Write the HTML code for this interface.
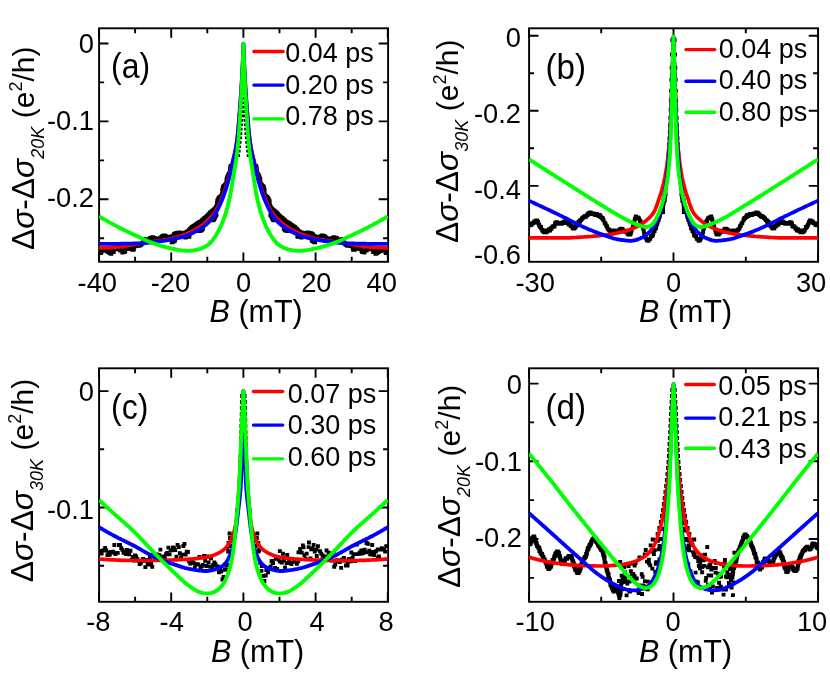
<!DOCTYPE html>
<html><head><meta charset="utf-8"><title>figure</title>
<style>
html,body{margin:0;padding:0;background:#fff;}
svg{display:block;will-change:transform;}
text{font-family:"Liberation Sans", sans-serif;fill:#000;}
</style></head>
<body>

<svg width="830" height="675" viewBox="0 0 830 675">
<rect width="830" height="675" fill="#fff"/>
<g>
<clipPath id="cpa"><rect x="99.1" y="28.3" width="289.0" height="233.5"/></clipPath>
<path d="M99.0 261.8v-9.4M99.0 28.3v9.4M171.2 261.8v-9.4M171.2 28.3v9.4M243.4 261.8v-9.4M243.4 28.3v9.4M315.6 261.8v-9.4M315.6 28.3v9.4M387.8 261.8v-9.4M387.8 28.3v9.4M135.1 261.8v-5.0M135.1 28.3v5.0M207.3 261.8v-5.0M207.3 28.3v5.0M279.5 261.8v-5.0M279.5 28.3v5.0M351.7 261.8v-5.0M351.7 28.3v5.0M99.1 43.5h9.4M388.1 43.5h-9.4M99.1 121.4h9.4M388.1 121.4h-9.4M99.1 199.3h9.4M388.1 199.3h-9.4M99.1 82.4h5.0M388.1 82.4h-5.0M99.1 160.4h5.0M388.1 160.4h-5.0M99.1 238.3h5.0M388.1 238.3h-5.0" stroke="#000" stroke-width="1.9" fill="none"/>
<rect x="99.1" y="28.3" width="289.0" height="233.5" fill="none" stroke="#000" stroke-width="1.9"/>
<g clip-path="url(#cpa)">
<path d="M98.3 249.8h3.9v3.9h-3.9zM98.9 251.2h3.9v3.9h-3.9zM99.5 250.4h3.9v3.9h-3.9zM100.0 248.5h3.9v3.9h-3.9zM100.7 248.7h3.9v3.9h-3.9zM101.2 248.1h3.9v3.9h-3.9zM101.9 248.3h3.9v3.9h-3.9zM102.5 248.5h3.9v3.9h-3.9zM103.0 246.7h3.9v3.9h-3.9zM103.6 246.7h3.9v3.9h-3.9zM104.3 249.1h3.9v3.9h-3.9zM104.9 248.5h3.9v3.9h-3.9zM105.6 249.8h3.9v3.9h-3.9zM106.1 248.4h3.9v3.9h-3.9zM106.8 250.0h3.9v3.9h-3.9zM107.5 251.1h3.9v3.9h-3.9zM108.0 250.0h3.9v3.9h-3.9zM108.8 251.9h3.9v3.9h-3.9zM109.4 251.8h3.9v3.9h-3.9zM109.8 249.2h3.9v3.9h-3.9zM110.4 248.8h3.9v3.9h-3.9zM111.0 249.7h3.9v3.9h-3.9zM111.7 250.1h3.9v3.9h-3.9zM112.1 248.1h3.9v3.9h-3.9zM112.7 247.2h3.9v3.9h-3.9zM113.3 247.3h3.9v3.9h-3.9zM113.8 245.9h3.9v3.9h-3.9zM114.4 246.2h3.9v3.9h-3.9zM115.1 246.8h3.9v3.9h-3.9zM115.7 247.1h3.9v3.9h-3.9zM116.3 246.7h3.9v3.9h-3.9zM117.0 247.1h3.9v3.9h-3.9zM117.6 247.5h3.9v3.9h-3.9zM118.3 248.6h3.9v3.9h-3.9zM119.0 248.6h3.9v3.9h-3.9zM119.5 248.2h3.9v3.9h-3.9zM120.4 250.5h3.9v3.9h-3.9zM121.0 249.8h3.9v3.9h-3.9zM121.6 249.9h3.9v3.9h-3.9zM122.0 248.5h3.9v3.9h-3.9zM122.8 250.1h3.9v3.9h-3.9zM123.3 249.2h3.9v3.9h-3.9zM123.6 246.7h3.9v3.9h-3.9zM124.2 246.7h3.9v3.9h-3.9zM124.9 247.1h3.9v3.9h-3.9zM125.4 246.6h3.9v3.9h-3.9zM126.1 246.8h3.9v3.9h-3.9zM126.5 245.3h3.9v3.9h-3.9zM127.2 246.3h3.9v3.9h-3.9zM127.8 246.0h3.9v3.9h-3.9zM128.3 245.3h3.9v3.9h-3.9zM129.1 246.4h3.9v3.9h-3.9zM129.9 247.6h3.9v3.9h-3.9zM130.6 247.9h3.9v3.9h-3.9zM131.1 247.4h3.9v3.9h-3.9zM131.8 247.9h3.9v3.9h-3.9zM132.1 245.7h3.9v3.9h-3.9zM132.5 244.8h3.9v3.9h-3.9zM132.9 243.3h3.9v3.9h-3.9zM133.6 243.8h3.9v3.9h-3.9zM134.3 244.2h3.9v3.9h-3.9zM134.7 243.4h3.9v3.9h-3.9zM135.3 243.2h3.9v3.9h-3.9zM135.9 243.3h3.9v3.9h-3.9zM136.6 243.9h3.9v3.9h-3.9zM137.2 243.8h3.9v3.9h-3.9zM137.8 243.5h3.9v3.9h-3.9zM138.2 242.7h3.9v3.9h-3.9zM138.9 242.8h3.9v3.9h-3.9zM139.4 242.5h3.9v3.9h-3.9zM139.9 241.6h3.9v3.9h-3.9zM140.5 241.7h3.9v3.9h-3.9zM141.0 240.8h3.9v3.9h-3.9zM141.3 238.6h3.9v3.9h-3.9zM141.7 237.2h3.9v3.9h-3.9zM142.3 237.2h3.9v3.9h-3.9zM142.8 236.9h3.9v3.9h-3.9zM143.8 239.5h3.9v3.9h-3.9zM144.4 239.2h3.9v3.9h-3.9zM144.9 238.6h3.9v3.9h-3.9zM145.5 238.5h3.9v3.9h-3.9zM146.1 238.3h3.9v3.9h-3.9zM146.6 237.6h3.9v3.9h-3.9zM147.2 237.6h3.9v3.9h-3.9zM147.7 236.8h3.9v3.9h-3.9zM148.2 236.0h3.9v3.9h-3.9zM148.7 235.9h3.9v3.9h-3.9zM149.3 235.7h3.9v3.9h-3.9zM149.9 235.7h3.9v3.9h-3.9zM150.5 235.5h3.9v3.9h-3.9zM151.1 235.3h3.9v3.9h-3.9zM151.8 236.2h3.9v3.9h-3.9zM152.4 235.9h3.9v3.9h-3.9zM153.0 236.2h3.9v3.9h-3.9zM153.7 236.5h3.9v3.9h-3.9zM154.3 236.9h3.9v3.9h-3.9zM155.0 237.1h3.9v3.9h-3.9zM155.6 237.4h3.9v3.9h-3.9zM156.2 237.3h3.9v3.9h-3.9zM156.8 237.3h3.9v3.9h-3.9zM157.4 237.3h3.9v3.9h-3.9zM157.9 236.3h3.9v3.9h-3.9zM158.5 236.0h3.9v3.9h-3.9zM159.0 235.8h3.9v3.9h-3.9zM159.5 235.1h3.9v3.9h-3.9zM160.0 234.6h3.9v3.9h-3.9zM160.6 234.3h3.9v3.9h-3.9zM161.2 234.0h3.9v3.9h-3.9zM161.7 233.7h3.9v3.9h-3.9zM162.3 233.6h3.9v3.9h-3.9zM162.9 233.6h3.9v3.9h-3.9zM163.5 233.9h3.9v3.9h-3.9zM164.2 234.5h3.9v3.9h-3.9zM164.9 234.7h3.9v3.9h-3.9zM165.5 235.0h3.9v3.9h-3.9zM166.1 235.0h3.9v3.9h-3.9zM166.7 235.0h3.9v3.9h-3.9zM167.3 235.1h3.9v3.9h-3.9zM167.9 235.1h3.9v3.9h-3.9zM168.5 235.0h3.9v3.9h-3.9zM169.7 240.4h3.9v3.9h-3.9zM169.2 235.3h3.9v3.9h-3.9zM170.3 240.3h3.9v3.9h-3.9zM169.6 234.5h3.9v3.9h-3.9zM170.8 239.9h3.9v3.9h-3.9zM170.1 234.2h3.9v3.9h-3.9zM171.4 239.5h3.9v3.9h-3.9zM170.7 234.3h3.9v3.9h-3.9zM171.9 239.1h3.9v3.9h-3.9zM171.2 233.8h3.9v3.9h-3.9zM172.5 238.8h3.9v3.9h-3.9zM171.7 233.3h3.9v3.9h-3.9zM173.1 238.7h3.9v3.9h-3.9zM172.0 232.3h3.9v3.9h-3.9zM172.6 232.2h3.9v3.9h-3.9zM173.1 232.0h3.9v3.9h-3.9zM173.5 231.2h3.9v3.9h-3.9zM174.1 231.2h3.9v3.9h-3.9zM174.7 231.2h3.9v3.9h-3.9zM175.3 231.0h3.9v3.9h-3.9zM175.8 230.7h3.9v3.9h-3.9zM176.4 231.0h3.9v3.9h-3.9zM177.0 230.9h3.9v3.9h-3.9zM177.6 230.6h3.9v3.9h-3.9zM178.3 230.9h3.9v3.9h-3.9zM179.0 231.1h3.9v3.9h-3.9zM179.6 231.0h3.9v3.9h-3.9zM180.3 231.4h3.9v3.9h-3.9zM180.9 231.2h3.9v3.9h-3.9zM181.5 231.1h3.9v3.9h-3.9zM183.2 235.7h3.9v3.9h-3.9zM182.2 231.3h3.9v3.9h-3.9zM183.7 235.3h3.9v3.9h-3.9zM182.8 231.2h3.9v3.9h-3.9zM184.2 235.0h3.9v3.9h-3.9zM183.1 230.5h3.9v3.9h-3.9zM184.8 234.8h3.9v3.9h-3.9zM183.8 230.5h3.9v3.9h-3.9zM185.5 234.8h3.9v3.9h-3.9zM184.4 230.5h3.9v3.9h-3.9zM186.2 234.9h3.9v3.9h-3.9zM184.8 229.9h3.9v3.9h-3.9zM186.9 234.9h3.9v3.9h-3.9zM185.3 229.4h3.9v3.9h-3.9zM187.5 234.7h3.9v3.9h-3.9zM186.0 229.7h3.9v3.9h-3.9zM186.5 229.3h3.9v3.9h-3.9zM186.9 228.8h3.9v3.9h-3.9zM187.1 227.9h3.9v3.9h-3.9zM187.8 227.9h3.9v3.9h-3.9zM188.0 227.1h3.9v3.9h-3.9zM188.5 226.7h3.9v3.9h-3.9zM188.9 226.4h3.9v3.9h-3.9zM189.5 226.2h3.9v3.9h-3.9zM189.7 225.3h3.9v3.9h-3.9zM190.2 225.0h3.9v3.9h-3.9zM190.7 224.8h3.9v3.9h-3.9zM191.3 224.7h3.9v3.9h-3.9zM191.6 224.0h3.9v3.9h-3.9zM192.2 223.9h3.9v3.9h-3.9zM192.6 223.4h3.9v3.9h-3.9zM193.2 223.3h3.9v3.9h-3.9zM196.6 229.1h3.9v3.9h-3.9zM193.5 222.8h3.9v3.9h-3.9zM197.2 229.0h3.9v3.9h-3.9zM194.2 222.9h3.9v3.9h-3.9zM197.9 228.9h3.9v3.9h-3.9zM194.6 222.4h3.9v3.9h-3.9zM198.6 228.8h3.9v3.9h-3.9zM194.8 221.7h3.9v3.9h-3.9zM199.2 228.5h3.9v3.9h-3.9zM195.3 221.5h3.9v3.9h-3.9zM199.8 228.2h3.9v3.9h-3.9zM196.1 221.6h3.9v3.9h-3.9zM200.2 227.7h3.9v3.9h-3.9zM196.3 220.9h3.9v3.9h-3.9zM200.6 227.1h3.9v3.9h-3.9zM197.0 221.0h3.9v3.9h-3.9zM201.0 226.5h3.9v3.9h-3.9zM197.2 220.3h3.9v3.9h-3.9zM197.8 220.1h3.9v3.9h-3.9zM198.4 220.0h3.9v3.9h-3.9zM198.9 219.8h3.9v3.9h-3.9zM199.5 219.6h3.9v3.9h-3.9zM199.5 218.7h3.9v3.9h-3.9zM200.4 218.9h3.9v3.9h-3.9zM200.4 218.0h3.9v3.9h-3.9zM200.8 217.6h3.9v3.9h-3.9zM201.5 217.5h3.9v3.9h-3.9zM202.1 217.3h3.9v3.9h-3.9zM202.2 216.5h3.9v3.9h-3.9zM202.5 216.1h3.9v3.9h-3.9zM203.1 215.8h3.9v3.9h-3.9zM203.6 215.6h3.9v3.9h-3.9zM204.1 215.2h3.9v3.9h-3.9zM204.5 214.9h3.9v3.9h-3.9zM205.0 214.5h3.9v3.9h-3.9zM205.1 213.9h3.9v3.9h-3.9zM205.7 213.6h3.9v3.9h-3.9zM206.2 213.3h3.9v3.9h-3.9zM211.4 218.3h3.9v3.9h-3.9zM206.6 213.0h3.9v3.9h-3.9zM211.8 217.7h3.9v3.9h-3.9zM206.7 212.3h3.9v3.9h-3.9zM212.2 217.2h3.9v3.9h-3.9zM207.3 212.1h3.9v3.9h-3.9zM212.5 216.5h3.9v3.9h-3.9zM207.6 211.6h3.9v3.9h-3.9zM212.7 215.9h3.9v3.9h-3.9zM208.1 211.3h3.9v3.9h-3.9zM213.0 215.3h3.9v3.9h-3.9zM208.1 210.6h3.9v3.9h-3.9zM213.3 214.7h3.9v3.9h-3.9zM208.5 210.2h3.9v3.9h-3.9zM213.6 214.1h3.9v3.9h-3.9zM209.5 210.3h3.9v3.9h-3.9zM214.0 213.6h3.9v3.9h-3.9zM209.9 209.8h3.9v3.9h-3.9zM214.5 213.2h3.9v3.9h-3.9zM210.2 209.4h3.9v3.9h-3.9zM210.3 208.8h3.9v3.9h-3.9zM210.9 208.5h3.9v3.9h-3.9zM211.7 208.3h3.9v3.9h-3.9zM212.2 208.0h3.9v3.9h-3.9zM212.4 207.4h3.9v3.9h-3.9zM212.7 206.9h3.9v3.9h-3.9zM213.1 206.5h3.9v3.9h-3.9zM213.9 206.2h3.9v3.9h-3.9zM213.9 205.6h3.9v3.9h-3.9zM214.4 205.1h3.9v3.9h-3.9zM214.8 204.7h3.9v3.9h-3.9zM214.6 203.9h3.9v3.9h-3.9zM215.3 203.6h3.9v3.9h-3.9zM215.1 202.8h3.9v3.9h-3.9zM215.6 202.4h3.9v3.9h-3.9zM215.6 201.8h3.9v3.9h-3.9zM215.1 200.9h3.9v3.9h-3.9zM215.6 200.5h3.9v3.9h-3.9zM215.3 199.7h3.9v3.9h-3.9zM215.5 199.1h3.9v3.9h-3.9zM215.4 198.4h3.9v3.9h-3.9zM216.0 198.0h3.9v3.9h-3.9zM216.2 197.5h3.9v3.9h-3.9zM216.6 197.0h3.9v3.9h-3.9zM216.5 196.3h3.9v3.9h-3.9zM217.1 195.9h3.9v3.9h-3.9zM217.3 195.4h3.9v3.9h-3.9zM217.8 194.9h3.9v3.9h-3.9zM218.8 194.7h3.9v3.9h-3.9zM219.0 194.1h3.9v3.9h-3.9zM219.7 193.8h3.9v3.9h-3.9zM220.1 193.3h3.9v3.9h-3.9zM220.4 192.8h3.9v3.9h-3.9zM220.1 192.0h3.9v3.9h-3.9zM220.3 191.4h3.9v3.9h-3.9zM220.3 190.8h3.9v3.9h-3.9zM220.7 190.3h3.9v3.9h-3.9zM220.5 189.6h3.9v3.9h-3.9zM220.3 188.9h3.9v3.9h-3.9zM220.6 188.4h3.9v3.9h-3.9zM220.4 187.7h3.9v3.9h-3.9zM220.7 187.2h3.9v3.9h-3.9zM221.0 186.6h3.9v3.9h-3.9zM221.0 186.0h3.9v3.9h-3.9zM220.9 185.3h3.9v3.9h-3.9zM221.5 184.9h3.9v3.9h-3.9zM221.6 184.3h3.9v3.9h-3.9zM222.4 183.9h3.9v3.9h-3.9zM222.9 183.5h3.9v3.9h-3.9zM223.0 182.9h3.9v3.9h-3.9zM223.4 182.4h3.9v3.9h-3.9zM224.3 182.0h3.9v3.9h-3.9zM224.1 181.4h3.9v3.9h-3.9zM224.7 180.9h3.9v3.9h-3.9zM224.8 180.3h3.9v3.9h-3.9zM224.5 179.6h3.9v3.9h-3.9zM225.0 179.1h3.9v3.9h-3.9zM224.9 178.5h3.9v3.9h-3.9zM224.5 177.7h3.9v3.9h-3.9zM224.9 177.2h3.9v3.9h-3.9zM225.1 176.7h3.9v3.9h-3.9zM225.2 176.1h3.9v3.9h-3.9zM225.3 175.5h3.9v3.9h-3.9zM225.4 174.9h3.9v3.9h-3.9zM225.9 174.4h3.9v3.9h-3.9zM225.9 173.8h3.9v3.9h-3.9zM226.4 173.3h3.9v3.9h-3.9zM226.5 172.7h3.9v3.9h-3.9zM226.9 172.1h3.9v3.9h-3.9zM227.3 171.7h3.9v3.9h-3.9zM227.6 171.1h3.9v3.9h-3.9zM227.7 170.5h3.9v3.9h-3.9zM227.9 169.9h3.9v3.9h-3.9zM227.9 169.3h3.9v3.9h-3.9zM228.1 168.8h3.9v3.9h-3.9zM228.2 168.1h3.9v3.9h-3.9zM228.0 167.5h3.9v3.9h-3.9zM228.2 166.9h3.9v3.9h-3.9zM228.2 166.3h3.9v3.9h-3.9zM228.4 165.7h3.9v3.9h-3.9zM228.5 165.1h3.9v3.9h-3.9zM228.8 164.6h3.9v3.9h-3.9zM228.7 164.0h3.9v3.9h-3.9zM384.6 249.8h3.9v3.9h-3.9zM384.0 251.2h3.9v3.9h-3.9zM383.4 250.4h3.9v3.9h-3.9zM382.9 248.5h3.9v3.9h-3.9zM382.2 248.7h3.9v3.9h-3.9zM381.7 248.1h3.9v3.9h-3.9zM381.0 248.3h3.9v3.9h-3.9zM380.4 248.5h3.9v3.9h-3.9zM379.9 246.7h3.9v3.9h-3.9zM379.3 246.7h3.9v3.9h-3.9zM378.6 249.1h3.9v3.9h-3.9zM378.0 248.5h3.9v3.9h-3.9zM377.3 249.8h3.9v3.9h-3.9zM376.8 248.4h3.9v3.9h-3.9zM376.1 250.0h3.9v3.9h-3.9zM375.4 251.1h3.9v3.9h-3.9zM374.9 250.0h3.9v3.9h-3.9zM374.1 251.9h3.9v3.9h-3.9zM373.5 251.8h3.9v3.9h-3.9zM373.1 249.2h3.9v3.9h-3.9zM372.5 248.8h3.9v3.9h-3.9zM371.9 249.7h3.9v3.9h-3.9zM371.2 250.1h3.9v3.9h-3.9zM370.8 248.1h3.9v3.9h-3.9zM370.2 247.2h3.9v3.9h-3.9zM369.6 247.3h3.9v3.9h-3.9zM369.1 245.9h3.9v3.9h-3.9zM368.5 246.2h3.9v3.9h-3.9zM367.8 246.8h3.9v3.9h-3.9zM367.2 247.1h3.9v3.9h-3.9zM366.6 246.7h3.9v3.9h-3.9zM365.9 247.1h3.9v3.9h-3.9zM365.3 247.5h3.9v3.9h-3.9zM364.6 248.6h3.9v3.9h-3.9zM363.9 248.6h3.9v3.9h-3.9zM363.4 248.2h3.9v3.9h-3.9zM362.5 250.5h3.9v3.9h-3.9zM361.9 249.8h3.9v3.9h-3.9zM361.3 249.9h3.9v3.9h-3.9zM360.9 248.5h3.9v3.9h-3.9zM360.1 250.1h3.9v3.9h-3.9zM359.6 249.2h3.9v3.9h-3.9zM359.3 246.7h3.9v3.9h-3.9zM358.7 246.7h3.9v3.9h-3.9zM358.0 247.1h3.9v3.9h-3.9zM357.5 246.6h3.9v3.9h-3.9zM356.8 246.8h3.9v3.9h-3.9zM356.4 245.3h3.9v3.9h-3.9zM355.7 246.3h3.9v3.9h-3.9zM355.1 246.0h3.9v3.9h-3.9zM354.6 245.3h3.9v3.9h-3.9zM353.8 246.4h3.9v3.9h-3.9zM353.0 247.6h3.9v3.9h-3.9zM352.3 247.9h3.9v3.9h-3.9zM351.8 247.4h3.9v3.9h-3.9zM351.1 247.9h3.9v3.9h-3.9zM350.8 245.7h3.9v3.9h-3.9zM350.4 244.8h3.9v3.9h-3.9zM350.0 243.3h3.9v3.9h-3.9zM349.3 243.8h3.9v3.9h-3.9zM348.6 244.2h3.9v3.9h-3.9zM348.2 243.4h3.9v3.9h-3.9zM347.6 243.2h3.9v3.9h-3.9zM347.0 243.3h3.9v3.9h-3.9zM346.3 243.9h3.9v3.9h-3.9zM345.7 243.8h3.9v3.9h-3.9zM345.1 243.5h3.9v3.9h-3.9zM344.7 242.7h3.9v3.9h-3.9zM344.0 242.8h3.9v3.9h-3.9zM343.5 242.5h3.9v3.9h-3.9zM343.0 241.6h3.9v3.9h-3.9zM342.4 241.7h3.9v3.9h-3.9zM341.9 240.8h3.9v3.9h-3.9zM341.6 238.6h3.9v3.9h-3.9zM341.2 237.2h3.9v3.9h-3.9zM340.6 237.2h3.9v3.9h-3.9zM340.1 236.9h3.9v3.9h-3.9zM339.1 239.5h3.9v3.9h-3.9zM338.5 239.2h3.9v3.9h-3.9zM338.0 238.6h3.9v3.9h-3.9zM337.4 238.5h3.9v3.9h-3.9zM336.8 238.3h3.9v3.9h-3.9zM336.3 237.6h3.9v3.9h-3.9zM335.7 237.6h3.9v3.9h-3.9zM335.2 236.8h3.9v3.9h-3.9zM334.7 236.0h3.9v3.9h-3.9zM334.2 235.9h3.9v3.9h-3.9zM333.6 235.7h3.9v3.9h-3.9zM333.0 235.7h3.9v3.9h-3.9zM332.4 235.5h3.9v3.9h-3.9zM331.8 235.3h3.9v3.9h-3.9zM331.1 236.2h3.9v3.9h-3.9zM330.5 235.9h3.9v3.9h-3.9zM329.9 236.2h3.9v3.9h-3.9zM329.2 236.5h3.9v3.9h-3.9zM328.6 236.9h3.9v3.9h-3.9zM327.9 237.1h3.9v3.9h-3.9zM327.3 237.4h3.9v3.9h-3.9zM326.7 237.3h3.9v3.9h-3.9zM326.1 237.3h3.9v3.9h-3.9zM325.5 237.3h3.9v3.9h-3.9zM325.0 236.3h3.9v3.9h-3.9zM324.4 236.0h3.9v3.9h-3.9zM323.9 235.8h3.9v3.9h-3.9zM323.4 235.1h3.9v3.9h-3.9zM322.9 234.6h3.9v3.9h-3.9zM322.3 234.3h3.9v3.9h-3.9zM321.7 234.0h3.9v3.9h-3.9zM321.2 233.7h3.9v3.9h-3.9zM320.6 233.6h3.9v3.9h-3.9zM320.0 233.6h3.9v3.9h-3.9zM319.4 233.9h3.9v3.9h-3.9zM318.7 234.5h3.9v3.9h-3.9zM318.0 234.7h3.9v3.9h-3.9zM317.4 235.0h3.9v3.9h-3.9zM316.8 235.0h3.9v3.9h-3.9zM316.2 235.0h3.9v3.9h-3.9zM315.6 235.1h3.9v3.9h-3.9zM315.0 235.1h3.9v3.9h-3.9zM314.4 235.0h3.9v3.9h-3.9zM313.2 240.4h3.9v3.9h-3.9zM313.7 235.3h3.9v3.9h-3.9zM312.6 240.3h3.9v3.9h-3.9zM313.3 234.5h3.9v3.9h-3.9zM312.1 239.9h3.9v3.9h-3.9zM312.8 234.2h3.9v3.9h-3.9zM311.5 239.5h3.9v3.9h-3.9zM312.2 234.3h3.9v3.9h-3.9zM311.0 239.1h3.9v3.9h-3.9zM311.7 233.8h3.9v3.9h-3.9zM310.4 238.8h3.9v3.9h-3.9zM311.2 233.3h3.9v3.9h-3.9zM309.8 238.7h3.9v3.9h-3.9zM310.9 232.3h3.9v3.9h-3.9zM310.3 232.2h3.9v3.9h-3.9zM309.8 232.0h3.9v3.9h-3.9zM309.4 231.2h3.9v3.9h-3.9zM308.8 231.2h3.9v3.9h-3.9zM308.2 231.2h3.9v3.9h-3.9zM307.6 231.0h3.9v3.9h-3.9zM307.1 230.7h3.9v3.9h-3.9zM306.5 231.0h3.9v3.9h-3.9zM305.9 230.9h3.9v3.9h-3.9zM305.3 230.6h3.9v3.9h-3.9zM304.6 230.9h3.9v3.9h-3.9zM303.9 231.1h3.9v3.9h-3.9zM303.3 231.0h3.9v3.9h-3.9zM302.6 231.4h3.9v3.9h-3.9zM302.0 231.2h3.9v3.9h-3.9zM301.4 231.1h3.9v3.9h-3.9zM299.7 235.7h3.9v3.9h-3.9zM300.7 231.3h3.9v3.9h-3.9zM299.2 235.3h3.9v3.9h-3.9zM300.1 231.2h3.9v3.9h-3.9zM298.7 235.0h3.9v3.9h-3.9zM299.8 230.5h3.9v3.9h-3.9zM298.1 234.8h3.9v3.9h-3.9zM299.1 230.5h3.9v3.9h-3.9zM297.4 234.8h3.9v3.9h-3.9zM298.5 230.5h3.9v3.9h-3.9zM296.7 234.9h3.9v3.9h-3.9zM298.1 229.9h3.9v3.9h-3.9zM296.0 234.9h3.9v3.9h-3.9zM297.6 229.4h3.9v3.9h-3.9zM295.4 234.7h3.9v3.9h-3.9zM296.9 229.7h3.9v3.9h-3.9zM296.4 229.3h3.9v3.9h-3.9zM296.0 228.8h3.9v3.9h-3.9zM295.8 227.9h3.9v3.9h-3.9zM295.1 227.9h3.9v3.9h-3.9zM294.9 227.1h3.9v3.9h-3.9zM294.4 226.7h3.9v3.9h-3.9zM294.0 226.4h3.9v3.9h-3.9zM293.4 226.2h3.9v3.9h-3.9zM293.2 225.3h3.9v3.9h-3.9zM292.7 225.0h3.9v3.9h-3.9zM292.2 224.8h3.9v3.9h-3.9zM291.6 224.7h3.9v3.9h-3.9zM291.3 224.0h3.9v3.9h-3.9zM290.7 223.9h3.9v3.9h-3.9zM290.3 223.4h3.9v3.9h-3.9zM289.7 223.3h3.9v3.9h-3.9zM286.3 229.1h3.9v3.9h-3.9zM289.4 222.8h3.9v3.9h-3.9zM285.7 229.0h3.9v3.9h-3.9zM288.7 222.9h3.9v3.9h-3.9zM285.0 228.9h3.9v3.9h-3.9zM288.3 222.4h3.9v3.9h-3.9zM284.3 228.8h3.9v3.9h-3.9zM288.1 221.7h3.9v3.9h-3.9zM283.7 228.5h3.9v3.9h-3.9zM287.6 221.5h3.9v3.9h-3.9zM283.1 228.2h3.9v3.9h-3.9zM286.8 221.6h3.9v3.9h-3.9zM282.7 227.7h3.9v3.9h-3.9zM286.6 220.9h3.9v3.9h-3.9zM282.3 227.1h3.9v3.9h-3.9zM285.9 221.0h3.9v3.9h-3.9zM281.9 226.5h3.9v3.9h-3.9zM285.7 220.3h3.9v3.9h-3.9zM285.1 220.1h3.9v3.9h-3.9zM284.5 220.0h3.9v3.9h-3.9zM284.0 219.8h3.9v3.9h-3.9zM283.4 219.6h3.9v3.9h-3.9zM283.4 218.7h3.9v3.9h-3.9zM282.5 218.9h3.9v3.9h-3.9zM282.5 218.0h3.9v3.9h-3.9zM282.1 217.6h3.9v3.9h-3.9zM281.4 217.5h3.9v3.9h-3.9zM280.8 217.3h3.9v3.9h-3.9zM280.7 216.5h3.9v3.9h-3.9zM280.4 216.1h3.9v3.9h-3.9zM279.8 215.8h3.9v3.9h-3.9zM279.3 215.6h3.9v3.9h-3.9zM278.8 215.2h3.9v3.9h-3.9zM278.4 214.9h3.9v3.9h-3.9zM277.9 214.5h3.9v3.9h-3.9zM277.8 213.9h3.9v3.9h-3.9zM277.2 213.6h3.9v3.9h-3.9zM276.7 213.3h3.9v3.9h-3.9zM271.5 218.3h3.9v3.9h-3.9zM276.3 213.0h3.9v3.9h-3.9zM271.1 217.7h3.9v3.9h-3.9zM276.2 212.3h3.9v3.9h-3.9zM270.7 217.2h3.9v3.9h-3.9zM275.6 212.1h3.9v3.9h-3.9zM270.4 216.5h3.9v3.9h-3.9zM275.3 211.6h3.9v3.9h-3.9zM270.2 215.9h3.9v3.9h-3.9zM274.8 211.3h3.9v3.9h-3.9zM269.9 215.3h3.9v3.9h-3.9zM274.8 210.6h3.9v3.9h-3.9zM269.6 214.7h3.9v3.9h-3.9zM274.4 210.2h3.9v3.9h-3.9zM269.3 214.1h3.9v3.9h-3.9zM273.4 210.3h3.9v3.9h-3.9zM268.9 213.6h3.9v3.9h-3.9zM273.0 209.8h3.9v3.9h-3.9zM268.4 213.2h3.9v3.9h-3.9zM272.7 209.4h3.9v3.9h-3.9zM272.6 208.8h3.9v3.9h-3.9zM272.0 208.5h3.9v3.9h-3.9zM271.2 208.3h3.9v3.9h-3.9zM270.7 208.0h3.9v3.9h-3.9zM270.5 207.4h3.9v3.9h-3.9zM270.2 206.9h3.9v3.9h-3.9zM269.8 206.5h3.9v3.9h-3.9zM269.0 206.2h3.9v3.9h-3.9zM269.0 205.6h3.9v3.9h-3.9zM268.5 205.1h3.9v3.9h-3.9zM268.1 204.7h3.9v3.9h-3.9zM268.3 203.9h3.9v3.9h-3.9zM267.6 203.6h3.9v3.9h-3.9zM267.8 202.8h3.9v3.9h-3.9zM267.3 202.4h3.9v3.9h-3.9zM267.3 201.8h3.9v3.9h-3.9zM267.8 200.9h3.9v3.9h-3.9zM267.3 200.5h3.9v3.9h-3.9zM267.6 199.7h3.9v3.9h-3.9zM267.4 199.1h3.9v3.9h-3.9zM267.5 198.4h3.9v3.9h-3.9zM266.9 198.0h3.9v3.9h-3.9zM266.7 197.5h3.9v3.9h-3.9zM266.3 197.0h3.9v3.9h-3.9zM266.4 196.3h3.9v3.9h-3.9zM265.8 195.9h3.9v3.9h-3.9zM265.6 195.4h3.9v3.9h-3.9zM265.1 194.9h3.9v3.9h-3.9zM264.1 194.7h3.9v3.9h-3.9zM263.9 194.1h3.9v3.9h-3.9zM263.2 193.8h3.9v3.9h-3.9zM262.8 193.3h3.9v3.9h-3.9zM262.5 192.8h3.9v3.9h-3.9zM262.8 192.0h3.9v3.9h-3.9zM262.6 191.4h3.9v3.9h-3.9zM262.6 190.8h3.9v3.9h-3.9zM262.2 190.3h3.9v3.9h-3.9zM262.4 189.6h3.9v3.9h-3.9zM262.6 188.9h3.9v3.9h-3.9zM262.3 188.4h3.9v3.9h-3.9zM262.5 187.7h3.9v3.9h-3.9zM262.2 187.2h3.9v3.9h-3.9zM261.9 186.6h3.9v3.9h-3.9zM261.9 186.0h3.9v3.9h-3.9zM262.0 185.3h3.9v3.9h-3.9zM261.4 184.9h3.9v3.9h-3.9zM261.3 184.3h3.9v3.9h-3.9zM260.5 183.9h3.9v3.9h-3.9zM260.0 183.5h3.9v3.9h-3.9zM259.9 182.9h3.9v3.9h-3.9zM259.5 182.4h3.9v3.9h-3.9zM258.6 182.0h3.9v3.9h-3.9zM258.8 181.4h3.9v3.9h-3.9zM258.2 180.9h3.9v3.9h-3.9zM258.1 180.3h3.9v3.9h-3.9zM258.4 179.6h3.9v3.9h-3.9zM257.9 179.1h3.9v3.9h-3.9zM258.0 178.5h3.9v3.9h-3.9zM258.4 177.7h3.9v3.9h-3.9zM258.0 177.2h3.9v3.9h-3.9zM257.8 176.7h3.9v3.9h-3.9zM257.7 176.1h3.9v3.9h-3.9zM257.6 175.5h3.9v3.9h-3.9zM257.5 174.9h3.9v3.9h-3.9zM257.0 174.4h3.9v3.9h-3.9zM257.0 173.8h3.9v3.9h-3.9zM256.5 173.3h3.9v3.9h-3.9zM256.4 172.7h3.9v3.9h-3.9zM256.0 172.1h3.9v3.9h-3.9zM255.6 171.7h3.9v3.9h-3.9zM255.3 171.1h3.9v3.9h-3.9zM255.2 170.5h3.9v3.9h-3.9zM255.0 169.9h3.9v3.9h-3.9zM255.0 169.3h3.9v3.9h-3.9zM254.8 168.8h3.9v3.9h-3.9zM254.7 168.1h3.9v3.9h-3.9zM254.9 167.5h3.9v3.9h-3.9zM254.7 166.9h3.9v3.9h-3.9zM254.7 166.3h3.9v3.9h-3.9zM254.5 165.7h3.9v3.9h-3.9zM254.4 165.1h3.9v3.9h-3.9zM254.1 164.6h3.9v3.9h-3.9zM254.2 164.0h3.9v3.9h-3.9z" fill="#000"/>
<path d="M242.1 48.6h2.7v2.7h-2.7zM242.1 53.0h2.7v2.7h-2.7zM242.1 57.4h2.7v2.7h-2.7zM242.1 61.8h2.7v2.7h-2.7zM242.1 66.2h2.7v2.7h-2.7zM242.1 70.7h2.7v2.7h-2.7zM242.1 75.0h2.7v2.7h-2.7zM242.1 79.4h2.7v2.7h-2.7zM242.1 83.8h2.7v2.7h-2.7zM242.1 88.2h2.7v2.7h-2.7zM242.0 92.6h2.7v2.7h-2.7zM241.8 97.0h2.7v2.7h-2.7zM241.5 101.4h2.7v2.7h-2.7zM241.2 105.8h2.7v2.7h-2.7zM241.0 110.2h2.7v2.7h-2.7zM240.7 114.6h2.7v2.7h-2.7zM240.4 119.0h2.7v2.7h-2.7zM240.2 123.4h2.7v2.7h-2.7zM239.9 127.8h2.7v2.7h-2.7zM239.6 132.2h2.7v2.7h-2.7zM239.2 136.6h2.7v2.7h-2.7zM238.8 141.0h2.7v2.7h-2.7zM238.4 145.4h2.7v2.7h-2.7zM237.9 149.8h2.7v2.7h-2.7zM237.3 154.2h2.7v2.7h-2.7zM242.1 48.6h2.7v2.7h-2.7zM242.1 53.0h2.7v2.7h-2.7zM242.1 57.4h2.7v2.7h-2.7zM242.1 61.8h2.7v2.7h-2.7zM242.1 66.2h2.7v2.7h-2.7zM242.1 70.7h2.7v2.7h-2.7zM242.1 75.0h2.7v2.7h-2.7zM242.1 79.4h2.7v2.7h-2.7zM242.1 83.8h2.7v2.7h-2.7zM242.1 88.2h2.7v2.7h-2.7zM242.1 92.6h2.7v2.7h-2.7zM242.3 97.0h2.7v2.7h-2.7zM242.6 101.4h2.7v2.7h-2.7zM242.9 105.8h2.7v2.7h-2.7zM243.1 110.2h2.7v2.7h-2.7zM243.4 114.6h2.7v2.7h-2.7zM243.7 119.0h2.7v2.7h-2.7zM243.9 123.4h2.7v2.7h-2.7zM244.2 127.8h2.7v2.7h-2.7zM244.5 132.2h2.7v2.7h-2.7zM244.9 136.6h2.7v2.7h-2.7zM245.3 141.0h2.7v2.7h-2.7zM245.7 145.4h2.7v2.7h-2.7zM246.2 149.8h2.7v2.7h-2.7zM246.8 154.2h2.7v2.7h-2.7z" fill="#000"/>
<path d="M99.0 248.0 L100.5 248.0 L102.0 247.9 L103.5 247.8 L105.0 247.8 L106.5 247.7 L108.0 247.6 L109.5 247.5 L111.0 247.4 L112.5 247.3 L114.0 247.2 L115.5 247.1 L117.0 246.9 L118.5 246.8 L120.0 246.6 L121.5 246.5 L123.0 246.3 L124.5 246.1 L126.0 245.9 L127.5 245.7 L129.0 245.5 L130.5 245.2 L132.0 245.0 L133.5 244.7 L135.0 244.5 L136.5 244.2 L138.0 243.9 L139.5 243.7 L141.0 243.4 L142.5 243.2 L144.0 243.0 L145.5 242.8 L147.0 242.5 L148.5 242.3 L150.0 242.1 L151.5 241.9 L153.0 241.7 L154.5 241.4 L156.0 241.2 L157.5 241.0 L159.0 240.7 L160.5 240.5 L162.0 240.3 L163.5 240.0 L165.0 239.8 L166.5 239.5 L168.0 239.3 L169.5 239.0 L171.0 238.7 L172.5 238.3 L174.0 237.9 L175.5 237.5 L177.0 237.1 L178.5 236.6 L180.0 236.2 L181.5 235.6 L183.0 235.1 L184.5 234.6 L186.0 234.0 L187.5 233.4 L189.0 232.7 L190.5 232.1 L192.0 231.3 L193.5 230.6 L195.0 229.7 L196.5 228.9 L198.0 228.0 L199.5 227.0 L201.0 226.0 L202.5 224.9 L204.0 223.7 L205.5 222.5 L207.0 221.1 L208.5 219.7 L210.0 218.3 L211.5 216.6 L213.0 214.8 L214.5 212.8 L216.0 210.4 L217.5 207.7 L219.0 204.6 L220.5 201.3 L222.0 197.8 L223.5 194.0 L225.0 189.8 L226.5 185.2 L228.0 180.3 L229.5 174.7 L231.0 168.5 L231.4 166.8 L231.7 165.8 L231.9 164.7 L232.2 163.6 L232.4 162.5 L232.7 161.5 L232.9 160.4 L233.2 159.4 L233.4 158.4 L233.7 157.3 L233.9 156.3 L234.2 155.3 L234.4 154.3 L234.7 153.2 L234.9 152.0 L235.2 150.8 L235.4 149.5 L235.7 148.1 L235.9 146.6 L236.2 145.1 L236.4 143.5 L236.7 141.8 L236.9 139.9 L237.2 138.0 L237.4 136.0 L237.7 133.8 L237.9 131.3 L238.2 128.6 L238.4 125.8 L238.7 122.9 L238.9 119.9 L239.2 116.8 L239.4 113.8 L239.7 110.7 L239.9 107.5 L240.2 104.2 L240.4 100.8 L240.7 97.2 L240.9 93.5 L241.2 89.6 L241.4 85.4 L241.7 81.1 L241.9 76.8 L242.2 72.4 L242.4 68.0 L242.7 63.2 L242.9 57.7 L243.2 51.0 L243.4 43.6 L243.7 51.0 L243.9 57.7 L244.2 63.2 L244.4 68.0 L244.7 72.4 L244.9 76.8 L245.2 81.1 L245.4 85.4 L245.7 89.6 L245.9 93.5 L246.2 97.2 L246.4 100.8 L246.7 104.2 L246.9 107.5 L247.2 110.7 L247.4 113.8 L247.7 116.8 L247.9 119.9 L248.2 122.9 L248.4 125.8 L248.7 128.6 L248.9 131.3 L249.2 133.8 L249.4 136.0 L249.7 138.0 L249.9 139.9 L250.2 141.8 L250.4 143.5 L250.7 145.1 L250.9 146.6 L251.2 148.1 L251.4 149.5 L251.7 150.8 L251.9 152.0 L252.2 153.2 L252.4 154.3 L252.7 155.3 L252.9 156.3 L253.2 157.3 L253.4 158.4 L253.7 159.4 L253.9 160.4 L254.2 161.5 L254.4 162.5 L254.7 163.6 L254.9 164.7 L255.2 165.8 L255.4 166.8 L255.8 168.5 L257.3 174.7 L258.8 180.3 L260.3 185.2 L261.8 189.8 L263.3 194.0 L264.8 197.8 L266.3 201.3 L267.8 204.6 L269.3 207.7 L270.8 210.4 L272.3 212.8 L273.8 214.8 L275.3 216.6 L276.8 218.3 L278.3 219.7 L279.8 221.1 L281.3 222.5 L282.8 223.7 L284.3 224.9 L285.8 226.0 L287.3 227.0 L288.8 228.0 L290.3 228.9 L291.8 229.7 L293.3 230.6 L294.8 231.3 L296.3 232.1 L297.8 232.7 L299.3 233.4 L300.8 234.0 L302.3 234.6 L303.8 235.1 L305.3 235.6 L306.8 236.2 L308.3 236.6 L309.8 237.1 L311.3 237.5 L312.8 237.9 L314.3 238.3 L315.8 238.7 L317.3 239.0 L318.8 239.3 L320.3 239.5 L321.8 239.8 L323.3 240.0 L324.8 240.3 L326.3 240.5 L327.8 240.7 L329.3 241.0 L330.8 241.2 L332.3 241.4 L333.8 241.7 L335.3 241.9 L336.8 242.1 L338.3 242.3 L339.8 242.5 L341.3 242.8 L342.8 243.0 L344.3 243.2 L345.8 243.4 L347.3 243.7 L348.8 243.9 L350.3 244.2 L351.8 244.5 L353.3 244.7 L354.8 245.0 L356.3 245.2 L357.8 245.5 L359.3 245.7 L360.8 245.9 L362.3 246.1 L363.8 246.3 L365.3 246.5 L366.8 246.6 L368.3 246.8 L369.8 246.9 L371.3 247.1 L372.8 247.2 L374.3 247.3 L375.8 247.4 L377.3 247.5 L378.8 247.6 L380.3 247.7 L381.8 247.8 L383.3 247.8 L384.8 247.9 L386.3 248.0 L387.8 248.0" fill="none" stroke="#ff0000" stroke-width="3.7" stroke-linejoin="round" stroke-linecap="butt"/>
<path d="M99.0 243.8 L100.5 243.8 L102.0 243.8 L103.5 243.8 L105.0 243.8 L106.5 243.8 L108.0 243.8 L109.5 243.8 L111.0 243.8 L112.5 243.8 L114.0 243.8 L115.5 243.8 L117.0 243.8 L118.5 243.8 L120.0 243.8 L121.5 243.7 L123.0 243.7 L124.5 243.7 L126.0 243.7 L127.5 243.6 L129.0 243.6 L130.5 243.6 L132.0 243.6 L133.5 243.5 L135.0 243.5 L136.5 243.4 L138.0 243.3 L139.5 243.3 L141.0 243.2 L142.5 243.1 L144.0 243.0 L145.5 242.9 L147.0 242.8 L148.5 242.6 L150.0 242.5 L151.5 242.3 L153.0 242.1 L154.5 241.9 L156.0 241.8 L157.5 241.6 L159.0 241.4 L160.5 241.2 L162.0 241.0 L163.5 240.8 L165.0 240.6 L166.5 240.4 L168.0 240.1 L169.5 239.9 L171.0 239.6 L172.5 239.3 L174.0 239.0 L175.5 238.7 L177.0 238.4 L178.5 238.0 L180.0 237.6 L181.5 237.2 L183.0 236.7 L184.5 236.3 L186.0 235.8 L187.5 235.2 L189.0 234.7 L190.5 234.0 L192.0 233.3 L193.5 232.6 L195.0 231.8 L196.5 231.0 L198.0 230.2 L199.5 229.3 L201.0 228.4 L202.5 227.4 L204.0 226.3 L205.5 225.1 L207.0 223.8 L208.5 222.4 L210.0 220.9 L211.5 219.1 L213.0 217.2 L214.5 215.0 L216.0 212.6 L217.5 209.8 L219.0 206.8 L220.5 203.5 L222.0 200.0 L223.5 196.2 L225.0 191.9 L226.5 187.3 L228.0 182.2 L229.5 176.5 L231.0 170.1 L231.4 168.3 L231.7 167.2 L231.9 166.1 L232.2 165.0 L232.4 163.9 L232.7 162.8 L232.9 161.7 L233.2 160.6 L233.4 159.6 L233.7 158.5 L233.9 157.5 L234.2 156.5 L234.4 155.5 L234.7 154.5 L234.9 153.4 L235.2 152.3 L235.4 151.0 L235.7 149.7 L235.9 148.3 L236.2 146.8 L236.4 145.2 L236.7 143.5 L236.9 141.7 L237.2 139.8 L237.4 137.7 L237.7 135.6 L237.9 133.1 L238.2 130.4 L238.4 127.5 L238.7 124.5 L238.9 121.3 L239.2 118.2 L239.4 115.0 L239.7 111.9 L239.9 108.7 L240.2 105.5 L240.4 102.1 L240.7 98.6 L240.9 95.0 L241.2 91.2 L241.4 87.2 L241.7 83.1 L241.9 78.7 L242.2 74.0 L242.4 69.0 L242.7 63.5 L242.9 57.5 L243.2 50.9 L243.4 43.6 L243.7 50.9 L243.9 57.5 L244.2 63.5 L244.4 69.0 L244.7 74.0 L244.9 78.7 L245.2 83.1 L245.4 87.2 L245.7 91.2 L245.9 95.0 L246.2 98.6 L246.4 102.1 L246.7 105.5 L246.9 108.7 L247.2 111.9 L247.4 115.0 L247.7 118.2 L247.9 121.3 L248.2 124.5 L248.4 127.5 L248.7 130.4 L248.9 133.1 L249.2 135.6 L249.4 137.7 L249.7 139.8 L249.9 141.7 L250.2 143.5 L250.4 145.2 L250.7 146.8 L250.9 148.3 L251.2 149.7 L251.4 151.0 L251.7 152.3 L251.9 153.4 L252.2 154.5 L252.4 155.5 L252.7 156.5 L252.9 157.5 L253.2 158.5 L253.4 159.6 L253.7 160.6 L253.9 161.7 L254.2 162.8 L254.4 163.9 L254.7 165.0 L254.9 166.1 L255.2 167.2 L255.4 168.3 L255.8 170.1 L257.3 176.5 L258.8 182.2 L260.3 187.3 L261.8 191.9 L263.3 196.2 L264.8 200.0 L266.3 203.5 L267.8 206.8 L269.3 209.8 L270.8 212.6 L272.3 215.0 L273.8 217.2 L275.3 219.1 L276.8 220.9 L278.3 222.4 L279.8 223.8 L281.3 225.1 L282.8 226.3 L284.3 227.4 L285.8 228.4 L287.3 229.3 L288.8 230.2 L290.3 231.0 L291.8 231.8 L293.3 232.6 L294.8 233.3 L296.3 234.0 L297.8 234.7 L299.3 235.2 L300.8 235.8 L302.3 236.3 L303.8 236.7 L305.3 237.2 L306.8 237.6 L308.3 238.0 L309.8 238.4 L311.3 238.7 L312.8 239.0 L314.3 239.3 L315.8 239.6 L317.3 239.9 L318.8 240.1 L320.3 240.4 L321.8 240.6 L323.3 240.8 L324.8 241.0 L326.3 241.2 L327.8 241.4 L329.3 241.6 L330.8 241.8 L332.3 241.9 L333.8 242.1 L335.3 242.3 L336.8 242.5 L338.3 242.6 L339.8 242.8 L341.3 242.9 L342.8 243.0 L344.3 243.1 L345.8 243.2 L347.3 243.3 L348.8 243.3 L350.3 243.4 L351.8 243.5 L353.3 243.5 L354.8 243.6 L356.3 243.6 L357.8 243.6 L359.3 243.6 L360.8 243.7 L362.3 243.7 L363.8 243.7 L365.3 243.7 L366.8 243.8 L368.3 243.8 L369.8 243.8 L371.3 243.8 L372.8 243.8 L374.3 243.8 L375.8 243.8 L377.3 243.8 L378.8 243.8 L380.3 243.8 L381.8 243.8 L383.3 243.8 L384.8 243.8 L386.3 243.8 L387.8 243.8" fill="none" stroke="#0000ff" stroke-width="3.8" stroke-linejoin="round" stroke-linecap="butt"/>
<path d="M99.0 216.3 L100.5 217.2 L102.0 218.1 L103.5 219.0 L105.0 219.8 L106.5 220.7 L108.0 221.6 L109.5 222.4 L111.0 223.2 L112.5 224.0 L114.0 224.8 L115.5 225.6 L117.0 226.4 L118.5 227.2 L120.0 228.0 L121.5 228.7 L123.0 229.5 L124.5 230.2 L126.0 230.9 L127.5 231.7 L129.0 232.4 L130.5 233.1 L132.0 233.8 L133.5 234.5 L135.0 235.2 L136.5 235.9 L138.0 236.6 L139.5 237.3 L141.0 238.0 L142.5 238.7 L144.0 239.4 L145.5 240.1 L147.0 240.7 L148.5 241.4 L150.0 242.0 L151.5 242.5 L153.0 243.1 L154.5 243.6 L156.0 244.1 L157.5 244.6 L159.0 245.1 L160.5 245.6 L162.0 246.1 L163.5 246.5 L165.0 246.9 L166.5 247.3 L168.0 247.7 L169.5 248.1 L171.0 248.4 L172.5 248.7 L174.0 249.0 L175.5 249.3 L177.0 249.6 L178.5 249.9 L180.0 250.1 L181.5 250.4 L183.0 250.6 L184.5 250.7 L186.0 250.9 L187.5 250.9 L189.0 250.9 L190.5 250.8 L192.0 250.6 L193.5 250.4 L195.0 250.1 L196.5 249.8 L198.0 249.5 L199.5 249.2 L201.0 248.7 L202.5 248.1 L204.0 247.3 L205.5 246.5 L207.0 245.6 L208.5 244.5 L210.0 243.2 L211.5 241.6 L213.0 239.7 L214.5 237.5 L216.0 235.2 L217.5 232.7 L219.0 230.0 L220.5 226.9 L222.0 223.4 L223.5 219.7 L225.0 215.5 L226.5 210.7 L228.0 205.2 L229.5 198.8 L231.0 190.9 L231.4 188.5 L231.7 187.0 L231.9 185.5 L232.2 183.9 L232.4 182.4 L232.7 180.9 L232.9 179.4 L233.2 177.9 L233.4 176.3 L233.7 174.7 L233.9 173.1 L234.2 171.6 L234.4 170.0 L234.7 168.5 L234.9 166.9 L235.2 165.4 L235.4 163.9 L235.7 162.3 L235.9 160.7 L236.2 159.0 L236.4 157.4 L236.7 155.7 L236.9 153.9 L237.2 152.0 L237.4 150.0 L237.7 147.8 L237.9 145.3 L238.2 142.7 L238.4 139.9 L238.7 136.9 L238.9 133.7 L239.2 130.2 L239.4 126.3 L239.7 122.3 L239.9 118.2 L240.2 114.2 L240.4 110.2 L240.7 106.2 L240.9 102.0 L241.2 97.7 L241.4 93.2 L241.7 88.5 L241.9 83.5 L242.2 78.3 L242.4 72.7 L242.7 66.7 L242.9 60.0 L243.2 52.3 L243.4 43.6 L243.7 52.3 L243.9 60.0 L244.2 66.7 L244.4 72.7 L244.7 78.3 L244.9 83.5 L245.2 88.5 L245.4 93.2 L245.7 97.7 L245.9 102.0 L246.2 106.2 L246.4 110.2 L246.7 114.2 L246.9 118.2 L247.2 122.3 L247.4 126.3 L247.7 130.2 L247.9 133.7 L248.2 136.9 L248.4 139.9 L248.7 142.7 L248.9 145.3 L249.2 147.8 L249.4 150.0 L249.7 152.0 L249.9 153.9 L250.2 155.7 L250.4 157.4 L250.7 159.0 L250.9 160.7 L251.2 162.3 L251.4 163.9 L251.7 165.4 L251.9 166.9 L252.2 168.5 L252.4 170.0 L252.7 171.6 L252.9 173.1 L253.2 174.7 L253.4 176.3 L253.7 177.9 L253.9 179.4 L254.2 180.9 L254.4 182.4 L254.7 183.9 L254.9 185.5 L255.2 187.0 L255.4 188.5 L255.8 190.9 L257.3 198.8 L258.8 205.2 L260.3 210.7 L261.8 215.5 L263.3 219.7 L264.8 223.4 L266.3 226.9 L267.8 230.0 L269.3 232.7 L270.8 235.2 L272.3 237.5 L273.8 239.7 L275.3 241.6 L276.8 243.2 L278.3 244.5 L279.8 245.6 L281.3 246.5 L282.8 247.3 L284.3 248.1 L285.8 248.7 L287.3 249.2 L288.8 249.5 L290.3 249.8 L291.8 250.1 L293.3 250.4 L294.8 250.6 L296.3 250.8 L297.8 250.9 L299.3 250.9 L300.8 250.9 L302.3 250.7 L303.8 250.6 L305.3 250.4 L306.8 250.1 L308.3 249.9 L309.8 249.6 L311.3 249.3 L312.8 249.0 L314.3 248.7 L315.8 248.4 L317.3 248.1 L318.8 247.7 L320.3 247.3 L321.8 246.9 L323.3 246.5 L324.8 246.1 L326.3 245.6 L327.8 245.1 L329.3 244.6 L330.8 244.1 L332.3 243.6 L333.8 243.1 L335.3 242.5 L336.8 242.0 L338.3 241.4 L339.8 240.7 L341.3 240.1 L342.8 239.4 L344.3 238.7 L345.8 238.0 L347.3 237.3 L348.8 236.6 L350.3 235.9 L351.8 235.2 L353.3 234.5 L354.8 233.8 L356.3 233.1 L357.8 232.4 L359.3 231.7 L360.8 230.9 L362.3 230.2 L363.8 229.5 L365.3 228.7 L366.8 228.0 L368.3 227.2 L369.8 226.4 L371.3 225.6 L372.8 224.8 L374.3 224.0 L375.8 223.2 L377.3 222.4 L378.8 221.6 L380.3 220.7 L381.8 219.8 L383.3 219.0 L384.8 218.1 L386.3 217.2 L387.8 216.3" fill="none" stroke="#00ff00" stroke-width="3.9" stroke-linejoin="round" stroke-linecap="butt"/>
</g>
<text transform="translate(97.3 291.5) scale(1 1.045)" font-size="27.3" text-anchor="middle">-40</text>
<text transform="translate(170.4 291.5) scale(1 1.045)" font-size="27.3" text-anchor="middle">-20</text>
<text transform="translate(243.6 291.5) scale(1 1.045)" font-size="27.3" text-anchor="middle">0</text>
<text transform="translate(316.3 291.5) scale(1 1.045)" font-size="27.3" text-anchor="middle">20</text>
<text transform="translate(381.7 291.5) scale(1 1.045)" font-size="27.3" text-anchor="middle">40</text>
<text transform="translate(94.0 53.0) scale(1 1.045)" font-size="27.3" text-anchor="end">0</text>
<text transform="translate(94.0 129.9) scale(1 1.045)" font-size="27.3" text-anchor="end">-0.1</text>
<text transform="translate(94.0 206.7) scale(1 1.045)" font-size="27.3" text-anchor="end">-0.2</text>
<path d="M253.9 51.5H283.1" stroke="#ff0000" stroke-width="3.4" stroke-linecap="round"/>
<text transform="translate(285.3 62.1) scale(1 1.04)" font-size="27">0.04 ps</text>
<path d="M253.9 85.1H283.1" stroke="#0000ff" stroke-width="3.4" stroke-linecap="round"/>
<text transform="translate(285.3 94.0) scale(1 1.04)" font-size="27">0.20 ps</text>
<path d="M253.9 118.9H283.1" stroke="#00ff00" stroke-width="3.4" stroke-linecap="round"/>
<text transform="translate(285.3 125.1) scale(1 1.04)" font-size="27">0.78 ps</text>
<text transform="translate(111.0 78.4) scale(1 1.07)" font-size="32">(a)</text>
<text x="256.2" y="322.0" font-size="30.5" text-anchor="middle"><tspan font-style="italic">B</tspan> (mT)</text>
<g transform="translate(34.2 250.0) rotate(-90)"><text x="0" y="0" font-size="31.7">Δ<tspan font-style="italic">σ</tspan>-Δ<tspan font-style="italic">σ</tspan></text><text x="91.2" y="10" font-size="18" font-style="italic">20K</text><text x="131.7" y="0" font-size="30">(e</text><text x="158.4" y="-12" font-size="18">2</text><text x="168.4" y="0" font-size="30">/h)</text></g>
</g>
<g>
<clipPath id="cpb"><rect x="529.1" y="28.3" width="289.0" height="233.5"/></clipPath>
<path d="M529.0 261.8v-9.4M529.0 28.3v9.4M673.5 261.8v-9.4M673.5 28.3v9.4M818.0 261.8v-9.4M818.0 28.3v9.4M601.2 261.8v-5.0M601.2 28.3v5.0M745.8 261.8v-5.0M745.8 28.3v5.0M529.1 35.7h9.4M818.1 35.7h-9.4M529.1 110.8h9.4M818.1 110.8h-9.4M529.1 185.9h9.4M818.1 185.9h-9.4M529.1 73.2h5.0M818.1 73.2h-5.0M529.1 148.3h5.0M818.1 148.3h-5.0M529.1 223.4h5.0M818.1 223.4h-5.0" stroke="#000" stroke-width="1.9" fill="none"/>
<rect x="529.1" y="28.3" width="289.0" height="233.5" fill="none" stroke="#000" stroke-width="1.9"/>
<g clip-path="url(#cpb)">
<path d="M527.9 223.3h3.9v3.9h-3.9zM528.6 223.1h3.9v3.9h-3.9zM529.3 221.8h3.9v3.9h-3.9zM529.6 222.8h3.9v3.9h-3.9zM530.3 221.3h3.9v3.9h-3.9zM531.3 221.3h3.9v3.9h-3.9zM531.9 220.7h3.9v3.9h-3.9zM532.3 219.6h3.9v3.9h-3.9zM532.9 220.5h3.9v3.9h-3.9zM533.5 219.8h3.9v3.9h-3.9zM534.2 218.4h3.9v3.9h-3.9zM534.8 219.2h3.9v3.9h-3.9zM535.1 218.5h3.9v3.9h-3.9zM536.1 220.0h3.9v3.9h-3.9zM536.6 221.7h3.9v3.9h-3.9zM537.2 223.0h3.9v3.9h-3.9zM537.6 223.9h3.9v3.9h-3.9zM538.2 225.2h3.9v3.9h-3.9zM539.1 224.9h3.9v3.9h-3.9zM539.2 226.4h3.9v3.9h-3.9zM540.3 228.1h3.9v3.9h-3.9zM540.7 228.8h3.9v3.9h-3.9zM541.3 229.4h3.9v3.9h-3.9zM541.8 229.8h3.9v3.9h-3.9zM542.5 230.3h3.9v3.9h-3.9zM543.2 230.3h3.9v3.9h-3.9zM543.9 230.3h3.9v3.9h-3.9zM544.4 228.6h3.9v3.9h-3.9zM545.1 229.9h3.9v3.9h-3.9zM545.7 229.1h3.9v3.9h-3.9zM546.2 228.2h3.9v3.9h-3.9zM546.8 228.6h3.9v3.9h-3.9zM547.1 227.3h3.9v3.9h-3.9zM548.1 228.7h3.9v3.9h-3.9zM548.2 227.9h3.9v3.9h-3.9zM549.0 226.3h3.9v3.9h-3.9zM549.5 226.9h3.9v3.9h-3.9zM550.5 225.0h3.9v3.9h-3.9zM550.9 224.4h3.9v3.9h-3.9zM551.6 224.3h3.9v3.9h-3.9zM552.3 224.7h3.9v3.9h-3.9zM552.7 223.9h3.9v3.9h-3.9zM553.1 221.4h3.9v3.9h-3.9zM553.9 220.6h3.9v3.9h-3.9zM554.3 220.9h3.9v3.9h-3.9zM555.1 220.3h3.9v3.9h-3.9zM555.4 221.7h3.9v3.9h-3.9zM556.1 221.9h3.9v3.9h-3.9zM557.1 221.0h3.9v3.9h-3.9zM557.4 221.4h3.9v3.9h-3.9zM558.1 221.6h3.9v3.9h-3.9zM558.7 221.8h3.9v3.9h-3.9zM559.5 221.6h3.9v3.9h-3.9zM559.8 221.8h3.9v3.9h-3.9zM560.3 220.8h3.9v3.9h-3.9zM561.3 221.0h3.9v3.9h-3.9zM561.7 219.7h3.9v3.9h-3.9zM562.2 220.5h3.9v3.9h-3.9zM562.6 220.4h3.9v3.9h-3.9zM563.5 219.3h3.9v3.9h-3.9zM564.1 220.1h3.9v3.9h-3.9zM564.8 220.1h3.9v3.9h-3.9zM565.4 221.1h3.9v3.9h-3.9zM565.6 220.4h3.9v3.9h-3.9zM566.6 222.5h3.9v3.9h-3.9zM566.9 222.1h3.9v3.9h-3.9zM567.7 222.4h3.9v3.9h-3.9zM568.2 222.9h3.9v3.9h-3.9zM568.8 224.0h3.9v3.9h-3.9zM569.3 224.3h3.9v3.9h-3.9zM570.2 224.3h3.9v3.9h-3.9zM570.7 226.3h3.9v3.9h-3.9zM571.1 225.9h3.9v3.9h-3.9zM572.0 226.2h3.9v3.9h-3.9zM572.3 226.6h3.9v3.9h-3.9zM573.2 225.5h3.9v3.9h-3.9zM573.5 225.1h3.9v3.9h-3.9zM574.5 224.2h3.9v3.9h-3.9zM575.1 222.6h3.9v3.9h-3.9zM575.4 222.5h3.9v3.9h-3.9zM576.3 221.3h3.9v3.9h-3.9zM576.5 220.0h3.9v3.9h-3.9zM577.3 219.4h3.9v3.9h-3.9zM578.0 219.8h3.9v3.9h-3.9zM578.3 218.2h3.9v3.9h-3.9zM579.2 218.2h3.9v3.9h-3.9zM579.8 217.1h3.9v3.9h-3.9zM580.0 216.4h3.9v3.9h-3.9zM581.0 215.8h3.9v3.9h-3.9zM581.4 215.5h3.9v3.9h-3.9zM582.0 215.0h3.9v3.9h-3.9zM582.9 214.1h3.9v3.9h-3.9zM583.0 215.1h3.9v3.9h-3.9zM584.1 214.7h3.9v3.9h-3.9zM584.4 214.2h3.9v3.9h-3.9zM585.3 212.5h3.9v3.9h-3.9zM585.8 213.2h3.9v3.9h-3.9zM586.3 212.2h3.9v3.9h-3.9zM586.7 211.5h3.9v3.9h-3.9zM587.3 210.8h3.9v3.9h-3.9zM588.1 211.0h3.9v3.9h-3.9zM588.8 210.5h3.9v3.9h-3.9zM589.5 211.7h3.9v3.9h-3.9zM590.1 212.1h3.9v3.9h-3.9zM590.7 211.7h3.9v3.9h-3.9zM590.8 212.1h3.9v3.9h-3.9zM591.5 211.4h3.9v3.9h-3.9zM592.3 211.9h3.9v3.9h-3.9zM592.8 212.8h3.9v3.9h-3.9zM593.5 211.9h3.9v3.9h-3.9zM593.9 213.0h3.9v3.9h-3.9zM594.6 213.0h3.9v3.9h-3.9zM595.2 212.1h3.9v3.9h-3.9zM595.9 213.5h3.9v3.9h-3.9zM596.3 213.7h3.9v3.9h-3.9zM597.3 214.0h3.9v3.9h-3.9zM597.8 212.9h3.9v3.9h-3.9zM598.3 214.8h3.9v3.9h-3.9zM598.6 214.2h3.9v3.9h-3.9zM599.3 215.4h3.9v3.9h-3.9zM600.0 216.1h3.9v3.9h-3.9zM600.8 216.2h3.9v3.9h-3.9zM601.0 217.4h3.9v3.9h-3.9zM601.6 218.3h3.9v3.9h-3.9zM602.7 220.7h3.9v3.9h-3.9zM602.8 221.1h3.9v3.9h-3.9zM603.5 221.7h3.9v3.9h-3.9zM604.2 223.5h3.9v3.9h-3.9zM604.9 224.2h3.9v3.9h-3.9zM605.3 225.4h3.9v3.9h-3.9zM605.8 226.9h3.9v3.9h-3.9zM606.8 227.5h3.9v3.9h-3.9zM607.0 227.8h3.9v3.9h-3.9zM607.8 228.8h3.9v3.9h-3.9zM608.6 228.5h3.9v3.9h-3.9zM609.2 229.0h3.9v3.9h-3.9zM609.6 228.6h3.9v3.9h-3.9zM610.2 229.3h3.9v3.9h-3.9zM610.8 229.3h3.9v3.9h-3.9zM611.4 228.6h3.9v3.9h-3.9zM612.1 229.4h3.9v3.9h-3.9zM612.4 228.9h3.9v3.9h-3.9zM613.2 229.7h3.9v3.9h-3.9zM614.1 228.8h3.9v3.9h-3.9zM614.7 229.4h3.9v3.9h-3.9zM614.9 228.7h3.9v3.9h-3.9zM615.4 229.1h3.9v3.9h-3.9zM616.3 229.0h3.9v3.9h-3.9zM617.0 228.5h3.9v3.9h-3.9zM617.6 228.1h3.9v3.9h-3.9zM617.8 228.0h3.9v3.9h-3.9zM618.4 227.1h3.9v3.9h-3.9zM619.4 226.8h3.9v3.9h-3.9zM619.6 227.0h3.9v3.9h-3.9zM620.7 227.3h3.9v3.9h-3.9zM620.8 228.7h3.9v3.9h-3.9zM621.4 229.1h3.9v3.9h-3.9zM622.4 229.5h3.9v3.9h-3.9zM623.1 229.4h3.9v3.9h-3.9zM623.6 228.8h3.9v3.9h-3.9zM624.2 230.1h3.9v3.9h-3.9zM624.8 229.7h3.9v3.9h-3.9zM625.4 231.7h3.9v3.9h-3.9zM625.6 231.1h3.9v3.9h-3.9zM626.5 232.5h3.9v3.9h-3.9zM626.9 231.7h3.9v3.9h-3.9zM627.5 232.7h3.9v3.9h-3.9zM628.4 232.3h3.9v3.9h-3.9zM628.8 231.3h3.9v3.9h-3.9zM629.4 229.6h3.9v3.9h-3.9zM629.8 227.6h3.9v3.9h-3.9zM630.9 225.2h3.9v3.9h-3.9zM631.4 222.8h3.9v3.9h-3.9zM632.0 221.5h3.9v3.9h-3.9zM632.6 218.6h3.9v3.9h-3.9zM633.0 216.7h3.9v3.9h-3.9zM633.9 214.6h3.9v3.9h-3.9zM634.0 215.6h3.9v3.9h-3.9zM635.1 215.4h3.9v3.9h-3.9zM635.4 216.1h3.9v3.9h-3.9zM635.9 215.6h3.9v3.9h-3.9zM636.5 216.6h3.9v3.9h-3.9zM637.1 216.6h3.9v3.9h-3.9zM638.0 218.6h3.9v3.9h-3.9zM638.3 219.0h3.9v3.9h-3.9zM639.0 220.2h3.9v3.9h-3.9zM639.7 220.7h3.9v3.9h-3.9zM640.1 222.2h3.9v3.9h-3.9zM640.8 224.9h3.9v3.9h-3.9zM641.3 226.9h3.9v3.9h-3.9zM641.9 229.5h3.9v3.9h-3.9zM642.4 231.9h3.9v3.9h-3.9zM643.2 233.3h3.9v3.9h-3.9zM643.8 235.8h3.9v3.9h-3.9zM644.6 237.0h3.9v3.9h-3.9zM645.0 238.4h3.9v3.9h-3.9zM645.9 238.1h3.9v3.9h-3.9zM646.4 238.8h3.9v3.9h-3.9zM646.8 237.0h3.9v3.9h-3.9zM647.3 237.3h3.9v3.9h-3.9zM648.2 236.9h3.9v3.9h-3.9zM648.9 234.8h3.9v3.9h-3.9zM649.1 234.0h3.9v3.9h-3.9zM649.7 234.0h3.9v3.9h-3.9zM650.7 233.5h3.9v3.9h-3.9zM650.9 232.5h3.9v3.9h-3.9zM651.5 230.7h3.9v3.9h-3.9zM652.4 228.9h3.9v3.9h-3.9zM652.6 229.1h3.9v3.9h-3.9zM653.3 226.9h3.9v3.9h-3.9zM654.1 226.1h3.9v3.9h-3.9zM654.4 223.8h3.9v3.9h-3.9zM655.2 222.2h3.9v3.9h-3.9zM655.7 220.4h3.9v3.9h-3.9zM656.7 218.1h3.9v3.9h-3.9zM657.1 215.8h3.9v3.9h-3.9zM657.5 215.0h3.9v3.9h-3.9zM658.0 213.7h3.9v3.9h-3.9zM659.1 210.5h3.9v3.9h-3.9zM659.7 209.2h3.9v3.9h-3.9zM660.2 207.9h3.9v3.9h-3.9zM660.5 205.6h3.9v3.9h-3.9zM661.3 203.7h3.9v3.9h-3.9zM661.7 201.4h3.9v3.9h-3.9zM662.7 198.8h3.9v3.9h-3.9zM663.1 195.1h3.9v3.9h-3.9zM663.6 192.5h3.9v3.9h-3.9zM661.1 210.1h3.9v3.9h-3.9zM661.1 207.1h3.9v3.9h-3.9zM661.1 204.1h3.9v3.9h-3.9zM661.1 201.1h3.9v3.9h-3.9zM661.6 198.1h3.9v3.9h-3.9zM662.3 195.1h3.9v3.9h-3.9zM662.9 192.1h3.9v3.9h-3.9zM663.4 189.1h3.9v3.9h-3.9zM663.8 186.1h3.9v3.9h-3.9zM664.2 183.1h3.9v3.9h-3.9zM664.5 180.1h3.9v3.9h-3.9zM664.8 177.1h3.9v3.9h-3.9zM665.0 174.1h3.9v3.9h-3.9zM665.3 171.1h3.9v3.9h-3.9zM665.5 168.1h3.9v3.9h-3.9zM665.8 165.1h3.9v3.9h-3.9zM666.0 162.1h3.9v3.9h-3.9zM666.2 159.1h3.9v3.9h-3.9zM666.4 156.1h3.9v3.9h-3.9zM666.6 153.1h3.9v3.9h-3.9zM666.8 150.1h3.9v3.9h-3.9zM667.0 147.1h3.9v3.9h-3.9zM667.3 142.0h3.9v3.9h-3.9zM667.6 136.3h3.9v3.9h-3.9zM667.9 130.2h3.9v3.9h-3.9zM668.1 123.4h3.9v3.9h-3.9zM668.4 115.9h3.9v3.9h-3.9zM668.7 107.7h3.9v3.9h-3.9zM668.9 98.7h3.9v3.9h-3.9zM669.2 88.7h3.9v3.9h-3.9zM669.4 77.8h3.9v3.9h-3.9zM669.7 65.8h3.9v3.9h-3.9zM670.0 52.5h3.9v3.9h-3.9zM670.4 38.0h3.9v3.9h-3.9zM815.2 223.3h3.9v3.9h-3.9zM814.5 223.1h3.9v3.9h-3.9zM813.8 221.8h3.9v3.9h-3.9zM813.5 222.8h3.9v3.9h-3.9zM812.8 221.3h3.9v3.9h-3.9zM811.8 221.3h3.9v3.9h-3.9zM811.2 220.7h3.9v3.9h-3.9zM810.8 219.6h3.9v3.9h-3.9zM810.2 220.5h3.9v3.9h-3.9zM809.6 219.8h3.9v3.9h-3.9zM808.9 218.4h3.9v3.9h-3.9zM808.3 219.2h3.9v3.9h-3.9zM808.0 218.5h3.9v3.9h-3.9zM807.0 220.0h3.9v3.9h-3.9zM806.5 221.7h3.9v3.9h-3.9zM805.9 223.0h3.9v3.9h-3.9zM805.5 223.9h3.9v3.9h-3.9zM804.9 225.2h3.9v3.9h-3.9zM804.0 224.9h3.9v3.9h-3.9zM803.9 226.4h3.9v3.9h-3.9zM802.8 228.1h3.9v3.9h-3.9zM802.4 228.8h3.9v3.9h-3.9zM801.8 229.4h3.9v3.9h-3.9zM801.3 229.8h3.9v3.9h-3.9zM800.6 230.3h3.9v3.9h-3.9zM799.9 230.3h3.9v3.9h-3.9zM799.2 230.3h3.9v3.9h-3.9zM798.7 228.6h3.9v3.9h-3.9zM798.0 229.9h3.9v3.9h-3.9zM797.4 229.1h3.9v3.9h-3.9zM796.9 228.2h3.9v3.9h-3.9zM796.3 228.6h3.9v3.9h-3.9zM796.0 227.3h3.9v3.9h-3.9zM795.0 228.7h3.9v3.9h-3.9zM794.9 227.9h3.9v3.9h-3.9zM794.1 226.3h3.9v3.9h-3.9zM793.6 226.9h3.9v3.9h-3.9zM792.6 225.0h3.9v3.9h-3.9zM792.2 224.4h3.9v3.9h-3.9zM791.5 224.3h3.9v3.9h-3.9zM790.8 224.7h3.9v3.9h-3.9zM790.4 223.9h3.9v3.9h-3.9zM790.0 221.4h3.9v3.9h-3.9zM789.2 220.6h3.9v3.9h-3.9zM788.8 220.9h3.9v3.9h-3.9zM788.0 220.3h3.9v3.9h-3.9zM787.7 221.7h3.9v3.9h-3.9zM787.0 221.9h3.9v3.9h-3.9zM786.0 221.0h3.9v3.9h-3.9zM785.7 221.4h3.9v3.9h-3.9zM785.0 221.6h3.9v3.9h-3.9zM784.4 221.8h3.9v3.9h-3.9zM783.6 221.6h3.9v3.9h-3.9zM783.3 221.8h3.9v3.9h-3.9zM782.8 220.8h3.9v3.9h-3.9zM781.8 221.0h3.9v3.9h-3.9zM781.4 219.7h3.9v3.9h-3.9zM780.9 220.5h3.9v3.9h-3.9zM780.5 220.4h3.9v3.9h-3.9zM779.6 219.3h3.9v3.9h-3.9zM779.0 220.1h3.9v3.9h-3.9zM778.3 220.1h3.9v3.9h-3.9zM777.7 221.1h3.9v3.9h-3.9zM777.5 220.4h3.9v3.9h-3.9zM776.5 222.5h3.9v3.9h-3.9zM776.2 222.1h3.9v3.9h-3.9zM775.4 222.4h3.9v3.9h-3.9zM774.9 222.9h3.9v3.9h-3.9zM774.3 224.0h3.9v3.9h-3.9zM773.8 224.3h3.9v3.9h-3.9zM772.9 224.3h3.9v3.9h-3.9zM772.4 226.3h3.9v3.9h-3.9zM772.0 225.9h3.9v3.9h-3.9zM771.1 226.2h3.9v3.9h-3.9zM770.8 226.6h3.9v3.9h-3.9zM769.9 225.5h3.9v3.9h-3.9zM769.6 225.1h3.9v3.9h-3.9zM768.6 224.2h3.9v3.9h-3.9zM768.0 222.6h3.9v3.9h-3.9zM767.7 222.5h3.9v3.9h-3.9zM766.8 221.3h3.9v3.9h-3.9zM766.6 220.0h3.9v3.9h-3.9zM765.8 219.4h3.9v3.9h-3.9zM765.1 219.8h3.9v3.9h-3.9zM764.8 218.2h3.9v3.9h-3.9zM763.9 218.2h3.9v3.9h-3.9zM763.3 217.1h3.9v3.9h-3.9zM763.1 216.4h3.9v3.9h-3.9zM762.1 215.8h3.9v3.9h-3.9zM761.7 215.5h3.9v3.9h-3.9zM761.1 215.0h3.9v3.9h-3.9zM760.2 214.1h3.9v3.9h-3.9zM760.1 215.1h3.9v3.9h-3.9zM759.0 214.7h3.9v3.9h-3.9zM758.7 214.2h3.9v3.9h-3.9zM757.8 212.5h3.9v3.9h-3.9zM757.3 213.2h3.9v3.9h-3.9zM756.8 212.2h3.9v3.9h-3.9zM756.4 211.5h3.9v3.9h-3.9zM755.8 210.8h3.9v3.9h-3.9zM755.0 211.0h3.9v3.9h-3.9zM754.3 210.5h3.9v3.9h-3.9zM753.6 211.7h3.9v3.9h-3.9zM753.0 212.1h3.9v3.9h-3.9zM752.4 211.7h3.9v3.9h-3.9zM752.3 212.1h3.9v3.9h-3.9zM751.6 211.4h3.9v3.9h-3.9zM750.8 211.9h3.9v3.9h-3.9zM750.3 212.8h3.9v3.9h-3.9zM749.6 211.9h3.9v3.9h-3.9zM749.2 213.0h3.9v3.9h-3.9zM748.5 213.0h3.9v3.9h-3.9zM747.9 212.1h3.9v3.9h-3.9zM747.2 213.5h3.9v3.9h-3.9zM746.8 213.7h3.9v3.9h-3.9zM745.8 214.0h3.9v3.9h-3.9zM745.3 212.9h3.9v3.9h-3.9zM744.8 214.8h3.9v3.9h-3.9zM744.5 214.2h3.9v3.9h-3.9zM743.8 215.4h3.9v3.9h-3.9zM743.1 216.1h3.9v3.9h-3.9zM742.3 216.2h3.9v3.9h-3.9zM742.1 217.4h3.9v3.9h-3.9zM741.5 218.3h3.9v3.9h-3.9zM740.4 220.7h3.9v3.9h-3.9zM740.3 221.1h3.9v3.9h-3.9zM739.6 221.7h3.9v3.9h-3.9zM738.9 223.5h3.9v3.9h-3.9zM738.2 224.2h3.9v3.9h-3.9zM737.8 225.4h3.9v3.9h-3.9zM737.3 226.9h3.9v3.9h-3.9zM736.3 227.5h3.9v3.9h-3.9zM736.1 227.8h3.9v3.9h-3.9zM735.3 228.8h3.9v3.9h-3.9zM734.5 228.5h3.9v3.9h-3.9zM733.9 229.0h3.9v3.9h-3.9zM733.5 228.6h3.9v3.9h-3.9zM732.9 229.3h3.9v3.9h-3.9zM732.3 229.3h3.9v3.9h-3.9zM731.7 228.6h3.9v3.9h-3.9zM731.0 229.4h3.9v3.9h-3.9zM730.7 228.9h3.9v3.9h-3.9zM729.9 229.7h3.9v3.9h-3.9zM729.0 228.8h3.9v3.9h-3.9zM728.4 229.4h3.9v3.9h-3.9zM728.2 228.7h3.9v3.9h-3.9zM727.7 229.1h3.9v3.9h-3.9zM726.8 229.0h3.9v3.9h-3.9zM726.1 228.5h3.9v3.9h-3.9zM725.5 228.1h3.9v3.9h-3.9zM725.3 228.0h3.9v3.9h-3.9zM724.7 227.1h3.9v3.9h-3.9zM723.7 226.8h3.9v3.9h-3.9zM723.5 227.0h3.9v3.9h-3.9zM722.4 227.3h3.9v3.9h-3.9zM722.3 228.7h3.9v3.9h-3.9zM721.7 229.1h3.9v3.9h-3.9zM720.7 229.5h3.9v3.9h-3.9zM720.0 229.4h3.9v3.9h-3.9zM719.5 228.8h3.9v3.9h-3.9zM718.9 230.1h3.9v3.9h-3.9zM718.3 229.7h3.9v3.9h-3.9zM717.7 231.7h3.9v3.9h-3.9zM717.5 231.1h3.9v3.9h-3.9zM716.6 232.5h3.9v3.9h-3.9zM716.2 231.7h3.9v3.9h-3.9zM715.6 232.7h3.9v3.9h-3.9zM714.7 232.3h3.9v3.9h-3.9zM714.3 231.3h3.9v3.9h-3.9zM713.7 229.6h3.9v3.9h-3.9zM713.3 227.6h3.9v3.9h-3.9zM712.2 225.2h3.9v3.9h-3.9zM711.7 222.8h3.9v3.9h-3.9zM711.1 221.5h3.9v3.9h-3.9zM710.5 218.6h3.9v3.9h-3.9zM710.1 216.7h3.9v3.9h-3.9zM709.2 214.6h3.9v3.9h-3.9zM709.1 215.6h3.9v3.9h-3.9zM708.0 215.4h3.9v3.9h-3.9zM707.7 216.1h3.9v3.9h-3.9zM707.2 215.6h3.9v3.9h-3.9zM706.6 216.6h3.9v3.9h-3.9zM706.0 216.6h3.9v3.9h-3.9zM705.1 218.6h3.9v3.9h-3.9zM704.8 219.0h3.9v3.9h-3.9zM704.1 220.2h3.9v3.9h-3.9zM703.4 220.7h3.9v3.9h-3.9zM703.0 222.2h3.9v3.9h-3.9zM702.3 224.9h3.9v3.9h-3.9zM701.8 226.9h3.9v3.9h-3.9zM701.2 229.5h3.9v3.9h-3.9zM700.7 231.9h3.9v3.9h-3.9zM699.9 233.3h3.9v3.9h-3.9zM699.3 235.8h3.9v3.9h-3.9zM698.5 237.0h3.9v3.9h-3.9zM698.1 238.4h3.9v3.9h-3.9zM697.2 238.1h3.9v3.9h-3.9zM696.7 238.8h3.9v3.9h-3.9zM696.3 237.0h3.9v3.9h-3.9zM695.8 237.3h3.9v3.9h-3.9zM694.9 236.9h3.9v3.9h-3.9zM694.2 234.8h3.9v3.9h-3.9zM694.0 234.0h3.9v3.9h-3.9zM693.4 234.0h3.9v3.9h-3.9zM692.4 233.5h3.9v3.9h-3.9zM692.2 232.5h3.9v3.9h-3.9zM691.6 230.7h3.9v3.9h-3.9zM690.7 228.9h3.9v3.9h-3.9zM690.5 229.1h3.9v3.9h-3.9zM689.8 226.9h3.9v3.9h-3.9zM689.0 226.1h3.9v3.9h-3.9zM688.7 223.8h3.9v3.9h-3.9zM687.9 222.2h3.9v3.9h-3.9zM687.4 220.4h3.9v3.9h-3.9zM686.4 218.1h3.9v3.9h-3.9zM686.0 215.8h3.9v3.9h-3.9zM685.6 215.0h3.9v3.9h-3.9zM685.1 213.7h3.9v3.9h-3.9zM684.0 210.5h3.9v3.9h-3.9zM683.4 209.2h3.9v3.9h-3.9zM682.9 207.9h3.9v3.9h-3.9zM682.6 205.6h3.9v3.9h-3.9zM681.8 203.7h3.9v3.9h-3.9zM681.4 201.4h3.9v3.9h-3.9zM680.4 198.8h3.9v3.9h-3.9zM680.0 195.1h3.9v3.9h-3.9zM679.5 192.5h3.9v3.9h-3.9zM681.9 210.1h3.9v3.9h-3.9zM681.9 207.1h3.9v3.9h-3.9zM681.9 204.1h3.9v3.9h-3.9zM681.9 201.1h3.9v3.9h-3.9zM681.5 198.1h3.9v3.9h-3.9zM680.8 195.1h3.9v3.9h-3.9zM680.2 192.1h3.9v3.9h-3.9zM679.7 189.1h3.9v3.9h-3.9zM679.3 186.1h3.9v3.9h-3.9zM678.9 183.1h3.9v3.9h-3.9zM678.6 180.1h3.9v3.9h-3.9zM678.3 177.1h3.9v3.9h-3.9zM678.1 174.1h3.9v3.9h-3.9zM677.8 171.1h3.9v3.9h-3.9zM677.6 168.1h3.9v3.9h-3.9zM677.3 165.1h3.9v3.9h-3.9zM677.1 162.1h3.9v3.9h-3.9zM676.9 159.1h3.9v3.9h-3.9zM676.7 156.1h3.9v3.9h-3.9zM676.5 153.1h3.9v3.9h-3.9zM676.3 150.1h3.9v3.9h-3.9zM676.1 147.1h3.9v3.9h-3.9zM675.8 142.0h3.9v3.9h-3.9zM675.5 136.3h3.9v3.9h-3.9zM675.2 130.2h3.9v3.9h-3.9zM675.0 123.4h3.9v3.9h-3.9zM674.7 115.9h3.9v3.9h-3.9zM674.4 107.7h3.9v3.9h-3.9zM674.2 98.7h3.9v3.9h-3.9zM673.9 88.7h3.9v3.9h-3.9zM673.7 77.8h3.9v3.9h-3.9zM673.4 65.8h3.9v3.9h-3.9zM673.1 52.5h3.9v3.9h-3.9zM672.7 38.0h3.9v3.9h-3.9z" fill="#000"/>
<path d="M529.0 237.9 L530.5 237.9 L532.0 237.9 L533.5 237.9 L535.0 237.9 L536.5 237.9 L538.0 237.9 L539.5 237.9 L541.0 237.9 L542.5 237.9 L544.0 237.9 L545.5 237.9 L547.0 237.9 L548.5 237.9 L550.0 237.9 L551.5 237.9 L553.0 237.9 L554.5 237.9 L556.0 237.9 L557.5 237.9 L559.0 237.9 L560.5 237.9 L562.0 237.9 L563.5 237.9 L565.0 237.9 L566.5 237.9 L568.0 237.8 L569.5 237.8 L571.0 237.7 L572.5 237.6 L574.0 237.5 L575.5 237.5 L577.0 237.4 L578.5 237.3 L580.0 237.2 L581.5 237.1 L583.0 237.0 L584.5 236.9 L586.0 236.8 L587.5 236.7 L589.0 236.6 L590.5 236.5 L592.0 236.4 L593.5 236.2 L595.0 236.1 L596.5 236.0 L598.0 235.8 L599.5 235.7 L601.0 235.5 L602.5 235.4 L604.0 235.2 L605.5 235.0 L607.0 234.8 L608.5 234.6 L610.0 234.3 L611.5 234.1 L613.0 233.8 L614.5 233.6 L616.0 233.3 L617.5 233.0 L619.0 232.6 L620.5 232.3 L622.0 232.0 L623.5 231.6 L625.0 231.2 L626.5 230.7 L628.0 230.2 L629.5 229.7 L631.0 229.2 L632.5 228.6 L634.0 228.0 L635.5 227.3 L637.0 226.6 L638.5 225.8 L640.0 225.0 L641.5 224.0 L643.0 223.0 L644.5 221.9 L646.0 220.7 L647.5 219.4 L649.0 218.1 L650.5 216.6 L652.0 214.9 L653.5 212.8 L655.0 210.1 L656.5 206.3 L658.0 201.9 L659.5 197.4 L661.0 192.8 L661.5 191.1 L661.8 190.3 L662.0 189.4 L662.2 188.5 L662.5 187.6 L662.8 186.7 L663.0 185.7 L663.2 184.7 L663.5 183.7 L663.8 182.6 L664.0 181.5 L664.2 180.4 L664.5 179.2 L664.8 177.9 L665.0 176.7 L665.2 175.3 L665.5 173.9 L665.8 172.5 L666.0 171.0 L666.2 169.5 L666.5 167.9 L666.8 166.2 L667.0 164.5 L667.2 162.7 L667.5 160.8 L667.8 158.9 L668.0 156.9 L668.2 154.8 L668.5 152.6 L668.8 150.2 L669.0 147.6 L669.2 144.6 L669.5 141.4 L669.8 137.7 L670.0 132.9 L670.2 127.4 L670.5 121.3 L670.8 114.7 L671.0 108.0 L671.2 101.3 L671.5 94.6 L671.8 87.4 L672.0 79.9 L672.2 72.4 L672.5 65.0 L672.8 57.8 L673.0 50.7 L673.2 43.6 L673.5 36.5 L673.8 43.6 L674.0 50.7 L674.2 57.8 L674.5 65.0 L674.8 72.4 L675.0 79.9 L675.2 87.4 L675.5 94.6 L675.8 101.3 L676.0 108.0 L676.2 114.7 L676.5 121.3 L676.8 127.4 L677.0 132.9 L677.2 137.7 L677.5 141.4 L677.8 144.6 L678.0 147.6 L678.2 150.2 L678.5 152.6 L678.8 154.8 L679.0 156.9 L679.2 158.9 L679.5 160.8 L679.8 162.7 L680.0 164.5 L680.2 166.2 L680.5 167.9 L680.8 169.5 L681.0 171.0 L681.2 172.5 L681.5 173.9 L681.8 175.3 L682.0 176.7 L682.2 177.9 L682.5 179.2 L682.8 180.4 L683.0 181.5 L683.2 182.6 L683.5 183.7 L683.8 184.7 L684.0 185.7 L684.2 186.7 L684.5 187.6 L684.8 188.5 L685.0 189.4 L685.2 190.3 L685.5 191.1 L686.0 192.8 L687.5 197.4 L689.0 201.9 L690.5 206.3 L692.0 210.1 L693.5 212.8 L695.0 214.9 L696.5 216.6 L698.0 218.1 L699.5 219.4 L701.0 220.7 L702.5 221.9 L704.0 223.0 L705.5 224.0 L707.0 225.0 L708.5 225.8 L710.0 226.6 L711.5 227.3 L713.0 228.0 L714.5 228.6 L716.0 229.2 L717.5 229.7 L719.0 230.2 L720.5 230.7 L722.0 231.2 L723.5 231.6 L725.0 232.0 L726.5 232.3 L728.0 232.6 L729.5 233.0 L731.0 233.3 L732.5 233.6 L734.0 233.8 L735.5 234.1 L737.0 234.3 L738.5 234.6 L740.0 234.8 L741.5 235.0 L743.0 235.2 L744.5 235.4 L746.0 235.5 L747.5 235.7 L749.0 235.8 L750.5 236.0 L752.0 236.1 L753.5 236.2 L755.0 236.4 L756.5 236.5 L758.0 236.6 L759.5 236.7 L761.0 236.8 L762.5 236.9 L764.0 237.0 L765.5 237.1 L767.0 237.2 L768.5 237.3 L770.0 237.4 L771.5 237.5 L773.0 237.5 L774.5 237.6 L776.0 237.7 L777.5 237.8 L779.0 237.8 L780.5 237.9 L782.0 237.9 L783.5 237.9 L785.0 237.9 L786.5 237.9 L788.0 237.9 L789.5 237.9 L791.0 237.9 L792.5 237.9 L794.0 237.9 L795.5 237.9 L797.0 237.9 L798.5 237.9 L800.0 237.9 L801.5 237.9 L803.0 237.9 L804.5 237.9 L806.0 237.9 L807.5 237.9 L809.0 237.9 L810.5 237.9 L812.0 237.9 L813.5 237.9 L815.0 237.9 L816.5 237.9 L818.0 237.9" fill="none" stroke="#ff0000" stroke-width="3.7" stroke-linejoin="round" stroke-linecap="butt"/>
<path d="M529.0 200.7 L530.5 201.4 L532.0 202.1 L533.5 202.8 L535.0 203.5 L536.5 204.2 L538.0 204.9 L539.5 205.6 L541.0 206.3 L542.5 207.0 L544.0 207.7 L545.5 208.4 L547.0 209.1 L548.5 209.8 L550.0 210.5 L551.5 211.2 L553.0 212.0 L554.5 212.7 L556.0 213.4 L557.5 214.1 L559.0 214.9 L560.5 215.6 L562.0 216.3 L563.5 217.1 L565.0 217.8 L566.5 218.5 L568.0 219.3 L569.5 220.1 L571.0 220.9 L572.5 221.6 L574.0 222.4 L575.5 223.2 L577.0 223.9 L578.5 224.7 L580.0 225.4 L581.5 226.1 L583.0 226.8 L584.5 227.5 L586.0 228.1 L587.5 228.8 L589.0 229.4 L590.5 230.0 L592.0 230.6 L593.5 231.3 L595.0 231.9 L596.5 232.4 L598.0 233.0 L599.5 233.6 L601.0 234.1 L602.5 234.6 L604.0 235.2 L605.5 235.7 L607.0 236.3 L608.5 236.8 L610.0 237.3 L611.5 237.8 L613.0 238.3 L614.5 238.7 L616.0 239.0 L617.5 239.3 L619.0 239.5 L620.5 239.8 L622.0 240.0 L623.5 240.2 L625.0 240.4 L626.5 240.6 L628.0 240.7 L629.5 240.8 L631.0 240.8 L632.5 240.7 L634.0 240.5 L635.5 240.1 L637.0 239.6 L638.5 239.1 L640.0 238.5 L641.5 237.8 L643.0 237.1 L644.5 236.2 L646.0 235.1 L647.5 233.8 L649.0 232.4 L650.5 230.7 L652.0 228.9 L653.5 226.9 L655.0 224.5 L656.5 221.7 L658.0 218.5 L659.5 214.7 L661.0 209.8 L661.5 208.0 L661.8 207.0 L662.0 205.9 L662.2 204.9 L662.5 203.8 L662.8 202.7 L663.0 201.6 L663.2 200.4 L663.5 199.3 L663.8 198.1 L664.0 196.8 L664.2 195.5 L664.5 194.2 L664.8 192.8 L665.0 191.3 L665.2 189.8 L665.5 188.2 L665.8 186.5 L666.0 184.7 L666.2 182.9 L666.5 181.0 L666.8 178.9 L667.0 176.7 L667.2 174.3 L667.5 171.8 L667.8 169.1 L668.0 166.3 L668.2 163.4 L668.5 160.5 L668.8 157.5 L669.0 154.5 L669.2 151.4 L669.5 148.0 L669.8 144.2 L670.0 140.0 L670.2 134.9 L670.5 128.8 L670.8 122.1 L671.0 114.8 L671.2 107.4 L671.5 100.0 L671.8 92.4 L672.0 84.5 L672.2 76.3 L672.5 68.2 L672.8 60.2 L673.0 52.3 L673.2 44.4 L673.5 36.5 L673.8 44.4 L674.0 52.3 L674.2 60.2 L674.5 68.2 L674.8 76.3 L675.0 84.5 L675.2 92.4 L675.5 100.0 L675.8 107.4 L676.0 114.8 L676.2 122.1 L676.5 128.8 L676.8 134.9 L677.0 140.0 L677.2 144.2 L677.5 148.0 L677.8 151.4 L678.0 154.5 L678.2 157.5 L678.5 160.5 L678.8 163.4 L679.0 166.3 L679.2 169.1 L679.5 171.8 L679.8 174.3 L680.0 176.7 L680.2 178.9 L680.5 181.0 L680.8 182.9 L681.0 184.7 L681.2 186.5 L681.5 188.2 L681.8 189.8 L682.0 191.3 L682.2 192.8 L682.5 194.2 L682.8 195.5 L683.0 196.8 L683.2 198.1 L683.5 199.3 L683.8 200.4 L684.0 201.6 L684.2 202.7 L684.5 203.8 L684.8 204.9 L685.0 205.9 L685.2 207.0 L685.5 208.0 L686.0 209.8 L687.5 214.7 L689.0 218.5 L690.5 221.7 L692.0 224.5 L693.5 226.9 L695.0 228.9 L696.5 230.7 L698.0 232.4 L699.5 233.8 L701.0 235.1 L702.5 236.2 L704.0 237.1 L705.5 237.8 L707.0 238.5 L708.5 239.1 L710.0 239.6 L711.5 240.1 L713.0 240.5 L714.5 240.7 L716.0 240.8 L717.5 240.8 L719.0 240.7 L720.5 240.6 L722.0 240.4 L723.5 240.2 L725.0 240.0 L726.5 239.8 L728.0 239.5 L729.5 239.3 L731.0 239.0 L732.5 238.7 L734.0 238.3 L735.5 237.8 L737.0 237.3 L738.5 236.8 L740.0 236.3 L741.5 235.7 L743.0 235.2 L744.5 234.6 L746.0 234.1 L747.5 233.6 L749.0 233.0 L750.5 232.4 L752.0 231.9 L753.5 231.3 L755.0 230.6 L756.5 230.0 L758.0 229.4 L759.5 228.8 L761.0 228.1 L762.5 227.5 L764.0 226.8 L765.5 226.1 L767.0 225.4 L768.5 224.7 L770.0 223.9 L771.5 223.2 L773.0 222.4 L774.5 221.6 L776.0 220.9 L777.5 220.1 L779.0 219.3 L780.5 218.5 L782.0 217.8 L783.5 217.1 L785.0 216.3 L786.5 215.6 L788.0 214.9 L789.5 214.1 L791.0 213.4 L792.5 212.7 L794.0 212.0 L795.5 211.2 L797.0 210.5 L798.5 209.8 L800.0 209.1 L801.5 208.4 L803.0 207.7 L804.5 207.0 L806.0 206.3 L807.5 205.6 L809.0 204.9 L810.5 204.2 L812.0 203.5 L813.5 202.8 L815.0 202.1 L816.5 201.4 L818.0 200.7" fill="none" stroke="#0000ff" stroke-width="3.8" stroke-linejoin="round" stroke-linecap="butt"/>
<path d="M529.0 159.3 L530.5 160.3 L532.0 161.2 L533.5 162.2 L535.0 163.2 L536.5 164.1 L538.0 165.1 L539.5 166.1 L541.0 167.0 L542.5 168.0 L544.0 168.9 L545.5 169.9 L547.0 170.9 L548.5 171.8 L550.0 172.8 L551.5 173.7 L553.0 174.7 L554.5 175.6 L556.0 176.6 L557.5 177.5 L559.0 178.5 L560.5 179.4 L562.0 180.4 L563.5 181.3 L565.0 182.3 L566.5 183.2 L568.0 184.2 L569.5 185.1 L571.0 186.1 L572.5 187.0 L574.0 188.0 L575.5 188.9 L577.0 189.9 L578.5 190.8 L580.0 191.8 L581.5 192.7 L583.0 193.6 L584.5 194.6 L586.0 195.5 L587.5 196.5 L589.0 197.4 L590.5 198.3 L592.0 199.3 L593.5 200.2 L595.0 201.1 L596.5 202.1 L598.0 203.0 L599.5 203.9 L601.0 204.8 L602.5 205.7 L604.0 206.7 L605.5 207.6 L607.0 208.5 L608.5 209.5 L610.0 210.4 L611.5 211.3 L613.0 212.2 L614.5 213.1 L616.0 214.0 L617.5 214.9 L619.0 215.8 L620.5 216.6 L622.0 217.4 L623.5 218.2 L625.0 219.0 L626.5 219.8 L628.0 220.6 L629.5 221.3 L631.0 222.0 L632.5 222.7 L634.0 223.3 L635.5 224.0 L637.0 224.6 L638.5 225.2 L640.0 225.7 L641.5 226.1 L643.0 226.5 L644.5 226.8 L646.0 227.0 L647.5 226.9 L649.0 226.5 L650.5 225.7 L652.0 224.6 L653.5 223.2 L655.0 220.8 L656.5 217.9 L658.0 214.8 L659.5 211.3 L661.0 207.2 L661.5 205.7 L661.8 205.0 L662.0 204.2 L662.2 203.4 L662.5 202.5 L662.8 201.7 L663.0 200.8 L663.2 199.9 L663.5 199.0 L663.8 198.1 L664.0 197.2 L664.2 196.2 L664.5 195.1 L664.8 194.0 L665.0 192.9 L665.2 191.7 L665.5 190.5 L665.8 189.2 L666.0 187.9 L666.2 186.5 L666.5 185.0 L666.8 183.5 L667.0 181.9 L667.2 180.3 L667.5 178.5 L667.8 176.7 L668.0 174.7 L668.2 172.5 L668.5 170.3 L668.8 167.8 L669.0 165.2 L669.2 162.3 L669.5 159.3 L669.8 155.9 L670.0 151.9 L670.2 147.4 L670.5 142.2 L670.8 136.2 L671.0 128.8 L671.2 120.2 L671.5 111.0 L671.8 101.8 L672.0 92.5 L672.2 82.6 L672.5 72.7 L672.8 63.1 L673.0 54.0 L673.2 45.1 L673.5 36.5 L673.8 45.1 L674.0 54.0 L674.2 63.1 L674.5 72.7 L674.8 82.6 L675.0 92.5 L675.2 101.8 L675.5 111.0 L675.8 120.2 L676.0 128.8 L676.2 136.2 L676.5 142.2 L676.8 147.4 L677.0 151.9 L677.2 155.9 L677.5 159.3 L677.8 162.3 L678.0 165.2 L678.2 167.8 L678.5 170.3 L678.8 172.5 L679.0 174.7 L679.2 176.7 L679.5 178.5 L679.8 180.3 L680.0 181.9 L680.2 183.5 L680.5 185.0 L680.8 186.5 L681.0 187.9 L681.2 189.2 L681.5 190.5 L681.8 191.7 L682.0 192.9 L682.2 194.0 L682.5 195.1 L682.8 196.2 L683.0 197.2 L683.2 198.1 L683.5 199.0 L683.8 199.9 L684.0 200.8 L684.2 201.7 L684.5 202.5 L684.8 203.4 L685.0 204.2 L685.2 205.0 L685.5 205.7 L686.0 207.2 L687.5 211.3 L689.0 214.8 L690.5 217.9 L692.0 220.8 L693.5 223.2 L695.0 224.6 L696.5 225.7 L698.0 226.5 L699.5 226.9 L701.0 227.0 L702.5 226.8 L704.0 226.5 L705.5 226.1 L707.0 225.7 L708.5 225.2 L710.0 224.6 L711.5 224.0 L713.0 223.3 L714.5 222.7 L716.0 222.0 L717.5 221.3 L719.0 220.6 L720.5 219.8 L722.0 219.0 L723.5 218.2 L725.0 217.4 L726.5 216.6 L728.0 215.8 L729.5 214.9 L731.0 214.0 L732.5 213.1 L734.0 212.2 L735.5 211.3 L737.0 210.4 L738.5 209.5 L740.0 208.5 L741.5 207.6 L743.0 206.7 L744.5 205.7 L746.0 204.8 L747.5 203.9 L749.0 203.0 L750.5 202.1 L752.0 201.1 L753.5 200.2 L755.0 199.3 L756.5 198.3 L758.0 197.4 L759.5 196.5 L761.0 195.5 L762.5 194.6 L764.0 193.6 L765.5 192.7 L767.0 191.8 L768.5 190.8 L770.0 189.9 L771.5 188.9 L773.0 188.0 L774.5 187.0 L776.0 186.1 L777.5 185.1 L779.0 184.2 L780.5 183.2 L782.0 182.3 L783.5 181.3 L785.0 180.4 L786.5 179.4 L788.0 178.5 L789.5 177.5 L791.0 176.6 L792.5 175.6 L794.0 174.7 L795.5 173.7 L797.0 172.8 L798.5 171.8 L800.0 170.9 L801.5 169.9 L803.0 168.9 L804.5 168.0 L806.0 167.0 L807.5 166.1 L809.0 165.1 L810.5 164.1 L812.0 163.2 L813.5 162.2 L815.0 161.2 L816.5 160.3 L818.0 159.3" fill="none" stroke="#00ff00" stroke-width="3.9" stroke-linejoin="round" stroke-linecap="butt"/>
</g>
<text transform="translate(535.2 291.8) scale(1 1.045)" font-size="27.3" text-anchor="middle">-30</text>
<text transform="translate(673.5 291.8) scale(1 1.045)" font-size="27.3" text-anchor="middle">0</text>
<text transform="translate(811.1 291.8) scale(1 1.045)" font-size="27.3" text-anchor="middle">30</text>
<text transform="translate(520.9 46.7) scale(1 1.045)" font-size="27.3" text-anchor="end">0</text>
<text transform="translate(520.9 123.1) scale(1 1.045)" font-size="27.3" text-anchor="end">-0.2</text>
<text transform="translate(520.9 199.0) scale(1 1.045)" font-size="27.3" text-anchor="end">-0.4</text>
<text transform="translate(520.9 264.0) scale(1 1.045)" font-size="27.3" text-anchor="end">-0.6</text>
<path d="M686.0 49.6H714.7" stroke="#ff0000" stroke-width="3.4" stroke-linecap="round"/>
<text transform="translate(718.8 58.1) scale(1 1.04)" font-size="27">0.04 ps</text>
<path d="M686.0 81.2H714.7" stroke="#0000ff" stroke-width="3.4" stroke-linecap="round"/>
<text transform="translate(718.8 89.2) scale(1 1.04)" font-size="27">0.40 ps</text>
<path d="M686.0 112.3H714.7" stroke="#00ff00" stroke-width="3.4" stroke-linecap="round"/>
<text transform="translate(718.8 120.5) scale(1 1.04)" font-size="27">0.80 ps</text>
<text transform="translate(545.4 78.9) scale(1 1.07)" font-size="33.2">(b)</text>
<text x="685.5" y="321.7" font-size="30.5" text-anchor="middle"><tspan font-style="italic">B</tspan> (mT)</text>
<g transform="translate(457.6 243.0) rotate(-90)"><text x="0" y="0" font-size="31.7">Δ<tspan font-style="italic">σ</tspan>-Δ<tspan font-style="italic">σ</tspan></text><text x="91.2" y="10" font-size="18" font-style="italic">30K</text><text x="131.7" y="0" font-size="30">(e</text><text x="158.4" y="-12" font-size="18">2</text><text x="168.4" y="0" font-size="30">/h)</text></g>
</g>
<g>
<clipPath id="cpc"><rect x="99.1" y="368.3" width="289.0" height="233.5"/></clipPath>
<path d="M99.0 601.8v-9.4M99.0 368.3v9.4M171.2 601.8v-9.4M171.2 368.3v9.4M243.4 601.8v-9.4M243.4 368.3v9.4M315.6 601.8v-9.4M315.6 368.3v9.4M387.8 601.8v-9.4M387.8 368.3v9.4M135.1 601.8v-5.0M135.1 368.3v5.0M207.3 601.8v-5.0M207.3 368.3v5.0M279.5 601.8v-5.0M279.5 368.3v5.0M351.7 601.8v-5.0M351.7 368.3v5.0M99.1 391.1h9.4M388.1 391.1h-9.4M99.1 507.5h9.4M388.1 507.5h-9.4M99.1 449.3h5.0M388.1 449.3h-5.0M99.1 565.7h5.0M388.1 565.7h-5.0" stroke="#000" stroke-width="1.9" fill="none"/>
<rect x="99.1" y="368.3" width="289.0" height="233.5" fill="none" stroke="#000" stroke-width="1.9"/>
<g clip-path="url(#cpc)">
<path d="M98.5 548.9h3.9v3.9h-3.9zM99.7 551.5h3.9v3.9h-3.9zM100.9 548.7h3.9v3.9h-3.9zM102.0 548.3h3.9v3.9h-3.9zM103.2 546.0h3.9v3.9h-3.9zM104.3 548.5h3.9v3.9h-3.9zM105.5 553.2h3.9v3.9h-3.9zM106.6 550.7h3.9v3.9h-3.9zM107.8 552.8h3.9v3.9h-3.9zM108.9 550.0h3.9v3.9h-3.9zM110.1 550.5h3.9v3.9h-3.9zM111.2 549.7h3.9v3.9h-3.9zM112.4 543.1h3.9v3.9h-3.9zM113.5 552.1h3.9v3.9h-3.9zM114.7 550.9h3.9v3.9h-3.9zM115.8 550.9h3.9v3.9h-3.9zM117.0 543.1h3.9v3.9h-3.9zM118.1 543.0h3.9v3.9h-3.9zM119.3 546.2h3.9v3.9h-3.9zM120.4 547.9h3.9v3.9h-3.9zM121.6 550.8h3.9v3.9h-3.9zM122.7 549.8h3.9v3.9h-3.9zM123.9 552.0h3.9v3.9h-3.9zM125.0 548.1h3.9v3.9h-3.9zM126.2 551.7h3.9v3.9h-3.9zM127.3 552.3h3.9v3.9h-3.9zM128.5 548.8h3.9v3.9h-3.9zM129.6 558.0h3.9v3.9h-3.9zM130.8 554.9h3.9v3.9h-3.9zM131.9 558.5h3.9v3.9h-3.9zM133.1 553.4h3.9v3.9h-3.9zM134.2 554.4h3.9v3.9h-3.9zM135.4 557.1h3.9v3.9h-3.9zM136.5 558.9h3.9v3.9h-3.9zM137.7 562.2h3.9v3.9h-3.9zM138.8 561.1h3.9v3.9h-3.9zM140.0 558.8h3.9v3.9h-3.9zM141.1 557.1h3.9v3.9h-3.9zM142.3 558.8h3.9v3.9h-3.9zM143.4 565.2h3.9v3.9h-3.9zM144.6 558.0h3.9v3.9h-3.9zM145.7 561.9h3.9v3.9h-3.9zM146.9 562.6h3.9v3.9h-3.9zM148.0 555.7h3.9v3.9h-3.9zM149.2 561.0h3.9v3.9h-3.9zM150.3 564.9h3.9v3.9h-3.9zM151.5 551.9h3.9v3.9h-3.9zM152.6 556.9h3.9v3.9h-3.9zM153.8 556.4h3.9v3.9h-3.9zM154.9 552.6h3.9v3.9h-3.9zM156.1 556.2h3.9v3.9h-3.9zM157.2 553.3h3.9v3.9h-3.9zM158.4 547.7h3.9v3.9h-3.9zM159.5 555.5h3.9v3.9h-3.9zM160.7 554.5h3.9v3.9h-3.9zM161.8 555.1h3.9v3.9h-3.9zM163.0 556.5h3.9v3.9h-3.9zM164.1 552.3h3.9v3.9h-3.9zM165.3 551.1h3.9v3.9h-3.9zM166.4 545.7h3.9v3.9h-3.9zM167.6 552.4h3.9v3.9h-3.9zM168.7 547.9h3.9v3.9h-3.9zM169.9 548.4h3.9v3.9h-3.9zM171.0 545.5h3.9v3.9h-3.9zM172.2 546.6h3.9v3.9h-3.9zM173.3 548.2h3.9v3.9h-3.9zM174.5 554.8h3.9v3.9h-3.9zM175.6 542.9h3.9v3.9h-3.9zM176.8 545.1h3.9v3.9h-3.9zM177.9 551.3h3.9v3.9h-3.9zM179.1 555.7h3.9v3.9h-3.9zM180.2 552.7h3.9v3.9h-3.9zM181.4 544.0h3.9v3.9h-3.9zM182.5 541.9h3.9v3.9h-3.9zM183.7 552.6h3.9v3.9h-3.9zM184.8 549.7h3.9v3.9h-3.9zM186.0 550.0h3.9v3.9h-3.9zM187.1 559.3h3.9v3.9h-3.9zM188.3 561.5h3.9v3.9h-3.9zM189.4 559.3h3.9v3.9h-3.9zM190.6 560.1h3.9v3.9h-3.9zM191.7 561.1h3.9v3.9h-3.9zM192.9 565.5h3.9v3.9h-3.9zM194.0 562.3h3.9v3.9h-3.9zM195.2 562.2h3.9v3.9h-3.9zM196.3 562.5h3.9v3.9h-3.9zM197.5 555.0h3.9v3.9h-3.9zM198.6 565.4h3.9v3.9h-3.9zM199.8 564.4h3.9v3.9h-3.9zM200.9 562.9h3.9v3.9h-3.9zM202.1 553.9h3.9v3.9h-3.9zM203.2 558.8h3.9v3.9h-3.9zM204.4 564.1h3.9v3.9h-3.9zM205.5 554.5h3.9v3.9h-3.9zM206.7 560.4h3.9v3.9h-3.9zM207.8 564.7h3.9v3.9h-3.9zM209.0 556.3h3.9v3.9h-3.9zM210.1 566.8h3.9v3.9h-3.9zM211.3 563.0h3.9v3.9h-3.9zM212.4 560.5h3.9v3.9h-3.9zM213.6 562.3h3.9v3.9h-3.9zM214.7 564.6h3.9v3.9h-3.9zM215.9 564.5h3.9v3.9h-3.9zM217.0 570.3h3.9v3.9h-3.9zM218.2 565.8h3.9v3.9h-3.9zM219.3 569.5h3.9v3.9h-3.9zM220.5 577.6h3.9v3.9h-3.9zM221.6 575.1h3.9v3.9h-3.9zM222.8 567.8h3.9v3.9h-3.9zM223.9 567.3h3.9v3.9h-3.9zM225.1 563.0h3.9v3.9h-3.9zM226.2 549.6h3.9v3.9h-3.9zM226.6 541.0h3.9v3.9h-3.9zM228.1 536.0h3.9v3.9h-3.9zM229.6 539.0h3.9v3.9h-3.9zM231.1 533.0h3.9v3.9h-3.9zM227.6 531.5h3.9v3.9h-3.9zM225.4 546.0h3.9v3.9h-3.9zM229.2 544.0h3.9v3.9h-3.9zM240.2 394.1h3.9v3.9h-3.9zM240.0 400.1h3.9v3.9h-3.9zM239.9 406.1h3.9v3.9h-3.9zM239.8 412.1h3.9v3.9h-3.9zM239.6 418.1h3.9v3.9h-3.9zM239.5 424.1h3.9v3.9h-3.9zM239.4 430.1h3.9v3.9h-3.9zM239.2 436.1h3.9v3.9h-3.9zM239.0 442.1h3.9v3.9h-3.9zM238.9 448.1h3.9v3.9h-3.9zM238.7 454.1h3.9v3.9h-3.9zM238.5 460.1h3.9v3.9h-3.9zM238.4 466.1h3.9v3.9h-3.9zM238.2 472.1h3.9v3.9h-3.9zM237.9 478.1h3.9v3.9h-3.9zM237.6 484.1h3.9v3.9h-3.9zM237.2 490.1h3.9v3.9h-3.9zM236.6 496.1h3.9v3.9h-3.9zM235.9 502.1h3.9v3.9h-3.9zM235.2 508.1h3.9v3.9h-3.9zM384.3 544.3h3.9v3.9h-3.9zM383.2 549.7h3.9v3.9h-3.9zM382.1 547.5h3.9v3.9h-3.9zM380.9 547.6h3.9v3.9h-3.9zM379.9 546.3h3.9v3.9h-3.9zM378.4 547.6h3.9v3.9h-3.9zM377.0 554.4h3.9v3.9h-3.9zM375.8 547.5h3.9v3.9h-3.9zM375.7 556.0h3.9v3.9h-3.9zM374.1 549.3h3.9v3.9h-3.9zM372.4 553.2h3.9v3.9h-3.9zM371.2 550.0h3.9v3.9h-3.9zM370.2 543.1h3.9v3.9h-3.9zM369.4 552.7h3.9v3.9h-3.9zM368.2 552.4h3.9v3.9h-3.9zM367.3 548.7h3.9v3.9h-3.9zM365.9 541.8h3.9v3.9h-3.9zM364.5 541.0h3.9v3.9h-3.9zM364.2 550.4h3.9v3.9h-3.9zM362.7 547.8h3.9v3.9h-3.9zM361.1 551.1h3.9v3.9h-3.9zM359.7 551.6h3.9v3.9h-3.9zM359.4 548.6h3.9v3.9h-3.9zM357.8 550.5h3.9v3.9h-3.9zM357.3 551.8h3.9v3.9h-3.9zM355.3 552.2h3.9v3.9h-3.9zM354.9 542.7h3.9v3.9h-3.9zM353.2 559.2h3.9v3.9h-3.9zM351.6 552.3h3.9v3.9h-3.9zM350.7 555.8h3.9v3.9h-3.9zM349.4 550.6h3.9v3.9h-3.9zM349.0 559.3h3.9v3.9h-3.9zM347.1 557.1h3.9v3.9h-3.9zM345.9 560.0h3.9v3.9h-3.9zM345.6 563.5h3.9v3.9h-3.9zM344.0 563.6h3.9v3.9h-3.9zM342.6 558.6h3.9v3.9h-3.9zM342.0 555.9h3.9v3.9h-3.9zM340.2 557.5h3.9v3.9h-3.9zM339.2 565.9h3.9v3.9h-3.9zM338.9 558.6h3.9v3.9h-3.9zM337.7 560.1h3.9v3.9h-3.9zM335.7 559.2h3.9v3.9h-3.9zM335.1 558.3h3.9v3.9h-3.9zM333.3 562.5h3.9v3.9h-3.9zM332.3 564.8h3.9v3.9h-3.9zM331.8 551.1h3.9v3.9h-3.9zM329.8 558.5h3.9v3.9h-3.9zM328.7 554.9h3.9v3.9h-3.9zM328.1 551.7h3.9v3.9h-3.9zM326.7 550.8h3.9v3.9h-3.9zM325.7 554.9h3.9v3.9h-3.9zM324.6 548.6h3.9v3.9h-3.9zM323.0 554.4h3.9v3.9h-3.9zM322.7 555.2h3.9v3.9h-3.9zM320.7 553.6h3.9v3.9h-3.9zM320.2 557.8h3.9v3.9h-3.9zM319.3 551.7h3.9v3.9h-3.9zM318.1 549.3h3.9v3.9h-3.9zM316.0 544.3h3.9v3.9h-3.9zM314.8 554.0h3.9v3.9h-3.9zM314.4 547.5h3.9v3.9h-3.9zM312.8 549.7h3.9v3.9h-3.9zM311.7 542.9h3.9v3.9h-3.9zM310.4 546.4h3.9v3.9h-3.9zM309.3 547.4h3.9v3.9h-3.9zM308.5 556.6h3.9v3.9h-3.9zM307.0 540.5h3.9v3.9h-3.9zM306.7 545.2h3.9v3.9h-3.9zM304.7 551.7h3.9v3.9h-3.9zM303.8 557.0h3.9v3.9h-3.9zM302.5 553.2h3.9v3.9h-3.9zM301.6 545.4h3.9v3.9h-3.9zM300.9 543.4h3.9v3.9h-3.9zM299.8 550.7h3.9v3.9h-3.9zM298.2 546.9h3.9v3.9h-3.9zM296.5 550.4h3.9v3.9h-3.9zM296.3 559.4h3.9v3.9h-3.9zM294.9 561.9h3.9v3.9h-3.9zM293.7 559.2h3.9v3.9h-3.9zM292.3 559.8h3.9v3.9h-3.9zM291.8 559.2h3.9v3.9h-3.9zM289.5 562.1h3.9v3.9h-3.9zM289.4 561.3h3.9v3.9h-3.9zM288.0 561.0h3.9v3.9h-3.9zM287.1 558.7h3.9v3.9h-3.9zM285.3 553.1h3.9v3.9h-3.9zM284.7 561.1h3.9v3.9h-3.9zM283.1 565.5h3.9v3.9h-3.9zM282.1 558.6h3.9v3.9h-3.9zM281.0 551.8h3.9v3.9h-3.9zM279.8 560.7h3.9v3.9h-3.9zM278.0 559.6h3.9v3.9h-3.9zM277.9 549.2h3.9v3.9h-3.9zM276.5 557.6h3.9v3.9h-3.9zM275.2 567.0h3.9v3.9h-3.9zM273.9 556.8h3.9v3.9h-3.9zM273.1 566.1h3.9v3.9h-3.9zM271.1 561.0h3.9v3.9h-3.9zM270.2 559.0h3.9v3.9h-3.9zM269.6 559.3h3.9v3.9h-3.9zM268.7 564.6h3.9v3.9h-3.9zM266.8 566.3h3.9v3.9h-3.9zM266.1 570.4h3.9v3.9h-3.9zM264.4 568.2h3.9v3.9h-3.9zM263.8 573.6h3.9v3.9h-3.9zM262.4 579.1h3.9v3.9h-3.9zM261.5 573.9h3.9v3.9h-3.9zM259.8 564.2h3.9v3.9h-3.9zM259.5 568.9h3.9v3.9h-3.9zM258.3 560.8h3.9v3.9h-3.9zM256.7 549.6h3.9v3.9h-3.9zM256.4 541.0h3.9v3.9h-3.9zM254.9 536.0h3.9v3.9h-3.9zM253.4 539.0h3.9v3.9h-3.9zM251.9 533.0h3.9v3.9h-3.9zM255.4 531.5h3.9v3.9h-3.9zM257.3 548.0h3.9v3.9h-3.9zM253.7 544.0h3.9v3.9h-3.9zM242.7 394.1h3.9v3.9h-3.9zM242.9 400.1h3.9v3.9h-3.9zM243.0 406.1h3.9v3.9h-3.9zM243.1 412.1h3.9v3.9h-3.9zM243.3 418.1h3.9v3.9h-3.9zM243.4 424.1h3.9v3.9h-3.9zM243.5 430.1h3.9v3.9h-3.9zM243.7 436.1h3.9v3.9h-3.9zM243.9 442.1h3.9v3.9h-3.9zM244.0 448.1h3.9v3.9h-3.9zM244.2 454.1h3.9v3.9h-3.9zM244.4 460.1h3.9v3.9h-3.9zM244.5 466.1h3.9v3.9h-3.9zM244.7 472.1h3.9v3.9h-3.9zM245.0 478.1h3.9v3.9h-3.9zM245.3 484.1h3.9v3.9h-3.9zM245.7 490.1h3.9v3.9h-3.9zM246.3 496.1h3.9v3.9h-3.9zM247.0 502.1h3.9v3.9h-3.9zM247.7 508.1h3.9v3.9h-3.9z" fill="#000"/>
<path d="M99.0 559.0 L100.5 559.1 L102.0 559.2 L103.5 559.3 L105.0 559.4 L106.5 559.5 L108.0 559.6 L109.5 559.7 L111.0 559.8 L112.5 559.9 L114.0 559.9 L115.5 560.0 L117.0 560.1 L118.5 560.2 L120.0 560.2 L121.5 560.3 L123.0 560.3 L124.5 560.4 L126.0 560.4 L127.5 560.4 L129.0 560.5 L130.5 560.5 L132.0 560.5 L133.5 560.5 L135.0 560.5 L136.5 560.5 L138.0 560.5 L139.5 560.5 L141.0 560.5 L142.5 560.5 L144.0 560.5 L145.5 560.5 L147.0 560.5 L148.5 560.5 L150.0 560.5 L151.5 560.5 L153.0 560.5 L154.5 560.5 L156.0 560.5 L157.5 560.5 L159.0 560.4 L160.5 560.4 L162.0 560.3 L163.5 560.3 L165.0 560.3 L166.5 560.2 L168.0 560.1 L169.5 560.1 L171.0 560.0 L172.5 560.0 L174.0 559.9 L175.5 559.9 L177.0 559.8 L178.5 559.7 L180.0 559.7 L181.5 559.6 L183.0 559.5 L184.5 559.4 L186.0 559.4 L187.5 559.3 L189.0 559.2 L190.5 559.1 L192.0 559.0 L193.5 558.8 L195.0 558.7 L196.5 558.6 L198.0 558.4 L199.5 558.2 L201.0 558.0 L202.5 557.8 L204.0 557.6 L205.5 557.3 L207.0 557.1 L208.5 556.7 L210.0 556.4 L211.5 555.9 L213.0 555.4 L214.5 554.9 L216.0 554.3 L217.5 553.6 L219.0 552.9 L220.5 552.0 L222.0 551.0 L223.5 549.9 L225.0 548.5 L226.5 547.0 L228.0 545.1 L229.5 542.7 L231.0 539.8 L231.4 538.9 L231.7 538.4 L231.9 537.8 L232.2 537.2 L232.4 536.6 L232.7 535.9 L232.9 535.2 L233.2 534.5 L233.4 533.7 L233.7 532.9 L233.9 532.0 L234.2 531.1 L234.4 530.1 L234.7 529.1 L234.9 528.0 L235.2 526.8 L235.4 525.6 L235.7 524.3 L235.9 522.8 L236.2 521.1 L236.4 519.2 L236.7 517.1 L236.9 514.7 L237.2 512.2 L237.4 509.5 L237.7 506.7 L237.9 503.7 L238.2 500.6 L238.4 497.3 L238.7 493.6 L238.9 489.6 L239.2 485.2 L239.4 480.6 L239.7 475.8 L239.9 470.9 L240.2 466.0 L240.4 461.0 L240.7 455.7 L240.9 450.3 L241.2 444.7 L241.4 439.0 L241.7 433.2 L241.9 427.3 L242.2 421.5 L242.4 415.6 L242.7 409.6 L242.9 403.4 L243.2 397.3 L243.4 391.0 L243.7 397.3 L243.9 403.4 L244.2 409.6 L244.4 415.6 L244.7 421.5 L244.9 427.3 L245.2 433.2 L245.4 439.0 L245.7 444.7 L245.9 450.3 L246.2 455.7 L246.4 461.0 L246.7 466.0 L246.9 470.9 L247.2 475.8 L247.4 480.6 L247.7 485.2 L247.9 489.6 L248.2 493.6 L248.4 497.3 L248.7 500.6 L248.9 503.7 L249.2 506.7 L249.4 509.5 L249.7 512.2 L249.9 514.7 L250.2 517.1 L250.4 519.2 L250.7 521.1 L250.9 522.8 L251.2 524.3 L251.4 525.6 L251.7 526.8 L251.9 528.0 L252.2 529.1 L252.4 530.1 L252.7 531.1 L252.9 532.0 L253.2 532.9 L253.4 533.7 L253.7 534.5 L253.9 535.2 L254.2 535.9 L254.4 536.6 L254.7 537.2 L254.9 537.8 L255.2 538.4 L255.4 538.9 L255.8 539.8 L257.3 542.7 L258.8 545.1 L260.3 547.0 L261.8 548.5 L263.3 549.9 L264.8 551.0 L266.3 552.0 L267.8 552.9 L269.3 553.6 L270.8 554.3 L272.3 554.9 L273.8 555.4 L275.3 555.9 L276.8 556.4 L278.3 556.7 L279.8 557.1 L281.3 557.3 L282.8 557.6 L284.3 557.8 L285.8 558.0 L287.3 558.2 L288.8 558.4 L290.3 558.6 L291.8 558.7 L293.3 558.8 L294.8 559.0 L296.3 559.1 L297.8 559.2 L299.3 559.3 L300.8 559.4 L302.3 559.4 L303.8 559.5 L305.3 559.6 L306.8 559.7 L308.3 559.7 L309.8 559.8 L311.3 559.9 L312.8 559.9 L314.3 560.0 L315.8 560.0 L317.3 560.1 L318.8 560.1 L320.3 560.2 L321.8 560.3 L323.3 560.3 L324.8 560.3 L326.3 560.4 L327.8 560.4 L329.3 560.5 L330.8 560.5 L332.3 560.5 L333.8 560.5 L335.3 560.5 L336.8 560.5 L338.3 560.5 L339.8 560.5 L341.3 560.5 L342.8 560.5 L344.3 560.5 L345.8 560.5 L347.3 560.5 L348.8 560.5 L350.3 560.5 L351.8 560.5 L353.3 560.5 L354.8 560.5 L356.3 560.5 L357.8 560.5 L359.3 560.4 L360.8 560.4 L362.3 560.4 L363.8 560.3 L365.3 560.3 L366.8 560.2 L368.3 560.2 L369.8 560.1 L371.3 560.0 L372.8 559.9 L374.3 559.9 L375.8 559.8 L377.3 559.7 L378.8 559.6 L380.3 559.5 L381.8 559.4 L383.3 559.3 L384.8 559.2 L386.3 559.1 L387.8 559.0" fill="none" stroke="#ff0000" stroke-width="3.7" stroke-linejoin="round" stroke-linecap="butt"/>
<path d="M99.0 527.2 L100.5 528.1 L102.0 529.0 L103.5 529.9 L105.0 530.7 L106.5 531.6 L108.0 532.4 L109.5 533.3 L111.0 534.1 L112.5 534.9 L114.0 535.7 L115.5 536.5 L117.0 537.3 L118.5 538.1 L120.0 538.8 L121.5 539.6 L123.0 540.3 L124.5 541.0 L126.0 541.7 L127.5 542.5 L129.0 543.2 L130.5 544.0 L132.0 544.7 L133.5 545.5 L135.0 546.3 L136.5 547.1 L138.0 548.0 L139.5 548.8 L141.0 549.7 L142.5 550.6 L144.0 551.4 L145.5 552.3 L147.0 553.1 L148.5 553.9 L150.0 554.7 L151.5 555.5 L153.0 556.2 L154.5 556.9 L156.0 557.5 L157.5 558.2 L159.0 558.8 L160.5 559.5 L162.0 560.1 L163.5 560.7 L165.0 561.3 L166.5 561.8 L168.0 562.4 L169.5 562.9 L171.0 563.4 L172.5 563.9 L174.0 564.4 L175.5 564.9 L177.0 565.4 L178.5 565.9 L180.0 566.4 L181.5 566.9 L183.0 567.3 L184.5 567.8 L186.0 568.2 L187.5 568.5 L189.0 568.9 L190.5 569.1 L192.0 569.4 L193.5 569.6 L195.0 569.9 L196.5 570.1 L198.0 570.3 L199.5 570.5 L201.0 570.7 L202.5 570.9 L204.0 571.0 L205.5 571.0 L207.0 571.0 L208.5 570.9 L210.0 570.6 L211.5 570.4 L213.0 570.0 L214.5 569.6 L216.0 569.1 L217.5 568.6 L219.0 568.1 L220.5 567.3 L222.0 566.4 L223.5 565.2 L225.0 563.7 L226.5 562.0 L228.0 559.5 L229.5 556.4 L231.0 552.6 L231.4 551.5 L231.7 550.7 L231.9 549.9 L232.2 549.0 L232.4 548.1 L232.7 547.2 L232.9 546.2 L233.2 545.2 L233.4 544.1 L233.7 543.0 L233.9 541.8 L234.2 540.6 L234.4 539.3 L234.7 538.0 L234.9 536.6 L235.2 535.1 L235.4 533.5 L235.7 531.8 L235.9 530.0 L236.2 528.1 L236.4 526.1 L236.7 524.1 L236.9 522.0 L237.2 519.9 L237.4 517.8 L237.7 515.6 L237.9 513.4 L238.2 511.3 L238.4 509.2 L238.7 507.2 L238.9 505.2 L239.2 503.2 L239.4 501.1 L239.7 498.9 L239.9 496.4 L240.2 493.7 L240.4 490.7 L240.7 487.3 L240.9 483.3 L241.2 477.8 L241.4 470.9 L241.7 463.0 L241.9 454.4 L242.2 445.4 L242.4 436.3 L242.7 426.0 L242.9 415.0 L243.2 403.4 L243.4 391.0 L243.7 403.4 L243.9 415.0 L244.2 426.0 L244.4 436.3 L244.7 445.4 L244.9 454.4 L245.2 463.0 L245.4 470.9 L245.7 477.8 L245.9 483.3 L246.2 487.3 L246.4 490.7 L246.7 493.7 L246.9 496.4 L247.2 498.9 L247.4 501.1 L247.7 503.2 L247.9 505.2 L248.2 507.2 L248.4 509.2 L248.7 511.3 L248.9 513.4 L249.2 515.6 L249.4 517.8 L249.7 519.9 L249.9 522.0 L250.2 524.1 L250.4 526.1 L250.7 528.1 L250.9 530.0 L251.2 531.8 L251.4 533.5 L251.7 535.1 L251.9 536.6 L252.2 538.0 L252.4 539.3 L252.7 540.6 L252.9 541.8 L253.2 543.0 L253.4 544.1 L253.7 545.2 L253.9 546.2 L254.2 547.2 L254.4 548.1 L254.7 549.0 L254.9 549.9 L255.2 550.7 L255.4 551.5 L255.8 552.6 L257.3 556.4 L258.8 559.5 L260.3 562.0 L261.8 563.7 L263.3 565.2 L264.8 566.4 L266.3 567.3 L267.8 568.1 L269.3 568.6 L270.8 569.1 L272.3 569.6 L273.8 570.0 L275.3 570.4 L276.8 570.6 L278.3 570.9 L279.8 571.0 L281.3 571.0 L282.8 571.0 L284.3 570.9 L285.8 570.7 L287.3 570.5 L288.8 570.3 L290.3 570.1 L291.8 569.9 L293.3 569.6 L294.8 569.4 L296.3 569.1 L297.8 568.9 L299.3 568.5 L300.8 568.2 L302.3 567.8 L303.8 567.3 L305.3 566.9 L306.8 566.4 L308.3 565.9 L309.8 565.4 L311.3 564.9 L312.8 564.4 L314.3 563.9 L315.8 563.4 L317.3 562.9 L318.8 562.4 L320.3 561.8 L321.8 561.3 L323.3 560.7 L324.8 560.1 L326.3 559.5 L327.8 558.8 L329.3 558.2 L330.8 557.5 L332.3 556.9 L333.8 556.2 L335.3 555.5 L336.8 554.7 L338.3 553.9 L339.8 553.1 L341.3 552.3 L342.8 551.4 L344.3 550.6 L345.8 549.7 L347.3 548.8 L348.8 548.0 L350.3 547.1 L351.8 546.3 L353.3 545.5 L354.8 544.7 L356.3 544.0 L357.8 543.2 L359.3 542.5 L360.8 541.7 L362.3 541.0 L363.8 540.3 L365.3 539.6 L366.8 538.8 L368.3 538.1 L369.8 537.3 L371.3 536.5 L372.8 535.7 L374.3 534.9 L375.8 534.1 L377.3 533.3 L378.8 532.4 L380.3 531.6 L381.8 530.7 L383.3 529.9 L384.8 529.0 L386.3 528.1 L387.8 527.2" fill="none" stroke="#0000ff" stroke-width="3.8" stroke-linejoin="round" stroke-linecap="butt"/>
<path d="M99.0 500.0 L100.5 501.4 L102.0 502.7 L103.5 504.1 L105.0 505.5 L106.5 506.8 L108.0 508.2 L109.5 509.6 L111.0 510.9 L112.5 512.3 L114.0 513.6 L115.5 515.0 L117.0 516.3 L118.5 517.6 L120.0 518.9 L121.5 520.3 L123.0 521.6 L124.5 522.9 L126.0 524.2 L127.5 525.5 L129.0 526.9 L130.5 528.3 L132.0 529.7 L133.5 531.1 L135.0 532.6 L136.5 534.1 L138.0 535.6 L139.5 537.2 L141.0 538.8 L142.5 540.4 L144.0 542.0 L145.5 543.6 L147.0 545.2 L148.5 546.8 L150.0 548.4 L151.5 550.0 L153.0 551.5 L154.5 553.0 L156.0 554.6 L157.5 556.1 L159.0 557.7 L160.5 559.2 L162.0 560.7 L163.5 562.2 L165.0 563.7 L166.5 565.2 L168.0 566.7 L169.5 568.1 L171.0 569.6 L172.5 571.0 L174.0 572.4 L175.5 573.8 L177.0 575.3 L178.5 576.7 L180.0 578.1 L181.5 579.5 L183.0 580.9 L184.5 582.2 L186.0 583.5 L187.5 584.7 L189.0 585.8 L190.5 586.9 L192.0 587.9 L193.5 588.9 L195.0 589.8 L196.5 590.7 L198.0 591.5 L199.5 592.1 L201.0 592.5 L202.5 592.9 L204.0 593.2 L205.5 593.4 L207.0 593.5 L208.5 593.4 L210.0 593.2 L211.5 592.8 L213.0 592.3 L214.5 591.8 L216.0 591.1 L217.5 590.0 L219.0 588.8 L220.5 587.3 L222.0 585.6 L223.5 583.6 L225.0 581.0 L226.5 577.7 L228.0 573.8 L229.5 569.3 L231.0 563.2 L231.4 561.2 L231.7 559.9 L231.9 558.5 L232.2 557.1 L232.4 555.7 L232.7 554.1 L232.9 552.6 L233.2 551.0 L233.4 549.3 L233.7 547.6 L233.9 545.7 L234.2 543.6 L234.4 541.3 L234.7 538.9 L234.9 536.3 L235.2 533.6 L235.4 530.8 L235.7 527.9 L235.9 525.1 L236.2 522.3 L236.4 519.5 L236.7 516.8 L236.9 514.1 L237.2 511.4 L237.4 508.6 L237.7 505.8 L237.9 502.9 L238.2 499.8 L238.4 496.6 L238.7 493.2 L238.9 489.5 L239.2 485.6 L239.4 481.1 L239.7 476.2 L239.9 471.0 L240.2 465.4 L240.4 459.6 L240.7 452.9 L240.9 445.7 L241.2 438.6 L241.4 432.0 L241.7 426.1 L241.9 420.5 L242.2 415.2 L242.4 410.0 L242.7 405.0 L242.9 400.1 L243.2 395.5 L243.4 391.0 L243.7 395.5 L243.9 400.1 L244.2 405.0 L244.4 410.0 L244.7 415.2 L244.9 420.5 L245.2 426.1 L245.4 432.0 L245.7 438.6 L245.9 445.7 L246.2 452.9 L246.4 459.6 L246.7 465.4 L246.9 471.0 L247.2 476.2 L247.4 481.1 L247.7 485.6 L247.9 489.5 L248.2 493.2 L248.4 496.6 L248.7 499.8 L248.9 502.9 L249.2 505.8 L249.4 508.6 L249.7 511.4 L249.9 514.1 L250.2 516.8 L250.4 519.5 L250.7 522.3 L250.9 525.1 L251.2 527.9 L251.4 530.8 L251.7 533.6 L251.9 536.3 L252.2 538.9 L252.4 541.3 L252.7 543.6 L252.9 545.7 L253.2 547.6 L253.4 549.3 L253.7 551.0 L253.9 552.6 L254.2 554.1 L254.4 555.7 L254.7 557.1 L254.9 558.5 L255.2 559.9 L255.4 561.2 L255.8 563.2 L257.3 569.3 L258.8 573.8 L260.3 577.7 L261.8 581.0 L263.3 583.6 L264.8 585.6 L266.3 587.3 L267.8 588.8 L269.3 590.0 L270.8 591.1 L272.3 591.8 L273.8 592.3 L275.3 592.8 L276.8 593.2 L278.3 593.4 L279.8 593.5 L281.3 593.4 L282.8 593.2 L284.3 592.9 L285.8 592.5 L287.3 592.1 L288.8 591.5 L290.3 590.7 L291.8 589.8 L293.3 588.9 L294.8 587.9 L296.3 586.9 L297.8 585.8 L299.3 584.7 L300.8 583.5 L302.3 582.2 L303.8 580.9 L305.3 579.5 L306.8 578.1 L308.3 576.7 L309.8 575.3 L311.3 573.8 L312.8 572.4 L314.3 571.0 L315.8 569.6 L317.3 568.1 L318.8 566.7 L320.3 565.2 L321.8 563.7 L323.3 562.2 L324.8 560.7 L326.3 559.2 L327.8 557.7 L329.3 556.1 L330.8 554.6 L332.3 553.0 L333.8 551.5 L335.3 550.0 L336.8 548.4 L338.3 546.8 L339.8 545.2 L341.3 543.6 L342.8 542.0 L344.3 540.4 L345.8 538.8 L347.3 537.2 L348.8 535.6 L350.3 534.1 L351.8 532.6 L353.3 531.1 L354.8 529.7 L356.3 528.3 L357.8 526.9 L359.3 525.5 L360.8 524.2 L362.3 522.9 L363.8 521.6 L365.3 520.3 L366.8 518.9 L368.3 517.6 L369.8 516.3 L371.3 515.0 L372.8 513.6 L374.3 512.3 L375.8 510.9 L377.3 509.6 L378.8 508.2 L380.3 506.8 L381.8 505.5 L383.3 504.1 L384.8 502.7 L386.3 501.4 L387.8 500.0" fill="none" stroke="#00ff00" stroke-width="3.9" stroke-linejoin="round" stroke-linecap="butt"/>
</g>
<text transform="translate(98.3 631.0) scale(1 1.045)" font-size="27.3" text-anchor="middle">-8</text>
<text transform="translate(171.7 631.0) scale(1 1.045)" font-size="27.3" text-anchor="middle">-4</text>
<text transform="translate(245.1 631.0) scale(1 1.045)" font-size="27.3" text-anchor="middle">0</text>
<text transform="translate(317.1 631.0) scale(1 1.045)" font-size="27.3" text-anchor="middle">4</text>
<text transform="translate(386.1 631.0) scale(1 1.045)" font-size="27.3" text-anchor="middle">8</text>
<text transform="translate(94.0 400.8) scale(1 1.045)" font-size="27.3" text-anchor="end">0</text>
<text transform="translate(94.0 519.1) scale(1 1.045)" font-size="27.3" text-anchor="end">-0.1</text>
<path d="M253.5 391.5H282.7" stroke="#ff0000" stroke-width="3.4" stroke-linecap="round"/>
<text transform="translate(287.8 402.9) scale(1 1.04)" font-size="27">0.07 ps</text>
<path d="M253.5 425.1H282.7" stroke="#0000ff" stroke-width="3.4" stroke-linecap="round"/>
<text transform="translate(287.8 434.3) scale(1 1.04)" font-size="27">0.30 ps</text>
<path d="M253.5 458.9H282.7" stroke="#00ff00" stroke-width="3.4" stroke-linecap="round"/>
<text transform="translate(287.8 465.8) scale(1 1.04)" font-size="27">0.60 ps</text>
<text transform="translate(111.0 418.5) scale(1 1.07)" font-size="32">(c)</text>
<text x="257.6" y="661.9" font-size="30.5" text-anchor="middle"><tspan font-style="italic">B</tspan> (mT)</text>
<g transform="translate(33.0 582.2) rotate(-90)"><text x="0" y="0" font-size="31.7">Δ<tspan font-style="italic">σ</tspan>-Δ<tspan font-style="italic">σ</tspan></text><text x="91.2" y="10" font-size="18" font-style="italic">30K</text><text x="131.7" y="0" font-size="30">(e</text><text x="158.4" y="-12" font-size="18">2</text><text x="168.4" y="0" font-size="30">/h)</text></g>
</g>
<g>
<clipPath id="cpd"><rect x="529.1" y="368.3" width="289.0" height="233.5"/></clipPath>
<path d="M529.0 601.8v-9.4M529.0 368.3v9.4M673.5 601.8v-9.4M673.5 368.3v9.4M818.0 601.8v-9.4M818.0 368.3v9.4M601.2 601.8v-5.0M601.2 368.3v5.0M745.8 601.8v-5.0M745.8 368.3v5.0M529.1 383.6h9.4M818.1 383.6h-9.4M529.1 461.3h9.4M818.1 461.3h-9.4M529.1 539.0h9.4M818.1 539.0h-9.4M529.1 422.4h5.0M818.1 422.4h-5.0M529.1 500.1h5.0M818.1 500.1h-5.0M529.1 577.9h5.0M818.1 577.9h-5.0" stroke="#000" stroke-width="1.9" fill="none"/>
<rect x="529.1" y="368.3" width="289.0" height="233.5" fill="none" stroke="#000" stroke-width="1.9"/>
<g clip-path="url(#cpd)">
<path d="M528.1 542.4h3.9v3.9h-3.9zM528.5 542.1h3.9v3.9h-3.9zM528.7 541.3h3.9v3.9h-3.9zM528.3 539.9h3.9v3.9h-3.9zM529.3 539.5h3.9v3.9h-3.9zM529.6 537.9h3.9v3.9h-3.9zM529.6 537.5h3.9v3.9h-3.9zM529.9 537.4h3.9v3.9h-3.9zM529.9 536.2h3.9v3.9h-3.9zM530.4 536.8h3.9v3.9h-3.9zM531.3 534.9h3.9v3.9h-3.9zM531.8 534.5h3.9v3.9h-3.9zM532.3 534.6h3.9v3.9h-3.9zM532.3 536.8h3.9v3.9h-3.9zM532.8 536.4h3.9v3.9h-3.9zM533.7 538.3h3.9v3.9h-3.9zM533.3 539.2h3.9v3.9h-3.9zM533.8 539.4h3.9v3.9h-3.9zM533.7 540.6h3.9v3.9h-3.9zM534.3 541.4h3.9v3.9h-3.9zM534.7 540.9h3.9v3.9h-3.9zM534.5 541.3h3.9v3.9h-3.9zM534.6 541.8h3.9v3.9h-3.9zM535.0 543.4h3.9v3.9h-3.9zM535.1 544.2h3.9v3.9h-3.9zM535.6 544.2h3.9v3.9h-3.9zM536.4 545.2h3.9v3.9h-3.9zM536.3 545.9h3.9v3.9h-3.9zM536.9 545.8h3.9v3.9h-3.9zM537.5 546.4h3.9v3.9h-3.9zM537.7 548.5h3.9v3.9h-3.9zM537.4 549.1h3.9v3.9h-3.9zM538.1 549.3h3.9v3.9h-3.9zM538.2 549.0h3.9v3.9h-3.9zM538.7 551.3h3.9v3.9h-3.9zM539.1 551.6h3.9v3.9h-3.9zM540.1 552.5h3.9v3.9h-3.9zM540.0 552.1h3.9v3.9h-3.9zM540.5 553.5h3.9v3.9h-3.9zM540.6 554.2h3.9v3.9h-3.9zM541.5 555.1h3.9v3.9h-3.9zM541.2 555.9h3.9v3.9h-3.9zM541.5 555.5h3.9v3.9h-3.9zM542.2 557.3h3.9v3.9h-3.9zM542.3 558.0h3.9v3.9h-3.9zM542.8 557.6h3.9v3.9h-3.9zM542.8 558.0h3.9v3.9h-3.9zM542.9 558.7h3.9v3.9h-3.9zM543.7 560.9h3.9v3.9h-3.9zM543.6 559.8h3.9v3.9h-3.9zM544.6 561.4h3.9v3.9h-3.9zM544.4 561.6h3.9v3.9h-3.9zM544.8 563.3h3.9v3.9h-3.9zM545.0 563.3h3.9v3.9h-3.9zM545.0 564.9h3.9v3.9h-3.9zM545.2 564.8h3.9v3.9h-3.9zM546.2 564.8h3.9v3.9h-3.9zM546.4 566.8h3.9v3.9h-3.9zM546.8 567.0h3.9v3.9h-3.9zM547.0 566.3h3.9v3.9h-3.9zM547.7 566.3h3.9v3.9h-3.9zM548.2 564.9h3.9v3.9h-3.9zM549.0 564.8h3.9v3.9h-3.9zM549.3 563.4h3.9v3.9h-3.9zM549.2 563.2h3.9v3.9h-3.9zM549.4 561.7h3.9v3.9h-3.9zM549.6 560.7h3.9v3.9h-3.9zM549.9 561.5h3.9v3.9h-3.9zM550.6 560.2h3.9v3.9h-3.9zM550.5 559.0h3.9v3.9h-3.9zM550.5 558.2h3.9v3.9h-3.9zM551.3 558.6h3.9v3.9h-3.9zM551.3 557.8h3.9v3.9h-3.9zM552.0 556.9h3.9v3.9h-3.9zM552.2 556.3h3.9v3.9h-3.9zM552.2 555.5h3.9v3.9h-3.9zM552.4 554.4h3.9v3.9h-3.9zM553.1 554.1h3.9v3.9h-3.9zM553.0 553.9h3.9v3.9h-3.9zM553.5 552.5h3.9v3.9h-3.9zM553.3 551.8h3.9v3.9h-3.9zM553.8 551.4h3.9v3.9h-3.9zM554.3 551.0h3.9v3.9h-3.9zM554.8 550.4h3.9v3.9h-3.9zM555.0 549.6h3.9v3.9h-3.9zM555.9 549.6h3.9v3.9h-3.9zM556.3 550.4h3.9v3.9h-3.9zM557.0 550.9h3.9v3.9h-3.9zM557.2 552.2h3.9v3.9h-3.9zM557.1 552.3h3.9v3.9h-3.9zM557.0 553.7h3.9v3.9h-3.9zM557.8 553.9h3.9v3.9h-3.9zM557.8 555.1h3.9v3.9h-3.9zM558.0 554.9h3.9v3.9h-3.9zM558.3 556.3h3.9v3.9h-3.9zM558.5 556.7h3.9v3.9h-3.9zM558.7 558.1h3.9v3.9h-3.9zM558.9 558.7h3.9v3.9h-3.9zM558.6 558.4h3.9v3.9h-3.9zM559.2 560.0h3.9v3.9h-3.9zM559.2 560.8h3.9v3.9h-3.9zM559.8 560.3h3.9v3.9h-3.9zM560.0 561.2h3.9v3.9h-3.9zM559.9 561.7h3.9v3.9h-3.9zM560.6 562.1h3.9v3.9h-3.9zM561.2 561.5h3.9v3.9h-3.9zM561.8 561.4h3.9v3.9h-3.9zM562.3 561.0h3.9v3.9h-3.9zM562.3 560.9h3.9v3.9h-3.9zM562.4 559.3h3.9v3.9h-3.9zM562.9 558.6h3.9v3.9h-3.9zM563.1 558.7h3.9v3.9h-3.9zM563.6 556.7h3.9v3.9h-3.9zM564.2 556.3h3.9v3.9h-3.9zM564.6 556.2h3.9v3.9h-3.9zM565.2 556.8h3.9v3.9h-3.9zM565.9 555.3h3.9v3.9h-3.9zM566.5 555.2h3.9v3.9h-3.9zM566.7 553.9h3.9v3.9h-3.9zM567.5 554.3h3.9v3.9h-3.9zM568.5 554.8h3.9v3.9h-3.9zM568.9 553.9h3.9v3.9h-3.9zM569.7 554.1h3.9v3.9h-3.9zM569.4 555.9h3.9v3.9h-3.9zM570.0 555.9h3.9v3.9h-3.9zM570.3 558.0h3.9v3.9h-3.9zM570.3 557.9h3.9v3.9h-3.9zM570.4 558.3h3.9v3.9h-3.9zM571.2 559.2h3.9v3.9h-3.9zM571.4 560.9h3.9v3.9h-3.9zM571.4 560.4h3.9v3.9h-3.9zM571.9 561.5h3.9v3.9h-3.9zM571.7 561.9h3.9v3.9h-3.9zM572.4 562.9h3.9v3.9h-3.9zM572.1 563.6h3.9v3.9h-3.9zM572.2 564.5h3.9v3.9h-3.9zM572.8 564.7h3.9v3.9h-3.9zM573.3 566.3h3.9v3.9h-3.9zM572.9 566.5h3.9v3.9h-3.9zM573.4 568.0h3.9v3.9h-3.9zM574.0 567.4h3.9v3.9h-3.9zM573.9 567.9h3.9v3.9h-3.9zM574.7 568.9h3.9v3.9h-3.9zM574.7 569.9h3.9v3.9h-3.9zM575.0 570.7h3.9v3.9h-3.9zM575.5 570.4h3.9v3.9h-3.9zM575.9 571.1h3.9v3.9h-3.9zM576.4 571.0h3.9v3.9h-3.9zM576.7 570.5h3.9v3.9h-3.9zM577.2 569.5h3.9v3.9h-3.9zM577.7 569.1h3.9v3.9h-3.9zM577.4 567.8h3.9v3.9h-3.9zM577.9 568.3h3.9v3.9h-3.9zM578.5 566.9h3.9v3.9h-3.9zM578.0 566.6h3.9v3.9h-3.9zM578.6 565.5h3.9v3.9h-3.9zM579.0 564.9h3.9v3.9h-3.9zM579.0 564.6h3.9v3.9h-3.9zM579.2 563.0h3.9v3.9h-3.9zM579.8 562.0h3.9v3.9h-3.9zM579.6 562.4h3.9v3.9h-3.9zM579.7 561.8h3.9v3.9h-3.9zM580.4 560.4h3.9v3.9h-3.9zM580.4 560.3h3.9v3.9h-3.9zM581.3 558.5h3.9v3.9h-3.9zM581.2 558.6h3.9v3.9h-3.9zM581.6 557.5h3.9v3.9h-3.9zM581.7 557.3h3.9v3.9h-3.9zM582.5 555.7h3.9v3.9h-3.9zM582.4 556.4h3.9v3.9h-3.9zM583.2 555.5h3.9v3.9h-3.9zM582.9 554.9h3.9v3.9h-3.9zM584.0 554.7h3.9v3.9h-3.9zM584.1 552.3h3.9v3.9h-3.9zM584.5 551.9h3.9v3.9h-3.9zM584.6 552.5h3.9v3.9h-3.9zM585.0 550.3h3.9v3.9h-3.9zM584.9 551.0h3.9v3.9h-3.9zM585.0 549.8h3.9v3.9h-3.9zM585.5 548.3h3.9v3.9h-3.9zM586.0 547.3h3.9v3.9h-3.9zM585.8 547.3h3.9v3.9h-3.9zM586.1 546.0h3.9v3.9h-3.9zM586.7 546.5h3.9v3.9h-3.9zM587.3 544.7h3.9v3.9h-3.9zM587.2 544.4h3.9v3.9h-3.9zM587.6 544.0h3.9v3.9h-3.9zM588.2 543.2h3.9v3.9h-3.9zM587.8 543.1h3.9v3.9h-3.9zM588.3 542.3h3.9v3.9h-3.9zM588.9 542.1h3.9v3.9h-3.9zM589.2 540.9h3.9v3.9h-3.9zM589.3 540.1h3.9v3.9h-3.9zM589.6 539.8h3.9v3.9h-3.9zM590.2 538.1h3.9v3.9h-3.9zM590.3 537.9h3.9v3.9h-3.9zM591.1 536.9h3.9v3.9h-3.9zM591.5 537.2h3.9v3.9h-3.9zM591.5 536.8h3.9v3.9h-3.9zM592.2 535.7h3.9v3.9h-3.9zM593.3 536.5h3.9v3.9h-3.9zM593.9 537.7h3.9v3.9h-3.9zM593.9 539.0h3.9v3.9h-3.9zM593.9 539.6h3.9v3.9h-3.9zM594.2 539.2h3.9v3.9h-3.9zM595.3 540.9h3.9v3.9h-3.9zM595.0 540.5h3.9v3.9h-3.9zM595.9 542.2h3.9v3.9h-3.9zM596.0 541.9h3.9v3.9h-3.9zM596.2 542.9h3.9v3.9h-3.9zM596.3 543.5h3.9v3.9h-3.9zM597.0 544.1h3.9v3.9h-3.9zM597.2 544.4h3.9v3.9h-3.9zM598.0 545.9h3.9v3.9h-3.9zM598.4 546.1h3.9v3.9h-3.9zM598.9 546.9h3.9v3.9h-3.9zM599.1 547.6h3.9v3.9h-3.9zM599.7 547.9h3.9v3.9h-3.9zM599.5 548.0h3.9v3.9h-3.9zM600.0 548.6h3.9v3.9h-3.9zM600.9 550.1h3.9v3.9h-3.9zM601.1 550.0h3.9v3.9h-3.9zM601.2 552.3h3.9v3.9h-3.9zM601.6 552.2h3.9v3.9h-3.9zM601.7 552.4h3.9v3.9h-3.9zM601.6 553.3h3.9v3.9h-3.9zM602.0 554.4h3.9v3.9h-3.9zM602.6 554.8h3.9v3.9h-3.9zM602.3 555.9h3.9v3.9h-3.9zM602.5 556.9h3.9v3.9h-3.9zM602.7 558.1h3.9v3.9h-3.9zM602.7 559.9h3.9v3.9h-3.9zM603.2 560.9h3.9v3.9h-3.9zM603.7 561.4h3.9v3.9h-3.9zM603.7 562.8h3.9v3.9h-3.9zM603.6 563.3h3.9v3.9h-3.9zM604.0 564.3h3.9v3.9h-3.9zM604.5 564.3h3.9v3.9h-3.9zM604.3 565.0h3.9v3.9h-3.9zM604.5 565.9h3.9v3.9h-3.9zM604.8 568.4h3.9v3.9h-3.9zM605.0 568.0h3.9v3.9h-3.9zM605.3 568.7h3.9v3.9h-3.9zM605.7 570.3h3.9v3.9h-3.9zM605.5 570.3h3.9v3.9h-3.9zM606.1 572.4h3.9v3.9h-3.9zM606.2 572.2h3.9v3.9h-3.9zM606.7 572.3h3.9v3.9h-3.9zM606.2 574.5h3.9v3.9h-3.9zM606.7 573.9h3.9v3.9h-3.9zM607.0 576.4h3.9v3.9h-3.9zM607.1 576.0h3.9v3.9h-3.9zM607.0 576.3h3.9v3.9h-3.9zM607.8 577.8h3.9v3.9h-3.9zM608.1 577.7h3.9v3.9h-3.9zM607.7 578.4h3.9v3.9h-3.9zM608.1 579.1h3.9v3.9h-3.9zM608.2 580.4h3.9v3.9h-3.9zM608.5 580.5h3.9v3.9h-3.9zM608.5 582.8h3.9v3.9h-3.9zM608.9 582.7h3.9v3.9h-3.9zM609.3 583.5h3.9v3.9h-3.9zM609.3 583.8h3.9v3.9h-3.9zM609.6 584.9h3.9v3.9h-3.9zM610.5 585.7h3.9v3.9h-3.9zM610.7 585.7h3.9v3.9h-3.9zM610.3 586.9h3.9v3.9h-3.9zM611.0 587.6h3.9v3.9h-3.9zM611.2 588.4h3.9v3.9h-3.9zM611.8 589.5h3.9v3.9h-3.9zM612.0 589.1h3.9v3.9h-3.9zM613.0 588.6h3.9v3.9h-3.9zM613.0 588.0h3.9v3.9h-3.9zM613.4 588.2h3.9v3.9h-3.9zM614.4 586.7h3.9v3.9h-3.9zM614.2 585.7h3.9v3.9h-3.9zM614.7 585.3h3.9v3.9h-3.9zM615.6 587.6h3.9v3.9h-3.9zM615.6 587.6h3.9v3.9h-3.9zM616.2 588.6h3.9v3.9h-3.9zM616.0 590.1h3.9v3.9h-3.9zM616.4 590.9h3.9v3.9h-3.9zM616.6 592.4h3.9v3.9h-3.9zM617.1 593.8h3.9v3.9h-3.9zM617.4 594.8h3.9v3.9h-3.9zM617.5 595.3h3.9v3.9h-3.9zM617.5 596.1h3.9v3.9h-3.9zM618.4 593.2h3.9v3.9h-3.9zM618.7 591.1h3.9v3.9h-3.9zM618.5 589.5h3.9v3.9h-3.9zM618.8 586.4h3.9v3.9h-3.9zM618.7 584.6h3.9v3.9h-3.9zM619.1 583.8h3.9v3.9h-3.9zM619.3 581.1h3.9v3.9h-3.9zM619.9 580.7h3.9v3.9h-3.9zM619.5 578.8h3.9v3.9h-3.9zM619.8 578.8h3.9v3.9h-3.9zM620.7 579.3h3.9v3.9h-3.9zM620.9 577.4h3.9v3.9h-3.9zM621.2 577.0h3.9v3.9h-3.9zM621.6 575.9h3.9v3.9h-3.9zM622.3 576.9h3.9v3.9h-3.9zM623.1 575.3h3.9v3.9h-3.9zM617.0 579.0h3.9v3.9h-3.9zM618.0 591.9h3.9v3.9h-3.9zM618.2 560.0h3.9v3.9h-3.9zM618.8 584.8h3.9v3.9h-3.9zM620.1 587.3h3.9v3.9h-3.9zM619.7 573.7h3.9v3.9h-3.9zM621.3 580.2h3.9v3.9h-3.9zM621.5 564.2h3.9v3.9h-3.9zM621.7 578.5h3.9v3.9h-3.9zM622.3 565.0h3.9v3.9h-3.9zM622.9 570.0h3.9v3.9h-3.9zM623.6 578.7h3.9v3.9h-3.9zM624.6 593.4h3.9v3.9h-3.9zM624.7 562.2h3.9v3.9h-3.9zM625.3 581.7h3.9v3.9h-3.9zM626.6 564.1h3.9v3.9h-3.9zM626.8 588.7h3.9v3.9h-3.9zM628.0 589.7h3.9v3.9h-3.9zM627.6 579.7h3.9v3.9h-3.9zM628.9 569.3h3.9v3.9h-3.9zM628.9 561.7h3.9v3.9h-3.9zM629.9 572.5h3.9v3.9h-3.9zM631.3 571.9h3.9v3.9h-3.9zM631.8 577.4h3.9v3.9h-3.9zM632.3 576.1h3.9v3.9h-3.9zM632.7 563.6h3.9v3.9h-3.9zM632.7 574.3h3.9v3.9h-3.9zM633.6 561.1h3.9v3.9h-3.9zM634.2 576.6h3.9v3.9h-3.9zM634.8 576.6h3.9v3.9h-3.9zM635.9 588.7h3.9v3.9h-3.9zM636.7 591.1h3.9v3.9h-3.9zM637.0 583.6h3.9v3.9h-3.9zM637.5 555.5h3.9v3.9h-3.9zM638.2 585.5h3.9v3.9h-3.9zM638.2 585.1h3.9v3.9h-3.9zM639.8 572.3h3.9v3.9h-3.9zM640.1 592.1h3.9v3.9h-3.9zM640.7 574.9h3.9v3.9h-3.9zM641.1 583.5h3.9v3.9h-3.9zM641.6 584.0h3.9v3.9h-3.9zM642.9 579.2h3.9v3.9h-3.9zM642.8 552.6h3.9v3.9h-3.9zM643.8 548.1h3.9v3.9h-3.9zM644.2 586.7h3.9v3.9h-3.9zM645.0 559.7h3.9v3.9h-3.9zM645.7 579.7h3.9v3.9h-3.9zM645.8 587.4h3.9v3.9h-3.9zM646.9 557.7h3.9v3.9h-3.9zM647.1 561.3h3.9v3.9h-3.9zM648.3 563.4h3.9v3.9h-3.9zM648.7 543.4h3.9v3.9h-3.9zM649.7 580.3h3.9v3.9h-3.9zM650.4 566.7h3.9v3.9h-3.9zM650.5 549.7h3.9v3.9h-3.9zM650.8 537.5h3.9v3.9h-3.9zM651.9 552.0h3.9v3.9h-3.9zM652.7 548.2h3.9v3.9h-3.9zM653.3 569.9h3.9v3.9h-3.9zM654.2 560.3h3.9v3.9h-3.9zM653.8 561.8h3.9v3.9h-3.9zM654.5 538.6h3.9v3.9h-3.9zM655.8 538.9h3.9v3.9h-3.9zM656.0 538.7h3.9v3.9h-3.9zM656.8 547.4h3.9v3.9h-3.9zM657.6 544.0h3.9v3.9h-3.9zM657.5 557.6h3.9v3.9h-3.9zM658.9 546.1h3.9v3.9h-3.9zM659.0 537.1h3.9v3.9h-3.9zM660.3 547.6h3.9v3.9h-3.9zM660.7 527.1h3.9v3.9h-3.9zM661.2 544.7h3.9v3.9h-3.9zM661.7 512.9h3.9v3.9h-3.9zM670.3 388.1h3.9v3.9h-3.9zM670.0 394.1h3.9v3.9h-3.9zM669.7 400.1h3.9v3.9h-3.9zM669.3 406.1h3.9v3.9h-3.9zM669.0 412.1h3.9v3.9h-3.9zM668.8 418.1h3.9v3.9h-3.9zM668.5 424.1h3.9v3.9h-3.9zM668.2 430.1h3.9v3.9h-3.9zM667.9 436.1h3.9v3.9h-3.9zM667.6 442.1h3.9v3.9h-3.9zM667.3 448.1h3.9v3.9h-3.9zM667.0 454.1h3.9v3.9h-3.9zM666.6 460.1h3.9v3.9h-3.9zM666.1 466.1h3.9v3.9h-3.9zM665.5 472.1h3.9v3.9h-3.9zM664.9 478.1h3.9v3.9h-3.9zM664.2 484.1h3.9v3.9h-3.9zM663.5 490.1h3.9v3.9h-3.9zM662.7 496.1h3.9v3.9h-3.9zM661.9 502.1h3.9v3.9h-3.9zM661.1 508.1h3.9v3.9h-3.9zM660.1 514.0h3.9v3.9h-3.9zM658.9 520.0h3.9v3.9h-3.9zM657.4 526.0h3.9v3.9h-3.9zM655.7 532.0h3.9v3.9h-3.9zM653.6 538.0h3.9v3.9h-3.9zM692.3 537.5h3.9v3.9h-3.9zM688.6 538.6h3.9v3.9h-3.9zM687.3 538.9h3.9v3.9h-3.9zM687.1 538.7h3.9v3.9h-3.9zM684.1 537.1h3.9v3.9h-3.9zM682.4 527.1h3.9v3.9h-3.9zM681.4 512.9h3.9v3.9h-3.9zM672.8 388.1h3.9v3.9h-3.9zM673.1 394.1h3.9v3.9h-3.9zM673.4 400.1h3.9v3.9h-3.9zM673.8 406.1h3.9v3.9h-3.9zM674.1 412.1h3.9v3.9h-3.9zM674.3 418.1h3.9v3.9h-3.9zM674.6 424.1h3.9v3.9h-3.9zM674.9 430.1h3.9v3.9h-3.9zM675.2 436.1h3.9v3.9h-3.9zM675.5 442.1h3.9v3.9h-3.9zM675.8 448.1h3.9v3.9h-3.9zM676.1 454.1h3.9v3.9h-3.9zM676.5 460.1h3.9v3.9h-3.9zM677.0 466.1h3.9v3.9h-3.9zM677.6 472.1h3.9v3.9h-3.9zM678.2 478.1h3.9v3.9h-3.9zM678.9 484.1h3.9v3.9h-3.9zM679.6 490.1h3.9v3.9h-3.9zM680.4 496.1h3.9v3.9h-3.9zM681.2 502.1h3.9v3.9h-3.9zM682.0 508.1h3.9v3.9h-3.9zM683.0 514.0h3.9v3.9h-3.9zM684.2 520.0h3.9v3.9h-3.9zM685.7 526.0h3.9v3.9h-3.9zM687.4 532.0h3.9v3.9h-3.9zM689.5 538.0h3.9v3.9h-3.9zM681.5 511.7h3.9v3.9h-3.9zM681.3 508.8h3.9v3.9h-3.9zM681.8 521.1h3.9v3.9h-3.9zM682.5 544.2h3.9v3.9h-3.9zM683.6 519.6h3.9v3.9h-3.9zM683.8 528.6h3.9v3.9h-3.9zM685.0 538.0h3.9v3.9h-3.9zM685.5 546.8h3.9v3.9h-3.9zM686.3 562.3h3.9v3.9h-3.9zM686.8 543.5h3.9v3.9h-3.9zM687.0 547.2h3.9v3.9h-3.9zM687.2 548.3h3.9v3.9h-3.9zM688.5 569.2h3.9v3.9h-3.9zM689.1 540.1h3.9v3.9h-3.9zM689.1 541.8h3.9v3.9h-3.9zM690.1 542.4h3.9v3.9h-3.9zM690.5 543.1h3.9v3.9h-3.9zM691.2 550.2h3.9v3.9h-3.9zM691.7 552.9h3.9v3.9h-3.9zM692.6 552.2h3.9v3.9h-3.9zM693.6 570.7h3.9v3.9h-3.9zM693.2 555.1h3.9v3.9h-3.9zM693.8 579.4h3.9v3.9h-3.9zM695.3 555.5h3.9v3.9h-3.9zM695.9 580.3h3.9v3.9h-3.9zM696.3 559.0h3.9v3.9h-3.9zM696.9 563.8h3.9v3.9h-3.9zM697.4 557.3h3.9v3.9h-3.9zM698.1 566.3h3.9v3.9h-3.9zM698.2 560.8h3.9v3.9h-3.9zM698.7 557.5h3.9v3.9h-3.9zM699.8 553.4h3.9v3.9h-3.9zM700.2 570.3h3.9v3.9h-3.9zM700.4 565.1h3.9v3.9h-3.9zM701.2 558.3h3.9v3.9h-3.9zM702.2 563.9h3.9v3.9h-3.9zM703.1 552.7h3.9v3.9h-3.9zM703.1 557.5h3.9v3.9h-3.9zM703.8 578.9h3.9v3.9h-3.9zM704.2 575.9h3.9v3.9h-3.9zM705.3 545.1h3.9v3.9h-3.9zM705.9 565.3h3.9v3.9h-3.9zM706.1 582.9h3.9v3.9h-3.9zM706.6 573.4h3.9v3.9h-3.9zM707.3 563.5h3.9v3.9h-3.9zM708.4 562.6h3.9v3.9h-3.9zM708.3 586.9h3.9v3.9h-3.9zM709.3 573.5h3.9v3.9h-3.9zM709.4 567.5h3.9v3.9h-3.9zM710.0 590.7h3.9v3.9h-3.9zM710.9 584.4h3.9v3.9h-3.9zM711.2 566.0h3.9v3.9h-3.9zM712.8 558.9h3.9v3.9h-3.9zM712.9 566.0h3.9v3.9h-3.9zM713.9 565.9h3.9v3.9h-3.9zM713.6 570.7h3.9v3.9h-3.9zM714.2 561.2h3.9v3.9h-3.9zM715.1 586.1h3.9v3.9h-3.9zM716.1 571.8h3.9v3.9h-3.9zM717.0 575.1h3.9v3.9h-3.9zM717.1 580.8h3.9v3.9h-3.9zM718.1 574.7h3.9v3.9h-3.9zM718.3 587.4h3.9v3.9h-3.9zM718.9 584.8h3.9v3.9h-3.9zM719.0 574.5h3.9v3.9h-3.9zM719.5 562.2h3.9v3.9h-3.9zM721.1 587.7h3.9v3.9h-3.9zM721.6 592.7h3.9v3.9h-3.9zM722.1 564.5h3.9v3.9h-3.9zM722.8 561.5h3.9v3.9h-3.9zM723.0 558.0h3.9v3.9h-3.9zM724.0 587.5h3.9v3.9h-3.9zM724.0 574.5h3.9v3.9h-3.9zM725.4 570.3h3.9v3.9h-3.9zM725.3 575.3h3.9v3.9h-3.9zM726.4 575.1h3.9v3.9h-3.9zM727.1 572.9h3.9v3.9h-3.9zM726.9 581.0h3.9v3.9h-3.9zM727.9 567.1h3.9v3.9h-3.9zM728.8 564.4h3.9v3.9h-3.9zM728.8 573.2h3.9v3.9h-3.9zM729.6 585.6h3.9v3.9h-3.9zM730.5 575.6h3.9v3.9h-3.9zM730.8 572.1h3.9v3.9h-3.9zM731.0 593.2h3.9v3.9h-3.9zM731.6 580.5h3.9v3.9h-3.9zM732.4 550.8h3.9v3.9h-3.9zM729.0 578.2h3.9v3.9h-3.9zM729.0 577.1h3.9v3.9h-3.9zM729.1 576.0h3.9v3.9h-3.9zM729.9 574.9h3.9v3.9h-3.9zM729.6 573.4h3.9v3.9h-3.9zM730.2 573.2h3.9v3.9h-3.9zM730.6 572.9h3.9v3.9h-3.9zM730.1 572.3h3.9v3.9h-3.9zM731.0 571.3h3.9v3.9h-3.9zM731.1 570.2h3.9v3.9h-3.9zM731.2 569.4h3.9v3.9h-3.9zM731.3 567.8h3.9v3.9h-3.9zM731.2 567.9h3.9v3.9h-3.9zM731.7 565.9h3.9v3.9h-3.9zM732.0 566.2h3.9v3.9h-3.9zM732.1 565.7h3.9v3.9h-3.9zM732.6 564.3h3.9v3.9h-3.9zM732.7 563.8h3.9v3.9h-3.9zM732.7 562.9h3.9v3.9h-3.9zM733.2 562.3h3.9v3.9h-3.9zM733.4 561.3h3.9v3.9h-3.9zM733.4 561.7h3.9v3.9h-3.9zM733.6 560.0h3.9v3.9h-3.9zM733.4 559.5h3.9v3.9h-3.9zM733.9 559.3h3.9v3.9h-3.9zM734.4 558.9h3.9v3.9h-3.9zM734.3 557.2h3.9v3.9h-3.9zM734.6 557.1h3.9v3.9h-3.9zM734.5 555.4h3.9v3.9h-3.9zM734.7 554.9h3.9v3.9h-3.9zM735.1 555.3h3.9v3.9h-3.9zM735.2 554.5h3.9v3.9h-3.9zM735.5 552.5h3.9v3.9h-3.9zM736.3 551.6h3.9v3.9h-3.9zM735.8 550.9h3.9v3.9h-3.9zM736.0 550.7h3.9v3.9h-3.9zM736.3 549.6h3.9v3.9h-3.9zM736.4 549.8h3.9v3.9h-3.9zM736.6 548.3h3.9v3.9h-3.9zM737.2 548.7h3.9v3.9h-3.9zM737.5 547.7h3.9v3.9h-3.9zM737.8 547.2h3.9v3.9h-3.9zM738.2 545.3h3.9v3.9h-3.9zM737.8 545.4h3.9v3.9h-3.9zM738.4 544.6h3.9v3.9h-3.9zM738.9 543.3h3.9v3.9h-3.9zM739.1 543.0h3.9v3.9h-3.9zM739.1 542.0h3.9v3.9h-3.9zM739.3 541.8h3.9v3.9h-3.9zM739.7 541.7h3.9v3.9h-3.9zM739.8 540.7h3.9v3.9h-3.9zM739.9 539.8h3.9v3.9h-3.9zM740.2 539.5h3.9v3.9h-3.9zM741.1 537.7h3.9v3.9h-3.9zM741.2 537.0h3.9v3.9h-3.9zM741.1 536.1h3.9v3.9h-3.9zM741.4 535.4h3.9v3.9h-3.9zM741.9 535.6h3.9v3.9h-3.9zM742.0 535.2h3.9v3.9h-3.9zM742.2 533.9h3.9v3.9h-3.9zM742.8 532.8h3.9v3.9h-3.9zM743.7 532.6h3.9v3.9h-3.9zM743.8 533.9h3.9v3.9h-3.9zM745.0 533.9h3.9v3.9h-3.9zM745.1 534.0h3.9v3.9h-3.9zM745.2 535.4h3.9v3.9h-3.9zM745.7 535.4h3.9v3.9h-3.9zM746.6 535.8h3.9v3.9h-3.9zM746.5 537.8h3.9v3.9h-3.9zM747.2 537.3h3.9v3.9h-3.9zM747.6 538.7h3.9v3.9h-3.9zM747.9 540.1h3.9v3.9h-3.9zM748.4 540.1h3.9v3.9h-3.9zM748.7 540.6h3.9v3.9h-3.9zM748.8 541.9h3.9v3.9h-3.9zM749.2 541.8h3.9v3.9h-3.9zM749.1 543.2h3.9v3.9h-3.9zM749.6 543.3h3.9v3.9h-3.9zM749.9 544.2h3.9v3.9h-3.9zM750.3 545.4h3.9v3.9h-3.9zM750.7 545.6h3.9v3.9h-3.9zM751.1 546.2h3.9v3.9h-3.9zM751.1 547.4h3.9v3.9h-3.9zM751.5 548.1h3.9v3.9h-3.9zM751.9 548.5h3.9v3.9h-3.9zM751.9 548.6h3.9v3.9h-3.9zM751.8 549.7h3.9v3.9h-3.9zM752.3 551.3h3.9v3.9h-3.9zM752.1 551.0h3.9v3.9h-3.9zM752.9 551.9h3.9v3.9h-3.9zM753.2 552.1h3.9v3.9h-3.9zM753.4 553.3h3.9v3.9h-3.9zM753.4 553.4h3.9v3.9h-3.9zM753.5 555.4h3.9v3.9h-3.9zM754.0 555.7h3.9v3.9h-3.9zM754.0 555.4h3.9v3.9h-3.9zM754.5 556.9h3.9v3.9h-3.9zM754.7 557.9h3.9v3.9h-3.9zM754.7 559.0h3.9v3.9h-3.9zM754.8 559.9h3.9v3.9h-3.9zM755.0 560.6h3.9v3.9h-3.9zM755.7 560.4h3.9v3.9h-3.9zM756.2 561.2h3.9v3.9h-3.9zM756.1 561.1h3.9v3.9h-3.9zM756.6 562.9h3.9v3.9h-3.9zM756.4 562.6h3.9v3.9h-3.9zM756.8 564.8h3.9v3.9h-3.9zM757.4 564.6h3.9v3.9h-3.9zM757.0 565.9h3.9v3.9h-3.9zM757.5 566.4h3.9v3.9h-3.9zM758.0 567.4h3.9v3.9h-3.9zM758.2 567.5h3.9v3.9h-3.9zM759.3 565.8h3.9v3.9h-3.9zM759.6 565.4h3.9v3.9h-3.9zM759.9 565.9h3.9v3.9h-3.9zM760.1 564.3h3.9v3.9h-3.9zM760.3 563.1h3.9v3.9h-3.9zM760.4 562.2h3.9v3.9h-3.9zM760.8 561.4h3.9v3.9h-3.9zM760.9 560.9h3.9v3.9h-3.9zM761.2 560.1h3.9v3.9h-3.9zM761.1 560.4h3.9v3.9h-3.9zM761.9 560.2h3.9v3.9h-3.9zM762.2 559.7h3.9v3.9h-3.9zM762.1 558.4h3.9v3.9h-3.9zM762.8 557.0h3.9v3.9h-3.9zM762.8 556.5h3.9v3.9h-3.9zM763.6 557.1h3.9v3.9h-3.9zM764.4 556.7h3.9v3.9h-3.9zM764.5 557.6h3.9v3.9h-3.9zM765.3 557.2h3.9v3.9h-3.9zM765.8 558.0h3.9v3.9h-3.9zM766.0 559.0h3.9v3.9h-3.9zM766.8 558.9h3.9v3.9h-3.9zM767.0 559.6h3.9v3.9h-3.9zM767.8 561.1h3.9v3.9h-3.9zM768.1 561.3h3.9v3.9h-3.9zM768.9 560.7h3.9v3.9h-3.9zM769.5 561.6h3.9v3.9h-3.9zM770.6 561.6h3.9v3.9h-3.9zM770.5 561.0h3.9v3.9h-3.9zM771.3 559.6h3.9v3.9h-3.9zM771.3 558.8h3.9v3.9h-3.9zM771.8 557.8h3.9v3.9h-3.9zM771.6 558.2h3.9v3.9h-3.9zM772.1 556.0h3.9v3.9h-3.9zM772.6 555.4h3.9v3.9h-3.9zM772.4 555.6h3.9v3.9h-3.9zM772.9 555.4h3.9v3.9h-3.9zM772.8 554.2h3.9v3.9h-3.9zM773.7 553.4h3.9v3.9h-3.9zM773.9 552.7h3.9v3.9h-3.9zM774.2 552.9h3.9v3.9h-3.9zM774.2 551.8h3.9v3.9h-3.9zM774.6 551.5h3.9v3.9h-3.9zM775.3 550.8h3.9v3.9h-3.9zM775.8 549.8h3.9v3.9h-3.9zM776.3 548.5h3.9v3.9h-3.9zM776.6 548.2h3.9v3.9h-3.9zM777.4 549.9h3.9v3.9h-3.9zM777.6 550.8h3.9v3.9h-3.9zM778.0 550.5h3.9v3.9h-3.9zM778.2 551.9h3.9v3.9h-3.9zM778.6 551.6h3.9v3.9h-3.9zM778.8 554.0h3.9v3.9h-3.9zM779.2 554.2h3.9v3.9h-3.9zM779.5 553.8h3.9v3.9h-3.9zM779.9 554.7h3.9v3.9h-3.9zM779.7 556.2h3.9v3.9h-3.9zM780.5 555.7h3.9v3.9h-3.9zM781.0 556.5h3.9v3.9h-3.9zM780.6 557.8h3.9v3.9h-3.9zM781.3 559.3h3.9v3.9h-3.9zM781.5 559.4h3.9v3.9h-3.9zM781.9 559.6h3.9v3.9h-3.9zM782.1 560.2h3.9v3.9h-3.9zM781.7 562.2h3.9v3.9h-3.9zM782.4 562.7h3.9v3.9h-3.9zM782.2 563.8h3.9v3.9h-3.9zM782.6 563.3h3.9v3.9h-3.9zM782.5 565.4h3.9v3.9h-3.9zM782.8 564.7h3.9v3.9h-3.9zM783.2 566.7h3.9v3.9h-3.9zM783.9 567.3h3.9v3.9h-3.9zM783.9 566.5h3.9v3.9h-3.9zM784.2 567.6h3.9v3.9h-3.9zM784.6 569.6h3.9v3.9h-3.9zM784.2 569.9h3.9v3.9h-3.9zM784.6 569.3h3.9v3.9h-3.9zM785.5 570.2h3.9v3.9h-3.9zM785.8 569.1h3.9v3.9h-3.9zM785.9 568.1h3.9v3.9h-3.9zM786.6 568.2h3.9v3.9h-3.9zM786.4 567.6h3.9v3.9h-3.9zM786.6 565.7h3.9v3.9h-3.9zM787.1 565.1h3.9v3.9h-3.9zM787.4 565.4h3.9v3.9h-3.9zM788.1 564.0h3.9v3.9h-3.9zM788.7 563.5h3.9v3.9h-3.9zM789.5 565.0h3.9v3.9h-3.9zM790.0 564.6h3.9v3.9h-3.9zM790.3 565.2h3.9v3.9h-3.9zM790.8 565.5h3.9v3.9h-3.9zM791.1 567.0h3.9v3.9h-3.9zM791.7 566.4h3.9v3.9h-3.9zM791.9 568.3h3.9v3.9h-3.9zM792.6 568.9h3.9v3.9h-3.9zM793.3 569.0h3.9v3.9h-3.9zM793.7 569.2h3.9v3.9h-3.9zM794.5 568.4h3.9v3.9h-3.9zM795.3 566.9h3.9v3.9h-3.9zM794.9 567.5h3.9v3.9h-3.9zM795.7 566.6h3.9v3.9h-3.9zM795.8 564.5h3.9v3.9h-3.9zM795.9 563.6h3.9v3.9h-3.9zM796.2 563.2h3.9v3.9h-3.9zM796.1 562.6h3.9v3.9h-3.9zM796.1 561.8h3.9v3.9h-3.9zM796.8 560.8h3.9v3.9h-3.9zM796.7 559.9h3.9v3.9h-3.9zM796.7 559.0h3.9v3.9h-3.9zM797.4 559.6h3.9v3.9h-3.9zM797.3 557.7h3.9v3.9h-3.9zM797.6 558.0h3.9v3.9h-3.9zM797.8 556.1h3.9v3.9h-3.9zM798.1 555.3h3.9v3.9h-3.9zM798.2 554.8h3.9v3.9h-3.9zM798.9 555.4h3.9v3.9h-3.9zM798.9 553.6h3.9v3.9h-3.9zM799.5 552.5h3.9v3.9h-3.9zM799.4 552.8h3.9v3.9h-3.9zM800.1 551.7h3.9v3.9h-3.9zM800.4 550.5h3.9v3.9h-3.9zM800.6 550.1h3.9v3.9h-3.9zM800.9 549.2h3.9v3.9h-3.9zM801.7 548.5h3.9v3.9h-3.9zM801.8 548.1h3.9v3.9h-3.9zM802.0 548.6h3.9v3.9h-3.9zM803.0 548.4h3.9v3.9h-3.9zM803.0 547.1h3.9v3.9h-3.9zM803.6 545.7h3.9v3.9h-3.9zM804.1 546.1h3.9v3.9h-3.9zM804.6 546.0h3.9v3.9h-3.9zM805.2 544.8h3.9v3.9h-3.9zM806.3 545.5h3.9v3.9h-3.9zM806.4 546.7h3.9v3.9h-3.9zM807.1 546.7h3.9v3.9h-3.9zM807.6 547.6h3.9v3.9h-3.9zM808.5 546.9h3.9v3.9h-3.9zM808.8 546.7h3.9v3.9h-3.9zM809.6 545.6h3.9v3.9h-3.9zM809.9 544.8h3.9v3.9h-3.9zM809.9 543.8h3.9v3.9h-3.9zM810.2 542.9h3.9v3.9h-3.9zM811.0 542.9h3.9v3.9h-3.9zM810.7 541.6h3.9v3.9h-3.9zM811.3 542.1h3.9v3.9h-3.9zM812.2 541.8h3.9v3.9h-3.9zM812.4 541.8h3.9v3.9h-3.9zM813.4 542.4h3.9v3.9h-3.9zM813.6 542.4h3.9v3.9h-3.9zM813.9 543.9h3.9v3.9h-3.9zM814.7 545.2h3.9v3.9h-3.9zM815.0 544.7h3.9v3.9h-3.9zM815.6 546.3h3.9v3.9h-3.9zM815.4 546.0h3.9v3.9h-3.9zM816.3 546.3h3.9v3.9h-3.9z" fill="#000"/>
<path d="M529.0 557.2 L530.5 557.6 L532.0 558.1 L533.5 558.5 L535.0 558.9 L536.5 559.3 L538.0 559.6 L539.5 560.0 L541.0 560.4 L542.5 560.7 L544.0 561.0 L545.5 561.4 L547.0 561.6 L548.5 561.9 L550.0 562.2 L551.5 562.4 L553.0 562.6 L554.5 562.9 L556.0 563.1 L557.5 563.3 L559.0 563.5 L560.5 563.7 L562.0 563.9 L563.5 564.1 L565.0 564.3 L566.5 564.5 L568.0 564.6 L569.5 564.8 L571.0 564.9 L572.5 565.0 L574.0 565.1 L575.5 565.2 L577.0 565.3 L578.5 565.4 L580.0 565.4 L581.5 565.5 L583.0 565.6 L584.5 565.6 L586.0 565.7 L587.5 565.7 L589.0 565.8 L590.5 565.8 L592.0 565.9 L593.5 565.9 L595.0 565.9 L596.5 566.0 L598.0 566.0 L599.5 566.0 L601.0 566.0 L602.5 566.0 L604.0 566.0 L605.5 565.9 L607.0 565.8 L608.5 565.8 L610.0 565.7 L611.5 565.5 L613.0 565.4 L614.5 565.3 L616.0 565.2 L617.5 565.0 L619.0 564.9 L620.5 564.7 L622.0 564.5 L623.5 564.3 L625.0 564.1 L626.5 563.8 L628.0 563.4 L629.5 563.1 L631.0 562.7 L632.5 562.2 L634.0 561.8 L635.5 561.3 L637.0 560.7 L638.5 560.0 L640.0 559.2 L641.5 558.4 L643.0 557.5 L644.5 556.5 L646.0 555.4 L647.5 554.1 L649.0 552.6 L650.5 550.8 L652.0 548.7 L653.5 546.3 L655.0 543.6 L656.5 540.0 L658.0 535.7 L659.5 530.9 L661.0 525.3 L661.5 523.2 L661.8 522.1 L662.0 520.9 L662.2 519.7 L662.5 518.5 L662.8 517.3 L663.0 515.9 L663.2 514.5 L663.5 512.9 L663.8 511.3 L664.0 509.5 L664.2 507.7 L664.5 505.9 L664.8 504.0 L665.0 502.2 L665.2 500.3 L665.5 498.5 L665.8 496.6 L666.0 494.7 L666.2 492.8 L666.5 490.9 L666.8 488.9 L667.0 486.8 L667.2 484.6 L667.5 482.3 L667.8 480.1 L668.0 477.8 L668.2 475.5 L668.5 473.0 L668.8 470.4 L669.0 467.6 L669.2 464.6 L669.5 461.4 L669.8 457.8 L670.0 453.5 L670.2 448.7 L670.5 443.5 L670.8 438.2 L671.0 432.8 L671.2 427.7 L671.5 422.5 L671.8 417.2 L672.0 412.0 L672.2 407.0 L672.5 402.2 L672.8 397.5 L673.0 393.0 L673.2 388.5 L673.5 384.2 L673.8 388.5 L674.0 393.0 L674.2 397.5 L674.5 402.2 L674.8 407.0 L675.0 412.0 L675.2 417.2 L675.5 422.5 L675.8 427.7 L676.0 432.8 L676.2 438.2 L676.5 443.5 L676.8 448.7 L677.0 453.5 L677.2 457.8 L677.5 461.4 L677.8 464.6 L678.0 467.6 L678.2 470.4 L678.5 473.0 L678.8 475.5 L679.0 477.8 L679.2 480.1 L679.5 482.3 L679.8 484.6 L680.0 486.8 L680.2 488.9 L680.5 490.9 L680.8 492.8 L681.0 494.7 L681.2 496.6 L681.5 498.5 L681.8 500.3 L682.0 502.2 L682.2 504.0 L682.5 505.9 L682.8 507.7 L683.0 509.5 L683.2 511.3 L683.5 512.9 L683.8 514.5 L684.0 515.9 L684.2 517.3 L684.5 518.5 L684.8 519.7 L685.0 520.9 L685.2 522.1 L685.5 523.2 L686.0 525.3 L687.5 530.9 L689.0 535.7 L690.5 540.0 L692.0 543.6 L693.5 546.3 L695.0 548.7 L696.5 550.8 L698.0 552.6 L699.5 554.1 L701.0 555.4 L702.5 556.5 L704.0 557.5 L705.5 558.4 L707.0 559.2 L708.5 560.0 L710.0 560.7 L711.5 561.3 L713.0 561.8 L714.5 562.2 L716.0 562.7 L717.5 563.1 L719.0 563.4 L720.5 563.8 L722.0 564.1 L723.5 564.3 L725.0 564.5 L726.5 564.7 L728.0 564.9 L729.5 565.0 L731.0 565.2 L732.5 565.3 L734.0 565.4 L735.5 565.5 L737.0 565.7 L738.5 565.8 L740.0 565.8 L741.5 565.9 L743.0 566.0 L744.5 566.0 L746.0 566.0 L747.5 566.0 L749.0 566.0 L750.5 566.0 L752.0 565.9 L753.5 565.9 L755.0 565.9 L756.5 565.8 L758.0 565.8 L759.5 565.7 L761.0 565.7 L762.5 565.6 L764.0 565.6 L765.5 565.5 L767.0 565.4 L768.5 565.4 L770.0 565.3 L771.5 565.2 L773.0 565.1 L774.5 565.0 L776.0 564.9 L777.5 564.8 L779.0 564.6 L780.5 564.5 L782.0 564.3 L783.5 564.1 L785.0 563.9 L786.5 563.7 L788.0 563.5 L789.5 563.3 L791.0 563.1 L792.5 562.9 L794.0 562.6 L795.5 562.4 L797.0 562.2 L798.5 561.9 L800.0 561.6 L801.5 561.4 L803.0 561.0 L804.5 560.7 L806.0 560.4 L807.5 560.0 L809.0 559.6 L810.5 559.3 L812.0 558.9 L813.5 558.5 L815.0 558.1 L816.5 557.6 L818.0 557.2" fill="none" stroke="#ff0000" stroke-width="3.7" stroke-linejoin="round" stroke-linecap="butt"/>
<path d="M529.0 513.1 L530.5 514.4 L532.0 515.8 L533.5 517.1 L535.0 518.4 L536.5 519.8 L538.0 521.1 L539.5 522.4 L541.0 523.8 L542.5 525.1 L544.0 526.5 L545.5 527.8 L547.0 529.1 L548.5 530.5 L550.0 531.8 L551.5 533.2 L553.0 534.5 L554.5 535.9 L556.0 537.2 L557.5 538.6 L559.0 539.9 L560.5 541.3 L562.0 542.6 L563.5 544.0 L565.0 545.3 L566.5 546.7 L568.0 548.0 L569.5 549.4 L571.0 550.7 L572.5 552.0 L574.0 553.4 L575.5 554.7 L577.0 556.0 L578.5 557.4 L580.0 558.7 L581.5 560.1 L583.0 561.4 L584.5 562.8 L586.0 564.2 L587.5 565.5 L589.0 566.8 L590.5 568.2 L592.0 569.4 L593.5 570.7 L595.0 571.9 L596.5 573.1 L598.0 574.2 L599.5 575.3 L601.0 576.4 L602.5 577.4 L604.0 578.4 L605.5 579.3 L607.0 580.3 L608.5 581.2 L610.0 582.1 L611.5 582.9 L613.0 583.7 L614.5 584.5 L616.0 585.3 L617.5 586.0 L619.0 586.7 L620.5 587.3 L622.0 588.0 L623.5 588.6 L625.0 589.1 L626.5 589.5 L628.0 589.8 L629.5 590.0 L631.0 590.2 L632.5 590.3 L634.0 590.4 L635.5 590.3 L637.0 590.1 L638.5 589.8 L640.0 589.5 L641.5 589.1 L643.0 588.6 L644.5 588.0 L646.0 587.2 L647.5 586.3 L649.0 585.2 L650.5 583.6 L652.0 581.5 L653.5 578.9 L655.0 575.9 L656.5 572.5 L658.0 568.7 L659.5 563.5 L661.0 557.0 L661.5 554.6 L661.8 553.4 L662.0 552.1 L662.2 550.8 L662.5 549.4 L662.8 547.9 L663.0 546.3 L663.2 544.7 L663.5 543.0 L663.8 541.3 L664.0 539.5 L664.2 537.6 L664.5 535.6 L664.8 533.6 L665.0 531.4 L665.2 529.0 L665.5 526.5 L665.8 523.9 L666.0 521.3 L666.2 518.5 L666.5 515.7 L666.8 512.9 L667.0 510.0 L667.2 507.1 L667.5 504.2 L667.8 501.2 L668.0 498.2 L668.2 494.9 L668.5 491.5 L668.8 487.8 L669.0 483.8 L669.2 479.4 L669.5 474.7 L669.8 469.7 L670.0 464.4 L670.2 458.9 L670.5 452.7 L670.8 446.0 L671.0 439.2 L671.2 432.5 L671.5 426.3 L671.8 420.3 L672.0 414.6 L672.2 409.1 L672.5 403.8 L672.8 398.6 L673.0 393.6 L673.2 388.8 L673.5 384.2 L673.8 388.8 L674.0 393.6 L674.2 398.6 L674.5 403.8 L674.8 409.1 L675.0 414.6 L675.2 420.3 L675.5 426.3 L675.8 432.5 L676.0 439.2 L676.2 446.0 L676.5 452.7 L676.8 458.9 L677.0 464.4 L677.2 469.7 L677.5 474.7 L677.8 479.4 L678.0 483.8 L678.2 487.8 L678.5 491.5 L678.8 494.9 L679.0 498.2 L679.2 501.2 L679.5 504.2 L679.8 507.1 L680.0 510.0 L680.2 512.9 L680.5 515.7 L680.8 518.5 L681.0 521.3 L681.2 523.9 L681.5 526.5 L681.8 529.0 L682.0 531.4 L682.2 533.6 L682.5 535.6 L682.8 537.6 L683.0 539.5 L683.2 541.3 L683.5 543.0 L683.8 544.7 L684.0 546.3 L684.2 547.9 L684.5 549.4 L684.8 550.8 L685.0 552.1 L685.2 553.4 L685.5 554.6 L686.0 557.0 L687.5 563.5 L689.0 568.7 L690.5 572.5 L692.0 575.9 L693.5 578.9 L695.0 581.5 L696.5 583.6 L698.0 585.2 L699.5 586.3 L701.0 587.2 L702.5 588.0 L704.0 588.6 L705.5 589.1 L707.0 589.5 L708.5 589.8 L710.0 590.1 L711.5 590.3 L713.0 590.4 L714.5 590.3 L716.0 590.2 L717.5 590.0 L719.0 589.8 L720.5 589.5 L722.0 589.1 L723.5 588.6 L725.0 588.0 L726.5 587.3 L728.0 586.7 L729.5 586.0 L731.0 585.3 L732.5 584.5 L734.0 583.7 L735.5 582.9 L737.0 582.1 L738.5 581.2 L740.0 580.3 L741.5 579.3 L743.0 578.4 L744.5 577.4 L746.0 576.4 L747.5 575.3 L749.0 574.2 L750.5 573.1 L752.0 571.9 L753.5 570.7 L755.0 569.4 L756.5 568.2 L758.0 566.8 L759.5 565.5 L761.0 564.2 L762.5 562.8 L764.0 561.4 L765.5 560.1 L767.0 558.7 L768.5 557.4 L770.0 556.0 L771.5 554.7 L773.0 553.4 L774.5 552.0 L776.0 550.7 L777.5 549.4 L779.0 548.0 L780.5 546.7 L782.0 545.3 L783.5 544.0 L785.0 542.6 L786.5 541.3 L788.0 539.9 L789.5 538.6 L791.0 537.2 L792.5 535.9 L794.0 534.5 L795.5 533.2 L797.0 531.8 L798.5 530.5 L800.0 529.1 L801.5 527.8 L803.0 526.5 L804.5 525.1 L806.0 523.8 L807.5 522.4 L809.0 521.1 L810.5 519.8 L812.0 518.4 L813.5 517.1 L815.0 515.8 L816.5 514.4 L818.0 513.1" fill="none" stroke="#0000ff" stroke-width="3.8" stroke-linejoin="round" stroke-linecap="butt"/>
<path d="M529.0 453.6 L530.5 455.4 L532.0 457.3 L533.5 459.1 L535.0 460.9 L536.5 462.8 L538.0 464.6 L539.5 466.5 L541.0 468.3 L542.5 470.2 L544.0 472.1 L545.5 473.9 L547.0 475.8 L548.5 477.7 L550.0 479.5 L551.5 481.4 L553.0 483.3 L554.5 485.2 L556.0 487.2 L557.5 489.1 L559.0 491.0 L560.5 492.9 L562.0 494.9 L563.5 496.8 L565.0 498.7 L566.5 500.7 L568.0 502.6 L569.5 504.5 L571.0 506.4 L572.5 508.3 L574.0 510.2 L575.5 512.1 L577.0 514.0 L578.5 515.9 L580.0 517.8 L581.5 519.7 L583.0 521.5 L584.5 523.4 L586.0 525.3 L587.5 527.1 L589.0 529.0 L590.5 530.9 L592.0 532.7 L593.5 534.6 L595.0 536.4 L596.5 538.3 L598.0 540.1 L599.5 542.0 L601.0 543.8 L602.5 545.6 L604.0 547.5 L605.5 549.3 L607.0 551.2 L608.5 553.0 L610.0 554.8 L611.5 556.7 L613.0 558.5 L614.5 560.3 L616.0 562.1 L617.5 563.8 L619.0 565.6 L620.5 567.3 L622.0 569.0 L623.5 570.7 L625.0 572.4 L626.5 574.2 L628.0 575.8 L629.5 577.4 L631.0 579.0 L632.5 580.4 L634.0 581.7 L635.5 583.0 L637.0 584.3 L638.5 585.4 L640.0 586.3 L641.5 586.9 L643.0 587.5 L644.5 587.9 L646.0 588.1 L647.5 587.9 L649.0 587.3 L650.5 586.6 L652.0 585.7 L653.5 584.1 L655.0 582.0 L656.5 579.3 L658.0 576.0 L659.5 571.3 L661.0 565.2 L661.5 562.8 L661.8 561.6 L662.0 560.4 L662.2 559.1 L662.5 557.7 L662.8 556.4 L663.0 554.9 L663.2 553.4 L663.5 551.7 L663.8 549.9 L664.0 547.9 L664.2 545.9 L664.5 543.8 L664.8 541.5 L665.0 539.2 L665.2 536.9 L665.5 534.4 L665.8 531.9 L666.0 529.4 L666.2 526.7 L666.5 523.9 L666.8 520.8 L667.0 517.6 L667.2 514.3 L667.5 511.0 L667.8 507.6 L668.0 504.2 L668.2 500.8 L668.5 497.5 L668.8 494.0 L669.0 490.3 L669.2 486.1 L669.5 481.2 L669.8 475.8 L670.0 469.9 L670.2 463.8 L670.5 457.4 L670.8 450.3 L671.0 442.9 L671.2 435.5 L671.5 428.7 L671.8 422.6 L672.0 416.9 L672.2 411.3 L672.5 405.8 L672.8 400.3 L673.0 394.8 L673.2 389.5 L673.5 384.2 L673.8 389.5 L674.0 394.8 L674.2 400.3 L674.5 405.8 L674.8 411.3 L675.0 416.9 L675.2 422.6 L675.5 428.7 L675.8 435.5 L676.0 442.9 L676.2 450.3 L676.5 457.4 L676.8 463.8 L677.0 469.9 L677.2 475.8 L677.5 481.2 L677.8 486.1 L678.0 490.3 L678.2 494.0 L678.5 497.5 L678.8 500.8 L679.0 504.2 L679.2 507.6 L679.5 511.0 L679.8 514.3 L680.0 517.6 L680.2 520.8 L680.5 523.9 L680.8 526.7 L681.0 529.4 L681.2 531.9 L681.5 534.4 L681.8 536.9 L682.0 539.2 L682.2 541.5 L682.5 543.8 L682.8 545.9 L683.0 547.9 L683.2 549.9 L683.5 551.7 L683.8 553.4 L684.0 554.9 L684.2 556.4 L684.5 557.7 L684.8 559.1 L685.0 560.4 L685.2 561.6 L685.5 562.8 L686.0 565.2 L687.5 571.3 L689.0 576.0 L690.5 579.3 L692.0 582.0 L693.5 584.1 L695.0 585.7 L696.5 586.6 L698.0 587.3 L699.5 587.9 L701.0 588.1 L702.5 587.9 L704.0 587.5 L705.5 586.9 L707.0 586.3 L708.5 585.4 L710.0 584.3 L711.5 583.0 L713.0 581.7 L714.5 580.4 L716.0 579.0 L717.5 577.4 L719.0 575.8 L720.5 574.2 L722.0 572.4 L723.5 570.7 L725.0 569.0 L726.5 567.3 L728.0 565.6 L729.5 563.8 L731.0 562.1 L732.5 560.3 L734.0 558.5 L735.5 556.7 L737.0 554.8 L738.5 553.0 L740.0 551.2 L741.5 549.3 L743.0 547.5 L744.5 545.6 L746.0 543.8 L747.5 542.0 L749.0 540.1 L750.5 538.3 L752.0 536.4 L753.5 534.6 L755.0 532.7 L756.5 530.9 L758.0 529.0 L759.5 527.1 L761.0 525.3 L762.5 523.4 L764.0 521.5 L765.5 519.7 L767.0 517.8 L768.5 515.9 L770.0 514.0 L771.5 512.1 L773.0 510.2 L774.5 508.3 L776.0 506.4 L777.5 504.5 L779.0 502.6 L780.5 500.7 L782.0 498.7 L783.5 496.8 L785.0 494.9 L786.5 492.9 L788.0 491.0 L789.5 489.1 L791.0 487.2 L792.5 485.2 L794.0 483.3 L795.5 481.4 L797.0 479.5 L798.5 477.7 L800.0 475.8 L801.5 473.9 L803.0 472.1 L804.5 470.2 L806.0 468.3 L807.5 466.5 L809.0 464.6 L810.5 462.8 L812.0 460.9 L813.5 459.1 L815.0 457.3 L816.5 455.4 L818.0 453.6" fill="none" stroke="#00ff00" stroke-width="3.9" stroke-linejoin="round" stroke-linecap="butt"/>
</g>
<text transform="translate(535.2 630.8) scale(1 1.045)" font-size="27.3" text-anchor="middle">-10</text>
<text transform="translate(673.0 630.8) scale(1 1.045)" font-size="27.3" text-anchor="middle">0</text>
<text transform="translate(812.1 630.8) scale(1 1.045)" font-size="27.3" text-anchor="middle">10</text>
<text transform="translate(521.9 394.1) scale(1 1.045)" font-size="27.3" text-anchor="end">0</text>
<text transform="translate(521.9 470.7) scale(1 1.045)" font-size="27.3" text-anchor="end">-0.1</text>
<text transform="translate(521.9 546.9) scale(1 1.045)" font-size="27.3" text-anchor="end">-0.2</text>
<path d="M685.7 384.5H714.3" stroke="#ff0000" stroke-width="3.4" stroke-linecap="round"/>
<text transform="translate(718.2 394.7) scale(1 1.04)" font-size="27">0.05 ps</text>
<path d="M685.7 418.1H714.3" stroke="#0000ff" stroke-width="3.4" stroke-linecap="round"/>
<text transform="translate(718.2 426.3) scale(1 1.04)" font-size="27">0.21 ps</text>
<path d="M685.7 448.2H714.3" stroke="#00ff00" stroke-width="3.4" stroke-linecap="round"/>
<text transform="translate(718.2 457.9) scale(1 1.04)" font-size="27">0.43 ps</text>
<text transform="translate(545.4 418.8) scale(1 1.07)" font-size="33.2">(d)</text>
<text x="685.5" y="661.7" font-size="30.5" text-anchor="middle"><tspan font-style="italic">B</tspan> (mT)</text>
<g transform="translate(460.2 588.1) rotate(-90)"><text x="0" y="0" font-size="31.7">Δ<tspan font-style="italic">σ</tspan>-Δ<tspan font-style="italic">σ</tspan></text><text x="91.2" y="10" font-size="18" font-style="italic">20K</text><text x="131.7" y="0" font-size="30">(e</text><text x="158.4" y="-12" font-size="18">2</text><text x="168.4" y="0" font-size="30">/h)</text></g>
</g>
</svg>
</body></html>
